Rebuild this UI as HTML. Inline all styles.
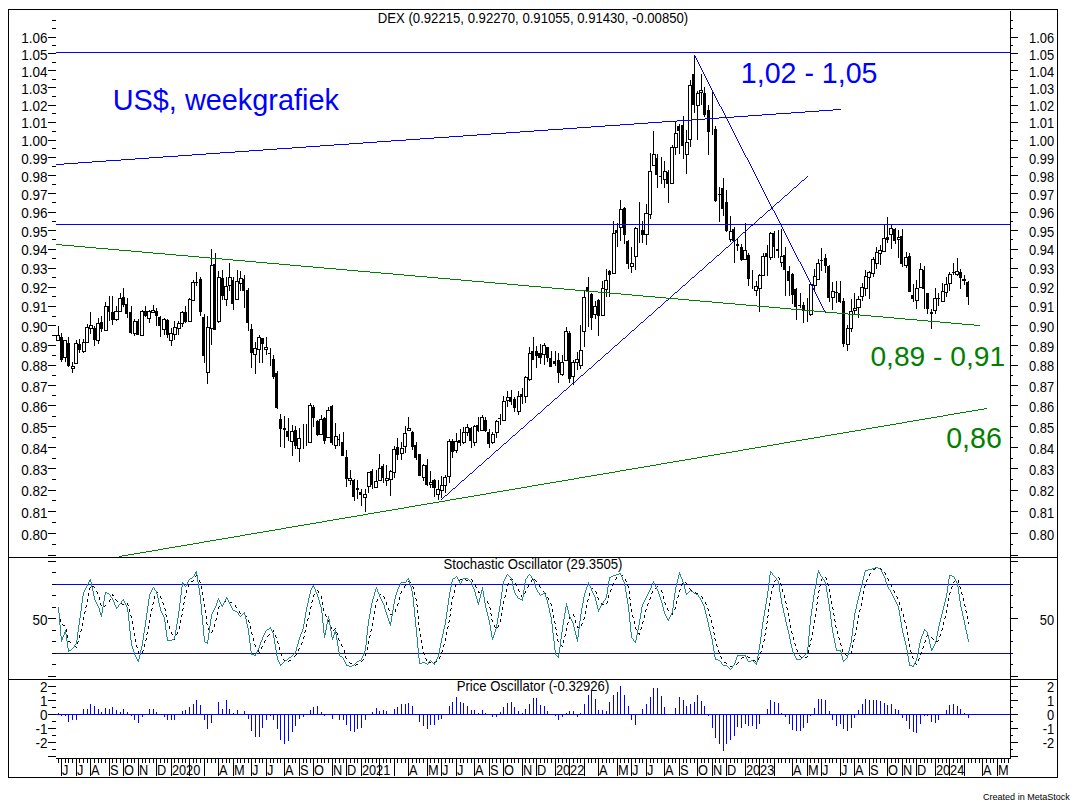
<!DOCTYPE html>
<html><head><meta charset="utf-8"><title>DEX weekgrafiek</title>
<style>
html,body{margin:0;padding:0;background:#fff;}
body{width:1073px;height:806px;overflow:hidden;font-family:"Liberation Sans",sans-serif;}
svg{position:absolute;left:0;top:0;display:block;}
text{font-family:"Liberation Sans",sans-serif;}
</style></head><body>
<svg width="1073" height="806" viewBox="0 0 1073 806">
<rect x="0" y="0" width="1073" height="806" fill="#fff"/>
<g shape-rendering="crispEdges">
<rect x="8" y="9" width="1050" height="1" fill="#000"/>
<rect x="8" y="777" width="1050" height="1" fill="#000"/>
<rect x="8" y="9" width="1" height="769" fill="#000"/>
<rect x="1057" y="9" width="1" height="769" fill="#000"/>
<rect x="8" y="557" width="1050" height="1" fill="#000"/>
<rect x="8" y="679" width="1050" height="1" fill="#000"/>
<rect x="1010" y="11" width="1" height="748" fill="#000"/>
<rect x="56" y="758" width="955" height="1" fill="#000"/>
<rect x="52" y="20" width="4" height="1" fill="#000"/>
<rect x="1011" y="20" width="2" height="1" fill="#000"/>
<rect x="52" y="28" width="4" height="1" fill="#000"/>
<rect x="1011" y="28" width="2" height="1" fill="#000"/>
<rect x="48" y="37" width="8" height="1" fill="#000"/>
<rect x="1011" y="37" width="7" height="1" fill="#000"/>
<rect x="52" y="45" width="4" height="1" fill="#000"/>
<rect x="1011" y="45" width="2" height="1" fill="#000"/>
<rect x="48" y="53" width="8" height="1" fill="#000"/>
<rect x="1011" y="53" width="7" height="1" fill="#000"/>
<rect x="52" y="62" width="4" height="1" fill="#000"/>
<rect x="1011" y="62" width="2" height="1" fill="#000"/>
<rect x="48" y="70" width="8" height="1" fill="#000"/>
<rect x="1011" y="70" width="7" height="1" fill="#000"/>
<rect x="52" y="79" width="4" height="1" fill="#000"/>
<rect x="1011" y="79" width="2" height="1" fill="#000"/>
<rect x="48" y="87" width="8" height="1" fill="#000"/>
<rect x="1011" y="87" width="7" height="1" fill="#000"/>
<rect x="52" y="96" width="4" height="1" fill="#000"/>
<rect x="1011" y="96" width="2" height="1" fill="#000"/>
<rect x="48" y="105" width="8" height="1" fill="#000"/>
<rect x="1011" y="105" width="7" height="1" fill="#000"/>
<rect x="52" y="113" width="4" height="1" fill="#000"/>
<rect x="1011" y="113" width="2" height="1" fill="#000"/>
<rect x="48" y="122" width="8" height="1" fill="#000"/>
<rect x="1011" y="122" width="7" height="1" fill="#000"/>
<rect x="52" y="131" width="4" height="1" fill="#000"/>
<rect x="1011" y="131" width="2" height="1" fill="#000"/>
<rect x="48" y="140" width="8" height="1" fill="#000"/>
<rect x="1011" y="140" width="7" height="1" fill="#000"/>
<rect x="52" y="148" width="4" height="1" fill="#000"/>
<rect x="1011" y="148" width="2" height="1" fill="#000"/>
<rect x="48" y="157" width="8" height="1" fill="#000"/>
<rect x="1011" y="157" width="7" height="1" fill="#000"/>
<rect x="52" y="166" width="4" height="1" fill="#000"/>
<rect x="1011" y="166" width="2" height="1" fill="#000"/>
<rect x="48" y="175" width="8" height="1" fill="#000"/>
<rect x="1011" y="175" width="7" height="1" fill="#000"/>
<rect x="52" y="184" width="4" height="1" fill="#000"/>
<rect x="1011" y="184" width="2" height="1" fill="#000"/>
<rect x="48" y="193" width="8" height="1" fill="#000"/>
<rect x="1011" y="193" width="7" height="1" fill="#000"/>
<rect x="52" y="202" width="4" height="1" fill="#000"/>
<rect x="1011" y="202" width="2" height="1" fill="#000"/>
<rect x="48" y="212" width="8" height="1" fill="#000"/>
<rect x="1011" y="212" width="7" height="1" fill="#000"/>
<rect x="52" y="221" width="4" height="1" fill="#000"/>
<rect x="1011" y="221" width="2" height="1" fill="#000"/>
<rect x="48" y="230" width="8" height="1" fill="#000"/>
<rect x="1011" y="230" width="7" height="1" fill="#000"/>
<rect x="52" y="239" width="4" height="1" fill="#000"/>
<rect x="1011" y="239" width="2" height="1" fill="#000"/>
<rect x="48" y="249" width="8" height="1" fill="#000"/>
<rect x="1011" y="249" width="7" height="1" fill="#000"/>
<rect x="52" y="258" width="4" height="1" fill="#000"/>
<rect x="1011" y="258" width="2" height="1" fill="#000"/>
<rect x="48" y="268" width="8" height="1" fill="#000"/>
<rect x="1011" y="268" width="7" height="1" fill="#000"/>
<rect x="52" y="277" width="4" height="1" fill="#000"/>
<rect x="1011" y="277" width="2" height="1" fill="#000"/>
<rect x="48" y="287" width="8" height="1" fill="#000"/>
<rect x="1011" y="287" width="7" height="1" fill="#000"/>
<rect x="52" y="296" width="4" height="1" fill="#000"/>
<rect x="1011" y="296" width="2" height="1" fill="#000"/>
<rect x="48" y="306" width="8" height="1" fill="#000"/>
<rect x="1011" y="306" width="7" height="1" fill="#000"/>
<rect x="52" y="316" width="4" height="1" fill="#000"/>
<rect x="1011" y="316" width="2" height="1" fill="#000"/>
<rect x="48" y="325" width="8" height="1" fill="#000"/>
<rect x="1011" y="325" width="7" height="1" fill="#000"/>
<rect x="52" y="335" width="4" height="1" fill="#000"/>
<rect x="1011" y="335" width="2" height="1" fill="#000"/>
<rect x="48" y="345" width="8" height="1" fill="#000"/>
<rect x="1011" y="345" width="7" height="1" fill="#000"/>
<rect x="52" y="355" width="4" height="1" fill="#000"/>
<rect x="1011" y="355" width="2" height="1" fill="#000"/>
<rect x="48" y="365" width="8" height="1" fill="#000"/>
<rect x="1011" y="365" width="7" height="1" fill="#000"/>
<rect x="52" y="375" width="4" height="1" fill="#000"/>
<rect x="1011" y="375" width="2" height="1" fill="#000"/>
<rect x="48" y="385" width="8" height="1" fill="#000"/>
<rect x="1011" y="385" width="7" height="1" fill="#000"/>
<rect x="52" y="395" width="4" height="1" fill="#000"/>
<rect x="1011" y="395" width="2" height="1" fill="#000"/>
<rect x="48" y="405" width="8" height="1" fill="#000"/>
<rect x="1011" y="405" width="7" height="1" fill="#000"/>
<rect x="52" y="416" width="4" height="1" fill="#000"/>
<rect x="1011" y="416" width="2" height="1" fill="#000"/>
<rect x="48" y="426" width="8" height="1" fill="#000"/>
<rect x="1011" y="426" width="7" height="1" fill="#000"/>
<rect x="52" y="437" width="4" height="1" fill="#000"/>
<rect x="1011" y="437" width="2" height="1" fill="#000"/>
<rect x="48" y="447" width="8" height="1" fill="#000"/>
<rect x="1011" y="447" width="7" height="1" fill="#000"/>
<rect x="52" y="458" width="4" height="1" fill="#000"/>
<rect x="1011" y="458" width="2" height="1" fill="#000"/>
<rect x="48" y="468" width="8" height="1" fill="#000"/>
<rect x="1011" y="468" width="7" height="1" fill="#000"/>
<rect x="52" y="479" width="4" height="1" fill="#000"/>
<rect x="1011" y="479" width="2" height="1" fill="#000"/>
<rect x="48" y="490" width="8" height="1" fill="#000"/>
<rect x="1011" y="490" width="7" height="1" fill="#000"/>
<rect x="52" y="500" width="4" height="1" fill="#000"/>
<rect x="1011" y="500" width="2" height="1" fill="#000"/>
<rect x="48" y="511" width="8" height="1" fill="#000"/>
<rect x="1011" y="511" width="7" height="1" fill="#000"/>
<rect x="52" y="522" width="4" height="1" fill="#000"/>
<rect x="1011" y="522" width="2" height="1" fill="#000"/>
<rect x="48" y="533" width="8" height="1" fill="#000"/>
<rect x="1011" y="533" width="7" height="1" fill="#000"/>
<rect x="52" y="544" width="4" height="1" fill="#000"/>
<rect x="1011" y="544" width="2" height="1" fill="#000"/>
<rect x="48" y="555" width="8" height="1" fill="#000"/>
<rect x="1011" y="555" width="7" height="1" fill="#000"/>
<rect x="48" y="676" width="8" height="1" fill="#000"/>
<rect x="1011" y="676" width="7" height="1" fill="#000"/>
<rect x="52" y="664" width="4" height="1" fill="#000"/>
<rect x="1011" y="664" width="2" height="1" fill="#000"/>
<rect x="52" y="653" width="4" height="1" fill="#000"/>
<rect x="1011" y="653" width="2" height="1" fill="#000"/>
<rect x="52" y="641" width="4" height="1" fill="#000"/>
<rect x="1011" y="641" width="2" height="1" fill="#000"/>
<rect x="52" y="630" width="4" height="1" fill="#000"/>
<rect x="1011" y="630" width="2" height="1" fill="#000"/>
<rect x="48" y="618" width="8" height="1" fill="#000"/>
<rect x="1011" y="618" width="7" height="1" fill="#000"/>
<rect x="52" y="607" width="4" height="1" fill="#000"/>
<rect x="1011" y="607" width="2" height="1" fill="#000"/>
<rect x="52" y="595" width="4" height="1" fill="#000"/>
<rect x="1011" y="595" width="2" height="1" fill="#000"/>
<rect x="52" y="584" width="4" height="1" fill="#000"/>
<rect x="1011" y="584" width="2" height="1" fill="#000"/>
<rect x="52" y="572" width="4" height="1" fill="#000"/>
<rect x="1011" y="572" width="2" height="1" fill="#000"/>
<rect x="48" y="561" width="8" height="1" fill="#000"/>
<rect x="1011" y="561" width="7" height="1" fill="#000"/>
<rect x="48" y="756" width="8" height="1" fill="#000"/>
<rect x="1011" y="756" width="7" height="1" fill="#000"/>
<rect x="52" y="749" width="4" height="1" fill="#000"/>
<rect x="1011" y="749" width="2" height="1" fill="#000"/>
<rect x="48" y="742" width="8" height="1" fill="#000"/>
<rect x="1011" y="742" width="7" height="1" fill="#000"/>
<rect x="52" y="735" width="4" height="1" fill="#000"/>
<rect x="1011" y="735" width="2" height="1" fill="#000"/>
<rect x="48" y="728" width="8" height="1" fill="#000"/>
<rect x="1011" y="728" width="7" height="1" fill="#000"/>
<rect x="52" y="721" width="4" height="1" fill="#000"/>
<rect x="1011" y="721" width="2" height="1" fill="#000"/>
<rect x="48" y="714" width="8" height="1" fill="#000"/>
<rect x="1011" y="714" width="7" height="1" fill="#000"/>
<rect x="52" y="707" width="4" height="1" fill="#000"/>
<rect x="1011" y="707" width="2" height="1" fill="#000"/>
<rect x="48" y="700" width="8" height="1" fill="#000"/>
<rect x="1011" y="700" width="7" height="1" fill="#000"/>
<rect x="52" y="693" width="4" height="1" fill="#000"/>
<rect x="1011" y="693" width="2" height="1" fill="#000"/>
<rect x="48" y="686" width="8" height="1" fill="#000"/>
<rect x="1011" y="686" width="7" height="1" fill="#000"/>
<rect x="58" y="759" width="1" height="4" fill="#000"/>
<rect x="61" y="759" width="1" height="17" fill="#000"/>
<rect x="65" y="759" width="1" height="4" fill="#000"/>
<rect x="68" y="759" width="1" height="4" fill="#000"/>
<rect x="72" y="759" width="1" height="4" fill="#000"/>
<rect x="76" y="759" width="1" height="17" fill="#000"/>
<rect x="79" y="759" width="1" height="4" fill="#000"/>
<rect x="83" y="759" width="1" height="4" fill="#000"/>
<rect x="87" y="759" width="1" height="4" fill="#000"/>
<rect x="90" y="759" width="1" height="17" fill="#000"/>
<rect x="94" y="759" width="1" height="4" fill="#000"/>
<rect x="98" y="759" width="1" height="4" fill="#000"/>
<rect x="101" y="759" width="1" height="4" fill="#000"/>
<rect x="105" y="759" width="1" height="4" fill="#000"/>
<rect x="109" y="759" width="1" height="17" fill="#000"/>
<rect x="112" y="759" width="1" height="4" fill="#000"/>
<rect x="116" y="759" width="1" height="4" fill="#000"/>
<rect x="120" y="759" width="1" height="4" fill="#000"/>
<rect x="123" y="759" width="1" height="17" fill="#000"/>
<rect x="127" y="759" width="1" height="4" fill="#000"/>
<rect x="131" y="759" width="1" height="4" fill="#000"/>
<rect x="134" y="759" width="1" height="4" fill="#000"/>
<rect x="138" y="759" width="1" height="17" fill="#000"/>
<rect x="142" y="759" width="1" height="4" fill="#000"/>
<rect x="145" y="759" width="1" height="4" fill="#000"/>
<rect x="149" y="759" width="1" height="4" fill="#000"/>
<rect x="153" y="759" width="1" height="4" fill="#000"/>
<rect x="156" y="759" width="1" height="17" fill="#000"/>
<rect x="160" y="759" width="1" height="4" fill="#000"/>
<rect x="164" y="759" width="1" height="4" fill="#000"/>
<rect x="167" y="759" width="1" height="4" fill="#000"/>
<rect x="171" y="759" width="1" height="17" fill="#000"/>
<rect x="174" y="759" width="1" height="4" fill="#000"/>
<rect x="178" y="759" width="1" height="4" fill="#000"/>
<rect x="182" y="759" width="1" height="4" fill="#000"/>
<rect x="185" y="759" width="1" height="4" fill="#000"/>
<rect x="189" y="759" width="1" height="17" fill="#000"/>
<rect x="193" y="759" width="1" height="4" fill="#000"/>
<rect x="196" y="759" width="1" height="4" fill="#000"/>
<rect x="200" y="759" width="1" height="4" fill="#000"/>
<rect x="204" y="759" width="1" height="17" fill="#000"/>
<rect x="207" y="759" width="1" height="4" fill="#000"/>
<rect x="211" y="759" width="1" height="4" fill="#000"/>
<rect x="215" y="759" width="1" height="4" fill="#000"/>
<rect x="218" y="759" width="1" height="17" fill="#000"/>
<rect x="222" y="759" width="1" height="4" fill="#000"/>
<rect x="226" y="759" width="1" height="4" fill="#000"/>
<rect x="229" y="759" width="1" height="4" fill="#000"/>
<rect x="233" y="759" width="1" height="17" fill="#000"/>
<rect x="237" y="759" width="1" height="4" fill="#000"/>
<rect x="240" y="759" width="1" height="4" fill="#000"/>
<rect x="244" y="759" width="1" height="4" fill="#000"/>
<rect x="248" y="759" width="1" height="4" fill="#000"/>
<rect x="251" y="759" width="1" height="17" fill="#000"/>
<rect x="255" y="759" width="1" height="4" fill="#000"/>
<rect x="259" y="759" width="1" height="4" fill="#000"/>
<rect x="262" y="759" width="1" height="4" fill="#000"/>
<rect x="266" y="759" width="1" height="17" fill="#000"/>
<rect x="270" y="759" width="1" height="4" fill="#000"/>
<rect x="273" y="759" width="1" height="4" fill="#000"/>
<rect x="277" y="759" width="1" height="4" fill="#000"/>
<rect x="280" y="759" width="1" height="4" fill="#000"/>
<rect x="284" y="759" width="1" height="17" fill="#000"/>
<rect x="288" y="759" width="1" height="4" fill="#000"/>
<rect x="292" y="759" width="1" height="4" fill="#000"/>
<rect x="295" y="759" width="1" height="4" fill="#000"/>
<rect x="299" y="759" width="1" height="17" fill="#000"/>
<rect x="303" y="759" width="1" height="4" fill="#000"/>
<rect x="306" y="759" width="1" height="4" fill="#000"/>
<rect x="310" y="759" width="1" height="4" fill="#000"/>
<rect x="313" y="759" width="1" height="17" fill="#000"/>
<rect x="317" y="759" width="1" height="4" fill="#000"/>
<rect x="321" y="759" width="1" height="4" fill="#000"/>
<rect x="324" y="759" width="1" height="4" fill="#000"/>
<rect x="328" y="759" width="1" height="4" fill="#000"/>
<rect x="332" y="759" width="1" height="17" fill="#000"/>
<rect x="335" y="759" width="1" height="4" fill="#000"/>
<rect x="339" y="759" width="1" height="4" fill="#000"/>
<rect x="343" y="759" width="1" height="4" fill="#000"/>
<rect x="346" y="759" width="1" height="17" fill="#000"/>
<rect x="350" y="759" width="1" height="4" fill="#000"/>
<rect x="354" y="759" width="1" height="4" fill="#000"/>
<rect x="357" y="759" width="1" height="4" fill="#000"/>
<rect x="361" y="759" width="1" height="17" fill="#000"/>
<rect x="365" y="759" width="1" height="4" fill="#000"/>
<rect x="368" y="759" width="1" height="4" fill="#000"/>
<rect x="372" y="759" width="1" height="4" fill="#000"/>
<rect x="376" y="759" width="1" height="4" fill="#000"/>
<rect x="379" y="759" width="1" height="17" fill="#000"/>
<rect x="383" y="759" width="1" height="4" fill="#000"/>
<rect x="386" y="759" width="1" height="4" fill="#000"/>
<rect x="390" y="759" width="1" height="4" fill="#000"/>
<rect x="394" y="759" width="1" height="17" fill="#000"/>
<rect x="397" y="759" width="1" height="4" fill="#000"/>
<rect x="401" y="759" width="1" height="4" fill="#000"/>
<rect x="405" y="759" width="1" height="4" fill="#000"/>
<rect x="408" y="759" width="1" height="17" fill="#000"/>
<rect x="412" y="759" width="1" height="4" fill="#000"/>
<rect x="416" y="759" width="1" height="4" fill="#000"/>
<rect x="419" y="759" width="1" height="4" fill="#000"/>
<rect x="423" y="759" width="1" height="4" fill="#000"/>
<rect x="427" y="759" width="1" height="17" fill="#000"/>
<rect x="430" y="759" width="1" height="4" fill="#000"/>
<rect x="434" y="759" width="1" height="4" fill="#000"/>
<rect x="438" y="759" width="1" height="4" fill="#000"/>
<rect x="441" y="759" width="1" height="17" fill="#000"/>
<rect x="445" y="759" width="1" height="4" fill="#000"/>
<rect x="449" y="759" width="1" height="4" fill="#000"/>
<rect x="452" y="759" width="1" height="4" fill="#000"/>
<rect x="456" y="759" width="1" height="17" fill="#000"/>
<rect x="460" y="759" width="1" height="4" fill="#000"/>
<rect x="463" y="759" width="1" height="4" fill="#000"/>
<rect x="467" y="759" width="1" height="4" fill="#000"/>
<rect x="471" y="759" width="1" height="4" fill="#000"/>
<rect x="474" y="759" width="1" height="17" fill="#000"/>
<rect x="478" y="759" width="1" height="4" fill="#000"/>
<rect x="482" y="759" width="1" height="4" fill="#000"/>
<rect x="485" y="759" width="1" height="4" fill="#000"/>
<rect x="489" y="759" width="1" height="17" fill="#000"/>
<rect x="492" y="759" width="1" height="4" fill="#000"/>
<rect x="496" y="759" width="1" height="4" fill="#000"/>
<rect x="500" y="759" width="1" height="4" fill="#000"/>
<rect x="503" y="759" width="1" height="17" fill="#000"/>
<rect x="507" y="759" width="1" height="4" fill="#000"/>
<rect x="511" y="759" width="1" height="4" fill="#000"/>
<rect x="514" y="759" width="1" height="4" fill="#000"/>
<rect x="518" y="759" width="1" height="4" fill="#000"/>
<rect x="522" y="759" width="1" height="17" fill="#000"/>
<rect x="525" y="759" width="1" height="4" fill="#000"/>
<rect x="529" y="759" width="1" height="4" fill="#000"/>
<rect x="533" y="759" width="1" height="4" fill="#000"/>
<rect x="536" y="759" width="1" height="17" fill="#000"/>
<rect x="540" y="759" width="1" height="4" fill="#000"/>
<rect x="544" y="759" width="1" height="4" fill="#000"/>
<rect x="547" y="759" width="1" height="4" fill="#000"/>
<rect x="551" y="759" width="1" height="4" fill="#000"/>
<rect x="555" y="759" width="1" height="17" fill="#000"/>
<rect x="558" y="759" width="1" height="4" fill="#000"/>
<rect x="562" y="759" width="1" height="4" fill="#000"/>
<rect x="566" y="759" width="1" height="4" fill="#000"/>
<rect x="569" y="759" width="1" height="17" fill="#000"/>
<rect x="573" y="759" width="1" height="4" fill="#000"/>
<rect x="577" y="759" width="1" height="4" fill="#000"/>
<rect x="580" y="759" width="1" height="4" fill="#000"/>
<rect x="584" y="759" width="1" height="17" fill="#000"/>
<rect x="588" y="759" width="1" height="4" fill="#000"/>
<rect x="591" y="759" width="1" height="4" fill="#000"/>
<rect x="595" y="759" width="1" height="4" fill="#000"/>
<rect x="598" y="759" width="1" height="17" fill="#000"/>
<rect x="602" y="759" width="1" height="4" fill="#000"/>
<rect x="606" y="759" width="1" height="4" fill="#000"/>
<rect x="609" y="759" width="1" height="4" fill="#000"/>
<rect x="613" y="759" width="1" height="4" fill="#000"/>
<rect x="617" y="759" width="1" height="17" fill="#000"/>
<rect x="620" y="759" width="1" height="4" fill="#000"/>
<rect x="624" y="759" width="1" height="4" fill="#000"/>
<rect x="628" y="759" width="1" height="4" fill="#000"/>
<rect x="631" y="759" width="1" height="17" fill="#000"/>
<rect x="635" y="759" width="1" height="4" fill="#000"/>
<rect x="639" y="759" width="1" height="4" fill="#000"/>
<rect x="642" y="759" width="1" height="4" fill="#000"/>
<rect x="646" y="759" width="1" height="17" fill="#000"/>
<rect x="650" y="759" width="1" height="4" fill="#000"/>
<rect x="653" y="759" width="1" height="4" fill="#000"/>
<rect x="657" y="759" width="1" height="4" fill="#000"/>
<rect x="661" y="759" width="1" height="4" fill="#000"/>
<rect x="664" y="759" width="1" height="17" fill="#000"/>
<rect x="668" y="759" width="1" height="4" fill="#000"/>
<rect x="672" y="759" width="1" height="4" fill="#000"/>
<rect x="675" y="759" width="1" height="4" fill="#000"/>
<rect x="679" y="759" width="1" height="17" fill="#000"/>
<rect x="683" y="759" width="1" height="4" fill="#000"/>
<rect x="686" y="759" width="1" height="4" fill="#000"/>
<rect x="690" y="759" width="1" height="4" fill="#000"/>
<rect x="694" y="759" width="1" height="4" fill="#000"/>
<rect x="697" y="759" width="1" height="17" fill="#000"/>
<rect x="701" y="759" width="1" height="4" fill="#000"/>
<rect x="704" y="759" width="1" height="4" fill="#000"/>
<rect x="708" y="759" width="1" height="4" fill="#000"/>
<rect x="712" y="759" width="1" height="17" fill="#000"/>
<rect x="715" y="759" width="1" height="4" fill="#000"/>
<rect x="719" y="759" width="1" height="4" fill="#000"/>
<rect x="723" y="759" width="1" height="4" fill="#000"/>
<rect x="726" y="759" width="1" height="17" fill="#000"/>
<rect x="730" y="759" width="1" height="4" fill="#000"/>
<rect x="734" y="759" width="1" height="4" fill="#000"/>
<rect x="737" y="759" width="1" height="4" fill="#000"/>
<rect x="741" y="759" width="1" height="4" fill="#000"/>
<rect x="745" y="759" width="1" height="17" fill="#000"/>
<rect x="748" y="759" width="1" height="4" fill="#000"/>
<rect x="752" y="759" width="1" height="4" fill="#000"/>
<rect x="756" y="759" width="1" height="4" fill="#000"/>
<rect x="759" y="759" width="1" height="17" fill="#000"/>
<rect x="763" y="759" width="1" height="4" fill="#000"/>
<rect x="767" y="759" width="1" height="4" fill="#000"/>
<rect x="770" y="759" width="1" height="4" fill="#000"/>
<rect x="774" y="759" width="1" height="17" fill="#000"/>
<rect x="778" y="759" width="1" height="4" fill="#000"/>
<rect x="781" y="759" width="1" height="4" fill="#000"/>
<rect x="785" y="759" width="1" height="4" fill="#000"/>
<rect x="789" y="759" width="1" height="4" fill="#000"/>
<rect x="792" y="759" width="1" height="17" fill="#000"/>
<rect x="796" y="759" width="1" height="4" fill="#000"/>
<rect x="800" y="759" width="1" height="4" fill="#000"/>
<rect x="803" y="759" width="1" height="4" fill="#000"/>
<rect x="807" y="759" width="1" height="17" fill="#000"/>
<rect x="810" y="759" width="1" height="4" fill="#000"/>
<rect x="814" y="759" width="1" height="4" fill="#000"/>
<rect x="818" y="759" width="1" height="4" fill="#000"/>
<rect x="821" y="759" width="1" height="17" fill="#000"/>
<rect x="825" y="759" width="1" height="4" fill="#000"/>
<rect x="829" y="759" width="1" height="4" fill="#000"/>
<rect x="832" y="759" width="1" height="4" fill="#000"/>
<rect x="836" y="759" width="1" height="4" fill="#000"/>
<rect x="840" y="759" width="1" height="17" fill="#000"/>
<rect x="843" y="759" width="1" height="4" fill="#000"/>
<rect x="847" y="759" width="1" height="4" fill="#000"/>
<rect x="851" y="759" width="1" height="4" fill="#000"/>
<rect x="854" y="759" width="1" height="17" fill="#000"/>
<rect x="858" y="759" width="1" height="4" fill="#000"/>
<rect x="862" y="759" width="1" height="4" fill="#000"/>
<rect x="865" y="759" width="1" height="4" fill="#000"/>
<rect x="869" y="759" width="1" height="17" fill="#000"/>
<rect x="873" y="759" width="1" height="4" fill="#000"/>
<rect x="876" y="759" width="1" height="4" fill="#000"/>
<rect x="880" y="759" width="1" height="4" fill="#000"/>
<rect x="884" y="759" width="1" height="4" fill="#000"/>
<rect x="887" y="759" width="1" height="17" fill="#000"/>
<rect x="891" y="759" width="1" height="4" fill="#000"/>
<rect x="895" y="759" width="1" height="4" fill="#000"/>
<rect x="898" y="759" width="1" height="4" fill="#000"/>
<rect x="902" y="759" width="1" height="17" fill="#000"/>
<rect x="906" y="759" width="1" height="4" fill="#000"/>
<rect x="909" y="759" width="1" height="4" fill="#000"/>
<rect x="913" y="759" width="1" height="4" fill="#000"/>
<rect x="916" y="759" width="1" height="17" fill="#000"/>
<rect x="920" y="759" width="1" height="4" fill="#000"/>
<rect x="924" y="759" width="1" height="4" fill="#000"/>
<rect x="927" y="759" width="1" height="4" fill="#000"/>
<rect x="931" y="759" width="1" height="4" fill="#000"/>
<rect x="935" y="759" width="1" height="17" fill="#000"/>
<rect x="938" y="759" width="1" height="4" fill="#000"/>
<rect x="942" y="759" width="1" height="4" fill="#000"/>
<rect x="946" y="759" width="1" height="4" fill="#000"/>
<rect x="949" y="759" width="1" height="17" fill="#000"/>
<rect x="953" y="759" width="1" height="4" fill="#000"/>
<rect x="957" y="759" width="1" height="4" fill="#000"/>
<rect x="960" y="759" width="1" height="4" fill="#000"/>
<rect x="964" y="759" width="1" height="17" fill="#000"/>
<rect x="968" y="759" width="1" height="4" fill="#000"/>
<rect x="971" y="759" width="1" height="4" fill="#000"/>
<rect x="975" y="759" width="1" height="4" fill="#000"/>
<rect x="979" y="759" width="1" height="4" fill="#000"/>
<rect x="982" y="759" width="1" height="17" fill="#000"/>
<rect x="986" y="759" width="1" height="4" fill="#000"/>
<rect x="990" y="759" width="1" height="4" fill="#000"/>
<rect x="993" y="759" width="1" height="4" fill="#000"/>
<rect x="997" y="759" width="1" height="17" fill="#000"/>
<rect x="1001" y="759" width="1" height="4" fill="#000"/>
<rect x="1004" y="759" width="1" height="4" fill="#000"/>
<rect x="1008" y="759" width="1" height="4" fill="#000"/>
<rect x="56" y="584" width="954" height="1" fill="#0000ff"/>
<rect x="56" y="653" width="954" height="1" fill="#0000ff"/>
<rect x="56" y="714" width="954" height="1" fill="#0000ff"/>
<rect x="58" y="326" width="1" height="15" fill="#000"/>
<rect x="56" y="335" width="4" height="6" fill="#000"/>
<rect x="57" y="336" width="2" height="4" fill="#fff"/>
<rect x="61" y="333" width="1" height="29" fill="#000"/>
<rect x="60" y="337" width="3" height="23" fill="#000"/>
<rect x="65" y="340" width="1" height="22" fill="#000"/>
<rect x="63" y="340" width="4" height="18" fill="#000"/>
<rect x="64" y="341" width="2" height="16" fill="#fff"/>
<rect x="68" y="337" width="1" height="30" fill="#000"/>
<rect x="67" y="343" width="3" height="23" fill="#000"/>
<rect x="72" y="362" width="1" height="11" fill="#000"/>
<rect x="71" y="366" width="4" height="3" fill="#000"/>
<rect x="72" y="367" width="2" height="1" fill="#fff"/>
<rect x="76" y="340" width="1" height="24" fill="#000"/>
<rect x="74" y="343" width="4" height="21" fill="#000"/>
<rect x="75" y="344" width="2" height="19" fill="#fff"/>
<rect x="79" y="339" width="1" height="14" fill="#000"/>
<rect x="78" y="344" width="3" height="6" fill="#000"/>
<rect x="83" y="339" width="1" height="14" fill="#000"/>
<rect x="82" y="342" width="4" height="10" fill="#000"/>
<rect x="83" y="343" width="2" height="8" fill="#fff"/>
<rect x="87" y="324" width="1" height="19" fill="#000"/>
<rect x="85" y="327" width="4" height="16" fill="#000"/>
<rect x="86" y="328" width="2" height="14" fill="#fff"/>
<rect x="90" y="312" width="1" height="22" fill="#000"/>
<rect x="89" y="325" width="4" height="4" fill="#000"/>
<rect x="90" y="326" width="2" height="2" fill="#fff"/>
<rect x="94" y="326" width="1" height="20" fill="#000"/>
<rect x="93" y="328" width="3" height="12" fill="#000"/>
<rect x="98" y="318" width="1" height="26" fill="#000"/>
<rect x="96" y="323" width="4" height="18" fill="#000"/>
<rect x="97" y="324" width="2" height="16" fill="#fff"/>
<rect x="101" y="316" width="1" height="16" fill="#000"/>
<rect x="100" y="322" width="3" height="7" fill="#000"/>
<rect x="105" y="302" width="1" height="29" fill="#000"/>
<rect x="104" y="306" width="4" height="25" fill="#000"/>
<rect x="105" y="307" width="2" height="23" fill="#fff"/>
<rect x="109" y="296" width="1" height="25" fill="#000"/>
<rect x="107" y="306" width="3" height="6" fill="#000"/>
<rect x="112" y="296" width="1" height="29" fill="#000"/>
<rect x="111" y="312" width="3" height="8" fill="#000"/>
<rect x="116" y="306" width="1" height="15" fill="#000"/>
<rect x="114" y="311" width="5" height="9" fill="#000"/>
<rect x="115" y="312" width="3" height="7" fill="#fff"/>
<rect x="120" y="293" width="1" height="19" fill="#000"/>
<rect x="118" y="298" width="4" height="14" fill="#000"/>
<rect x="119" y="299" width="2" height="12" fill="#fff"/>
<rect x="123" y="288" width="1" height="19" fill="#000"/>
<rect x="122" y="297" width="3" height="8" fill="#000"/>
<rect x="127" y="298" width="1" height="20" fill="#000"/>
<rect x="125" y="304" width="3" height="10" fill="#000"/>
<rect x="131" y="306" width="1" height="28" fill="#000"/>
<rect x="129" y="312" width="3" height="21" fill="#000"/>
<rect x="134" y="319" width="1" height="17" fill="#000"/>
<rect x="133" y="321" width="4" height="13" fill="#000"/>
<rect x="134" y="322" width="2" height="11" fill="#fff"/>
<rect x="138" y="319" width="1" height="16" fill="#000"/>
<rect x="136" y="321" width="3" height="14" fill="#000"/>
<rect x="142" y="310" width="1" height="26" fill="#000"/>
<rect x="140" y="311" width="4" height="25" fill="#000"/>
<rect x="141" y="312" width="2" height="23" fill="#fff"/>
<rect x="145" y="306" width="1" height="11" fill="#000"/>
<rect x="144" y="311" width="3" height="5" fill="#000"/>
<rect x="149" y="310" width="1" height="13" fill="#000"/>
<rect x="147" y="311" width="4" height="8" fill="#000"/>
<rect x="148" y="312" width="2" height="6" fill="#fff"/>
<rect x="153" y="305" width="1" height="8" fill="#000"/>
<rect x="151" y="310" width="4" height="3" fill="#000"/>
<rect x="152" y="311" width="2" height="1" fill="#fff"/>
<rect x="156" y="308" width="1" height="18" fill="#000"/>
<rect x="155" y="311" width="3" height="5" fill="#000"/>
<rect x="160" y="316" width="1" height="21" fill="#000"/>
<rect x="158" y="317" width="3" height="9" fill="#000"/>
<rect x="164" y="318" width="1" height="17" fill="#000"/>
<rect x="162" y="319" width="4" height="11" fill="#000"/>
<rect x="163" y="320" width="2" height="9" fill="#fff"/>
<rect x="167" y="319" width="1" height="19" fill="#000"/>
<rect x="166" y="320" width="3" height="15" fill="#000"/>
<rect x="171" y="328" width="1" height="18" fill="#000"/>
<rect x="169" y="333" width="4" height="8" fill="#000"/>
<rect x="170" y="334" width="2" height="6" fill="#fff"/>
<rect x="174" y="321" width="1" height="19" fill="#000"/>
<rect x="173" y="327" width="4" height="8" fill="#000"/>
<rect x="174" y="328" width="2" height="6" fill="#fff"/>
<rect x="178" y="321" width="1" height="14" fill="#000"/>
<rect x="177" y="323" width="4" height="6" fill="#000"/>
<rect x="178" y="324" width="2" height="4" fill="#fff"/>
<rect x="182" y="311" width="1" height="16" fill="#000"/>
<rect x="180" y="312" width="4" height="12" fill="#000"/>
<rect x="181" y="313" width="2" height="10" fill="#fff"/>
<rect x="185" y="306" width="1" height="17" fill="#000"/>
<rect x="184" y="312" width="3" height="10" fill="#000"/>
<rect x="189" y="298" width="1" height="24" fill="#000"/>
<rect x="188" y="299" width="4" height="23" fill="#000"/>
<rect x="189" y="300" width="2" height="21" fill="#fff"/>
<rect x="193" y="280" width="1" height="21" fill="#000"/>
<rect x="191" y="282" width="4" height="19" fill="#000"/>
<rect x="192" y="283" width="2" height="17" fill="#fff"/>
<rect x="196" y="272" width="1" height="14" fill="#000"/>
<rect x="195" y="282" width="3" height="1" fill="#000"/>
<rect x="200" y="277" width="1" height="39" fill="#000"/>
<rect x="199" y="279" width="3" height="33" fill="#000"/>
<rect x="204" y="314" width="1" height="49" fill="#000"/>
<rect x="202" y="317" width="3" height="39" fill="#000"/>
<rect x="207" y="316" width="1" height="68" fill="#000"/>
<rect x="206" y="327" width="4" height="46" fill="#000"/>
<rect x="207" y="328" width="2" height="44" fill="#fff"/>
<rect x="211" y="249" width="1" height="96" fill="#000"/>
<rect x="210" y="265" width="4" height="64" fill="#000"/>
<rect x="211" y="266" width="2" height="62" fill="#fff"/>
<rect x="215" y="253" width="1" height="77" fill="#000"/>
<rect x="213" y="264" width="3" height="66" fill="#000"/>
<rect x="218" y="271" width="1" height="52" fill="#000"/>
<rect x="217" y="277" width="4" height="45" fill="#000"/>
<rect x="218" y="278" width="2" height="43" fill="#fff"/>
<rect x="222" y="270" width="1" height="30" fill="#000"/>
<rect x="220" y="278" width="4" height="18" fill="#000"/>
<rect x="226" y="277" width="1" height="29" fill="#000"/>
<rect x="224" y="286" width="4" height="14" fill="#000"/>
<rect x="225" y="287" width="2" height="12" fill="#fff"/>
<rect x="229" y="263" width="1" height="28" fill="#000"/>
<rect x="228" y="277" width="4" height="9" fill="#000"/>
<rect x="229" y="278" width="2" height="7" fill="#fff"/>
<rect x="233" y="277" width="1" height="33" fill="#000"/>
<rect x="231" y="280" width="3" height="24" fill="#000"/>
<rect x="237" y="270" width="1" height="30" fill="#000"/>
<rect x="235" y="281" width="4" height="19" fill="#000"/>
<rect x="236" y="282" width="2" height="17" fill="#fff"/>
<rect x="240" y="271" width="1" height="20" fill="#000"/>
<rect x="239" y="278" width="4" height="6" fill="#000"/>
<rect x="240" y="279" width="2" height="4" fill="#fff"/>
<rect x="244" y="275" width="1" height="33" fill="#000"/>
<rect x="242" y="279" width="3" height="12" fill="#000"/>
<rect x="248" y="288" width="1" height="43" fill="#000"/>
<rect x="246" y="290" width="3" height="33" fill="#000"/>
<rect x="251" y="324" width="1" height="44" fill="#000"/>
<rect x="250" y="329" width="3" height="24" fill="#000"/>
<rect x="255" y="342" width="1" height="32" fill="#000"/>
<rect x="253" y="348" width="4" height="7" fill="#000"/>
<rect x="254" y="349" width="2" height="5" fill="#fff"/>
<rect x="259" y="335" width="1" height="28" fill="#000"/>
<rect x="257" y="337" width="4" height="13" fill="#000"/>
<rect x="258" y="338" width="2" height="11" fill="#fff"/>
<rect x="262" y="338" width="1" height="25" fill="#000"/>
<rect x="261" y="338" width="3" height="6" fill="#000"/>
<rect x="266" y="337" width="1" height="18" fill="#000"/>
<rect x="264" y="347" width="4" height="3" fill="#000"/>
<rect x="265" y="348" width="2" height="1" fill="#fff"/>
<rect x="270" y="348" width="1" height="18" fill="#000"/>
<rect x="268" y="353" width="3" height="1" fill="#000"/>
<rect x="273" y="355" width="1" height="24" fill="#000"/>
<rect x="272" y="359" width="3" height="18" fill="#000"/>
<rect x="277" y="371" width="1" height="38" fill="#000"/>
<rect x="275" y="373" width="3" height="35" fill="#000"/>
<rect x="280" y="414" width="1" height="33" fill="#000"/>
<rect x="279" y="419" width="3" height="10" fill="#000"/>
<rect x="284" y="416" width="1" height="32" fill="#000"/>
<rect x="283" y="428" width="3" height="2" fill="#000"/>
<rect x="288" y="418" width="1" height="23" fill="#000"/>
<rect x="286" y="431" width="3" height="6" fill="#000"/>
<rect x="292" y="425" width="1" height="31" fill="#000"/>
<rect x="290" y="431" width="4" height="11" fill="#000"/>
<rect x="291" y="432" width="2" height="9" fill="#fff"/>
<rect x="295" y="426" width="1" height="23" fill="#000"/>
<rect x="294" y="430" width="3" height="16" fill="#000"/>
<rect x="299" y="428" width="1" height="34" fill="#000"/>
<rect x="297" y="438" width="4" height="11" fill="#000"/>
<rect x="298" y="439" width="2" height="9" fill="#fff"/>
<rect x="303" y="424" width="1" height="25" fill="#000"/>
<rect x="306" y="424" width="1" height="22" fill="#000"/>
<rect x="310" y="403" width="1" height="40" fill="#000"/>
<rect x="308" y="405" width="4" height="38" fill="#000"/>
<rect x="309" y="406" width="2" height="36" fill="#fff"/>
<rect x="313" y="405" width="1" height="22" fill="#000"/>
<rect x="312" y="407" width="3" height="11" fill="#000"/>
<rect x="317" y="420" width="1" height="16" fill="#000"/>
<rect x="316" y="421" width="3" height="14" fill="#000"/>
<rect x="321" y="415" width="1" height="20" fill="#000"/>
<rect x="319" y="419" width="4" height="16" fill="#000"/>
<rect x="320" y="420" width="2" height="14" fill="#fff"/>
<rect x="324" y="417" width="1" height="27" fill="#000"/>
<rect x="323" y="418" width="3" height="23" fill="#000"/>
<rect x="328" y="407" width="1" height="31" fill="#000"/>
<rect x="326" y="410" width="5" height="28" fill="#000"/>
<rect x="327" y="411" width="3" height="26" fill="#fff"/>
<rect x="332" y="405" width="1" height="40" fill="#000"/>
<rect x="330" y="406" width="3" height="37" fill="#000"/>
<rect x="335" y="423" width="1" height="26" fill="#000"/>
<rect x="334" y="436" width="4" height="10" fill="#000"/>
<rect x="335" y="437" width="2" height="8" fill="#fff"/>
<rect x="339" y="434" width="1" height="12" fill="#000"/>
<rect x="337" y="439" width="3" height="1" fill="#000"/>
<rect x="343" y="432" width="1" height="24" fill="#000"/>
<rect x="341" y="442" width="3" height="14" fill="#000"/>
<rect x="346" y="450" width="1" height="37" fill="#000"/>
<rect x="345" y="457" width="3" height="22" fill="#000"/>
<rect x="350" y="470" width="1" height="15" fill="#000"/>
<rect x="348" y="478" width="4" height="3" fill="#000"/>
<rect x="349" y="479" width="2" height="1" fill="#fff"/>
<rect x="354" y="479" width="1" height="22" fill="#000"/>
<rect x="352" y="480" width="3" height="17" fill="#000"/>
<rect x="357" y="480" width="1" height="19" fill="#000"/>
<rect x="356" y="488" width="3" height="2" fill="#000"/>
<rect x="361" y="489" width="1" height="17" fill="#000"/>
<rect x="359" y="492" width="3" height="3" fill="#000"/>
<rect x="365" y="489" width="1" height="23" fill="#000"/>
<rect x="363" y="494" width="4" height="4" fill="#000"/>
<rect x="364" y="495" width="2" height="2" fill="#fff"/>
<rect x="368" y="472" width="1" height="21" fill="#000"/>
<rect x="367" y="472" width="4" height="15" fill="#000"/>
<rect x="368" y="473" width="2" height="13" fill="#fff"/>
<rect x="372" y="469" width="1" height="20" fill="#000"/>
<rect x="370" y="471" width="3" height="14" fill="#000"/>
<rect x="376" y="470" width="1" height="18" fill="#000"/>
<rect x="374" y="481" width="4" height="7" fill="#000"/>
<rect x="375" y="482" width="2" height="5" fill="#fff"/>
<rect x="379" y="454" width="1" height="27" fill="#000"/>
<rect x="378" y="468" width="4" height="13" fill="#000"/>
<rect x="379" y="469" width="2" height="11" fill="#fff"/>
<rect x="383" y="464" width="1" height="19" fill="#000"/>
<rect x="381" y="466" width="3" height="12" fill="#000"/>
<rect x="386" y="465" width="1" height="21" fill="#000"/>
<rect x="385" y="478" width="4" height="3" fill="#000"/>
<rect x="386" y="479" width="2" height="1" fill="#fff"/>
<rect x="390" y="470" width="1" height="26" fill="#000"/>
<rect x="389" y="471" width="4" height="9" fill="#000"/>
<rect x="390" y="472" width="2" height="7" fill="#fff"/>
<rect x="394" y="446" width="1" height="32" fill="#000"/>
<rect x="392" y="449" width="4" height="24" fill="#000"/>
<rect x="393" y="450" width="2" height="22" fill="#fff"/>
<rect x="397" y="438" width="1" height="22" fill="#000"/>
<rect x="396" y="447" width="3" height="8" fill="#000"/>
<rect x="401" y="442" width="1" height="18" fill="#000"/>
<rect x="400" y="448" width="4" height="6" fill="#000"/>
<rect x="401" y="449" width="2" height="4" fill="#fff"/>
<rect x="405" y="426" width="1" height="27" fill="#000"/>
<rect x="403" y="433" width="4" height="14" fill="#000"/>
<rect x="404" y="434" width="2" height="12" fill="#fff"/>
<rect x="408" y="417" width="1" height="14" fill="#000"/>
<rect x="407" y="428" width="4" height="3" fill="#000"/>
<rect x="408" y="429" width="2" height="1" fill="#fff"/>
<rect x="412" y="431" width="1" height="19" fill="#000"/>
<rect x="411" y="432" width="3" height="15" fill="#000"/>
<rect x="416" y="442" width="1" height="18" fill="#000"/>
<rect x="414" y="445" width="3" height="13" fill="#000"/>
<rect x="419" y="454" width="1" height="22" fill="#000"/>
<rect x="418" y="454" width="3" height="22" fill="#000"/>
<rect x="423" y="464" width="1" height="17" fill="#000"/>
<rect x="422" y="465" width="4" height="13" fill="#000"/>
<rect x="423" y="466" width="2" height="11" fill="#fff"/>
<rect x="427" y="459" width="1" height="27" fill="#000"/>
<rect x="425" y="465" width="3" height="20" fill="#000"/>
<rect x="430" y="471" width="1" height="17" fill="#000"/>
<rect x="429" y="482" width="4" height="3" fill="#000"/>
<rect x="430" y="483" width="2" height="1" fill="#fff"/>
<rect x="434" y="479" width="1" height="18" fill="#000"/>
<rect x="432" y="480" width="4" height="8" fill="#000"/>
<rect x="438" y="480" width="1" height="20" fill="#000"/>
<rect x="436" y="489" width="4" height="6" fill="#000"/>
<rect x="437" y="490" width="2" height="4" fill="#fff"/>
<rect x="441" y="476" width="1" height="22" fill="#000"/>
<rect x="440" y="485" width="4" height="6" fill="#000"/>
<rect x="441" y="486" width="2" height="4" fill="#fff"/>
<rect x="445" y="475" width="1" height="18" fill="#000"/>
<rect x="443" y="477" width="4" height="9" fill="#000"/>
<rect x="444" y="478" width="2" height="7" fill="#fff"/>
<rect x="449" y="439" width="1" height="44" fill="#000"/>
<rect x="447" y="441" width="4" height="36" fill="#000"/>
<rect x="448" y="442" width="2" height="34" fill="#fff"/>
<rect x="452" y="439" width="1" height="19" fill="#000"/>
<rect x="451" y="441" width="3" height="11" fill="#000"/>
<rect x="456" y="433" width="1" height="20" fill="#000"/>
<rect x="454" y="441" width="4" height="10" fill="#000"/>
<rect x="455" y="442" width="2" height="8" fill="#fff"/>
<rect x="460" y="429" width="1" height="17" fill="#000"/>
<rect x="458" y="440" width="3" height="3" fill="#000"/>
<rect x="463" y="427" width="1" height="17" fill="#000"/>
<rect x="462" y="432" width="4" height="11" fill="#000"/>
<rect x="463" y="433" width="2" height="9" fill="#fff"/>
<rect x="467" y="424" width="1" height="12" fill="#000"/>
<rect x="465" y="427" width="4" height="6" fill="#000"/>
<rect x="466" y="428" width="2" height="4" fill="#fff"/>
<rect x="471" y="427" width="1" height="21" fill="#000"/>
<rect x="469" y="428" width="3" height="13" fill="#000"/>
<rect x="474" y="425" width="1" height="21" fill="#000"/>
<rect x="473" y="426" width="4" height="17" fill="#000"/>
<rect x="474" y="427" width="2" height="15" fill="#fff"/>
<rect x="478" y="417" width="1" height="15" fill="#000"/>
<rect x="476" y="425" width="3" height="6" fill="#000"/>
<rect x="482" y="415" width="1" height="16" fill="#000"/>
<rect x="480" y="417" width="4" height="14" fill="#000"/>
<rect x="481" y="418" width="2" height="12" fill="#fff"/>
<rect x="485" y="417" width="1" height="15" fill="#000"/>
<rect x="484" y="420" width="3" height="11" fill="#000"/>
<rect x="489" y="429" width="1" height="19" fill="#000"/>
<rect x="487" y="432" width="3" height="12" fill="#000"/>
<rect x="492" y="432" width="1" height="12" fill="#000"/>
<rect x="491" y="434" width="4" height="9" fill="#000"/>
<rect x="492" y="435" width="2" height="7" fill="#fff"/>
<rect x="496" y="420" width="1" height="18" fill="#000"/>
<rect x="495" y="421" width="4" height="12" fill="#000"/>
<rect x="496" y="422" width="2" height="10" fill="#fff"/>
<rect x="500" y="414" width="1" height="11" fill="#000"/>
<rect x="498" y="418" width="3" height="1" fill="#000"/>
<rect x="503" y="396" width="1" height="25" fill="#000"/>
<rect x="502" y="401" width="4" height="20" fill="#000"/>
<rect x="503" y="402" width="2" height="18" fill="#fff"/>
<rect x="507" y="391" width="1" height="16" fill="#000"/>
<rect x="506" y="397" width="4" height="4" fill="#000"/>
<rect x="507" y="398" width="2" height="2" fill="#fff"/>
<rect x="511" y="390" width="1" height="15" fill="#000"/>
<rect x="509" y="397" width="3" height="5" fill="#000"/>
<rect x="514" y="397" width="1" height="15" fill="#000"/>
<rect x="513" y="399" width="3" height="9" fill="#000"/>
<rect x="518" y="391" width="1" height="24" fill="#000"/>
<rect x="517" y="396" width="4" height="16" fill="#000"/>
<rect x="518" y="397" width="2" height="14" fill="#fff"/>
<rect x="522" y="388" width="1" height="16" fill="#000"/>
<rect x="520" y="394" width="3" height="3" fill="#000"/>
<rect x="525" y="376" width="1" height="27" fill="#000"/>
<rect x="524" y="377" width="4" height="20" fill="#000"/>
<rect x="525" y="378" width="2" height="18" fill="#fff"/>
<rect x="529" y="347" width="1" height="34" fill="#000"/>
<rect x="528" y="353" width="4" height="27" fill="#000"/>
<rect x="529" y="354" width="2" height="25" fill="#fff"/>
<rect x="533" y="337" width="1" height="23" fill="#000"/>
<rect x="531" y="351" width="3" height="9" fill="#000"/>
<rect x="536" y="346" width="1" height="22" fill="#000"/>
<rect x="535" y="351" width="3" height="5" fill="#000"/>
<rect x="540" y="344" width="1" height="20" fill="#000"/>
<rect x="538" y="353" width="4" height="5" fill="#000"/>
<rect x="544" y="343" width="1" height="22" fill="#000"/>
<rect x="542" y="345" width="4" height="10" fill="#000"/>
<rect x="543" y="346" width="2" height="8" fill="#fff"/>
<rect x="547" y="347" width="1" height="15" fill="#000"/>
<rect x="546" y="347" width="3" height="11" fill="#000"/>
<rect x="551" y="351" width="1" height="16" fill="#000"/>
<rect x="549" y="358" width="3" height="9" fill="#000"/>
<rect x="555" y="351" width="1" height="15" fill="#000"/>
<rect x="553" y="361" width="3" height="3" fill="#000"/>
<rect x="558" y="353" width="1" height="30" fill="#000"/>
<rect x="557" y="360" width="3" height="13" fill="#000"/>
<rect x="562" y="355" width="1" height="21" fill="#000"/>
<rect x="560" y="362" width="4" height="13" fill="#000"/>
<rect x="561" y="363" width="2" height="11" fill="#fff"/>
<rect x="566" y="327" width="1" height="34" fill="#000"/>
<rect x="564" y="331" width="4" height="30" fill="#000"/>
<rect x="565" y="332" width="2" height="28" fill="#fff"/>
<rect x="569" y="331" width="1" height="52" fill="#000"/>
<rect x="568" y="333" width="3" height="46" fill="#000"/>
<rect x="573" y="360" width="1" height="25" fill="#000"/>
<rect x="571" y="362" width="4" height="15" fill="#000"/>
<rect x="572" y="363" width="2" height="13" fill="#fff"/>
<rect x="577" y="352" width="1" height="18" fill="#000"/>
<rect x="575" y="359" width="4" height="4" fill="#000"/>
<rect x="576" y="360" width="2" height="2" fill="#fff"/>
<rect x="580" y="325" width="1" height="44" fill="#000"/>
<rect x="579" y="350" width="4" height="16" fill="#000"/>
<rect x="580" y="351" width="2" height="14" fill="#fff"/>
<rect x="584" y="291" width="1" height="56" fill="#000"/>
<rect x="582" y="297" width="4" height="35" fill="#000"/>
<rect x="583" y="298" width="2" height="33" fill="#fff"/>
<rect x="588" y="277" width="1" height="50" fill="#000"/>
<rect x="586" y="287" width="3" height="5" fill="#000"/>
<rect x="591" y="293" width="1" height="37" fill="#000"/>
<rect x="590" y="294" width="3" height="24" fill="#000"/>
<rect x="595" y="301" width="1" height="18" fill="#000"/>
<rect x="593" y="306" width="4" height="9" fill="#000"/>
<rect x="594" y="307" width="2" height="7" fill="#fff"/>
<rect x="598" y="299" width="1" height="37" fill="#000"/>
<rect x="597" y="300" width="3" height="16" fill="#000"/>
<rect x="602" y="281" width="1" height="35" fill="#000"/>
<rect x="601" y="288" width="4" height="28" fill="#000"/>
<rect x="602" y="289" width="2" height="26" fill="#fff"/>
<rect x="606" y="269" width="1" height="28" fill="#000"/>
<rect x="604" y="280" width="4" height="10" fill="#000"/>
<rect x="605" y="281" width="2" height="8" fill="#fff"/>
<rect x="609" y="270" width="1" height="27" fill="#000"/>
<rect x="608" y="271" width="3" height="4" fill="#000"/>
<rect x="613" y="221" width="1" height="53" fill="#000"/>
<rect x="612" y="233" width="4" height="41" fill="#000"/>
<rect x="613" y="234" width="2" height="39" fill="#fff"/>
<rect x="617" y="223" width="1" height="24" fill="#000"/>
<rect x="615" y="230" width="3" height="3" fill="#000"/>
<rect x="620" y="200" width="1" height="41" fill="#000"/>
<rect x="619" y="209" width="4" height="19" fill="#000"/>
<rect x="620" y="210" width="2" height="17" fill="#fff"/>
<rect x="624" y="207" width="1" height="37" fill="#000"/>
<rect x="623" y="208" width="3" height="27" fill="#000"/>
<rect x="628" y="240" width="1" height="29" fill="#000"/>
<rect x="626" y="241" width="3" height="23" fill="#000"/>
<rect x="631" y="247" width="1" height="26" fill="#000"/>
<rect x="630" y="263" width="4" height="4" fill="#000"/>
<rect x="631" y="264" width="2" height="2" fill="#fff"/>
<rect x="635" y="227" width="1" height="43" fill="#000"/>
<rect x="634" y="228" width="4" height="29" fill="#000"/>
<rect x="635" y="229" width="2" height="27" fill="#fff"/>
<rect x="639" y="202" width="1" height="41" fill="#000"/>
<rect x="642" y="221" width="1" height="22" fill="#000"/>
<rect x="641" y="230" width="3" height="5" fill="#000"/>
<rect x="646" y="204" width="1" height="41" fill="#000"/>
<rect x="644" y="213" width="5" height="22" fill="#000"/>
<rect x="645" y="214" width="3" height="20" fill="#fff"/>
<rect x="650" y="153" width="1" height="66" fill="#000"/>
<rect x="648" y="171" width="4" height="44" fill="#000"/>
<rect x="649" y="172" width="2" height="42" fill="#fff"/>
<rect x="653" y="131" width="1" height="35" fill="#000"/>
<rect x="652" y="154" width="4" height="12" fill="#000"/>
<rect x="653" y="155" width="2" height="10" fill="#fff"/>
<rect x="657" y="154" width="1" height="34" fill="#000"/>
<rect x="655" y="158" width="3" height="17" fill="#000"/>
<rect x="661" y="157" width="1" height="27" fill="#000"/>
<rect x="659" y="176" width="3" height="1" fill="#000"/>
<rect x="664" y="161" width="1" height="27" fill="#000"/>
<rect x="663" y="171" width="4" height="9" fill="#000"/>
<rect x="664" y="172" width="2" height="7" fill="#fff"/>
<rect x="668" y="170" width="1" height="33" fill="#000"/>
<rect x="666" y="172" width="3" height="12" fill="#000"/>
<rect x="672" y="145" width="1" height="39" fill="#000"/>
<rect x="670" y="147" width="4" height="37" fill="#000"/>
<rect x="671" y="148" width="2" height="35" fill="#fff"/>
<rect x="675" y="121" width="1" height="34" fill="#000"/>
<rect x="674" y="133" width="4" height="15" fill="#000"/>
<rect x="675" y="134" width="2" height="13" fill="#fff"/>
<rect x="679" y="124" width="1" height="30" fill="#000"/>
<rect x="677" y="126" width="3" height="5" fill="#000"/>
<rect x="683" y="116" width="1" height="43" fill="#000"/>
<rect x="681" y="125" width="3" height="21" fill="#000"/>
<rect x="686" y="130" width="1" height="44" fill="#000"/>
<rect x="685" y="142" width="4" height="13" fill="#000"/>
<rect x="686" y="143" width="2" height="11" fill="#fff"/>
<rect x="690" y="80" width="1" height="67" fill="#000"/>
<rect x="688" y="85" width="4" height="55" fill="#000"/>
<rect x="689" y="86" width="2" height="53" fill="#fff"/>
<rect x="694" y="55" width="1" height="58" fill="#000"/>
<rect x="692" y="74" width="3" height="31" fill="#000"/>
<rect x="697" y="91" width="1" height="49" fill="#000"/>
<rect x="696" y="93" width="4" height="13" fill="#000"/>
<rect x="697" y="94" width="2" height="11" fill="#fff"/>
<rect x="701" y="74" width="1" height="31" fill="#000"/>
<rect x="699" y="90" width="4" height="3" fill="#000"/>
<rect x="700" y="91" width="2" height="1" fill="#fff"/>
<rect x="704" y="87" width="1" height="30" fill="#000"/>
<rect x="703" y="93" width="3" height="22" fill="#000"/>
<rect x="708" y="105" width="1" height="50" fill="#000"/>
<rect x="707" y="110" width="3" height="22" fill="#000"/>
<rect x="712" y="92" width="1" height="43" fill="#000"/>
<rect x="715" y="126" width="1" height="76" fill="#000"/>
<rect x="714" y="129" width="3" height="72" fill="#000"/>
<rect x="719" y="187" width="1" height="35" fill="#000"/>
<rect x="718" y="194" width="3" height="1" fill="#000"/>
<rect x="723" y="178" width="1" height="38" fill="#000"/>
<rect x="721" y="188" width="3" height="21" fill="#000"/>
<rect x="726" y="190" width="1" height="42" fill="#000"/>
<rect x="725" y="202" width="3" height="29" fill="#000"/>
<rect x="730" y="216" width="1" height="26" fill="#000"/>
<rect x="729" y="231" width="4" height="9" fill="#000"/>
<rect x="730" y="232" width="2" height="7" fill="#fff"/>
<rect x="734" y="227" width="1" height="36" fill="#000"/>
<rect x="732" y="229" width="3" height="12" fill="#000"/>
<rect x="737" y="238" width="1" height="13" fill="#000"/>
<rect x="736" y="244" width="3" height="2" fill="#000"/>
<rect x="741" y="244" width="1" height="17" fill="#000"/>
<rect x="740" y="247" width="3" height="13" fill="#000"/>
<rect x="745" y="223" width="1" height="37" fill="#000"/>
<rect x="743" y="250" width="4" height="10" fill="#000"/>
<rect x="744" y="251" width="2" height="8" fill="#fff"/>
<rect x="748" y="253" width="1" height="33" fill="#000"/>
<rect x="747" y="255" width="3" height="24" fill="#000"/>
<rect x="752" y="270" width="1" height="19" fill="#000"/>
<rect x="756" y="281" width="1" height="15" fill="#000"/>
<rect x="754" y="286" width="4" height="5" fill="#000"/>
<rect x="755" y="287" width="2" height="3" fill="#fff"/>
<rect x="759" y="274" width="1" height="38" fill="#000"/>
<rect x="758" y="275" width="4" height="14" fill="#000"/>
<rect x="759" y="276" width="2" height="12" fill="#fff"/>
<rect x="763" y="253" width="1" height="23" fill="#000"/>
<rect x="761" y="256" width="4" height="20" fill="#000"/>
<rect x="762" y="257" width="2" height="18" fill="#fff"/>
<rect x="767" y="245" width="1" height="31" fill="#000"/>
<rect x="765" y="253" width="3" height="4" fill="#000"/>
<rect x="770" y="232" width="1" height="28" fill="#000"/>
<rect x="769" y="233" width="4" height="25" fill="#000"/>
<rect x="770" y="234" width="2" height="23" fill="#fff"/>
<rect x="774" y="231" width="1" height="27" fill="#000"/>
<rect x="772" y="233" width="3" height="14" fill="#000"/>
<rect x="778" y="230" width="1" height="28" fill="#000"/>
<rect x="776" y="249" width="3" height="2" fill="#000"/>
<rect x="781" y="229" width="1" height="38" fill="#000"/>
<rect x="780" y="256" width="4" height="7" fill="#000"/>
<rect x="781" y="257" width="2" height="5" fill="#fff"/>
<rect x="785" y="247" width="1" height="49" fill="#000"/>
<rect x="783" y="255" width="3" height="15" fill="#000"/>
<rect x="789" y="266" width="1" height="30" fill="#000"/>
<rect x="787" y="271" width="3" height="10" fill="#000"/>
<rect x="792" y="273" width="1" height="31" fill="#000"/>
<rect x="791" y="274" width="3" height="21" fill="#000"/>
<rect x="796" y="288" width="1" height="32" fill="#000"/>
<rect x="794" y="289" width="3" height="18" fill="#000"/>
<rect x="800" y="293" width="1" height="15" fill="#000"/>
<rect x="798" y="305" width="3" height="1" fill="#000"/>
<rect x="803" y="302" width="1" height="21" fill="#000"/>
<rect x="802" y="305" width="3" height="6" fill="#000"/>
<rect x="807" y="298" width="1" height="24" fill="#000"/>
<rect x="810" y="284" width="1" height="32" fill="#000"/>
<rect x="809" y="284" width="4" height="31" fill="#000"/>
<rect x="810" y="285" width="2" height="29" fill="#fff"/>
<rect x="814" y="269" width="1" height="21" fill="#000"/>
<rect x="813" y="276" width="4" height="10" fill="#000"/>
<rect x="814" y="277" width="2" height="8" fill="#fff"/>
<rect x="818" y="259" width="1" height="21" fill="#000"/>
<rect x="816" y="263" width="4" height="17" fill="#000"/>
<rect x="817" y="264" width="2" height="15" fill="#fff"/>
<rect x="821" y="248" width="1" height="23" fill="#000"/>
<rect x="820" y="260" width="3" height="1" fill="#000"/>
<rect x="825" y="254" width="1" height="19" fill="#000"/>
<rect x="824" y="258" width="3" height="8" fill="#000"/>
<rect x="829" y="265" width="1" height="37" fill="#000"/>
<rect x="827" y="266" width="3" height="32" fill="#000"/>
<rect x="832" y="282" width="1" height="28" fill="#000"/>
<rect x="831" y="291" width="4" height="7" fill="#000"/>
<rect x="832" y="292" width="2" height="5" fill="#fff"/>
<rect x="836" y="281" width="1" height="22" fill="#000"/>
<rect x="835" y="292" width="3" height="1" fill="#000"/>
<rect x="840" y="281" width="1" height="22" fill="#000"/>
<rect x="838" y="293" width="3" height="9" fill="#000"/>
<rect x="843" y="298" width="1" height="49" fill="#000"/>
<rect x="842" y="301" width="3" height="43" fill="#000"/>
<rect x="847" y="325" width="1" height="26" fill="#000"/>
<rect x="846" y="328" width="4" height="17" fill="#000"/>
<rect x="847" y="329" width="2" height="15" fill="#fff"/>
<rect x="851" y="299" width="1" height="33" fill="#000"/>
<rect x="849" y="311" width="4" height="18" fill="#000"/>
<rect x="850" y="312" width="2" height="16" fill="#fff"/>
<rect x="854" y="293" width="1" height="21" fill="#000"/>
<rect x="853" y="308" width="4" height="3" fill="#000"/>
<rect x="854" y="309" width="2" height="1" fill="#fff"/>
<rect x="858" y="296" width="1" height="22" fill="#000"/>
<rect x="856" y="299" width="5" height="9" fill="#000"/>
<rect x="857" y="300" width="3" height="7" fill="#fff"/>
<rect x="862" y="283" width="1" height="18" fill="#000"/>
<rect x="860" y="287" width="4" height="10" fill="#000"/>
<rect x="861" y="288" width="2" height="8" fill="#fff"/>
<rect x="865" y="270" width="1" height="26" fill="#000"/>
<rect x="864" y="276" width="4" height="13" fill="#000"/>
<rect x="865" y="277" width="2" height="11" fill="#fff"/>
<rect x="869" y="271" width="1" height="28" fill="#000"/>
<rect x="867" y="272" width="4" height="6" fill="#000"/>
<rect x="868" y="273" width="2" height="4" fill="#fff"/>
<rect x="873" y="257" width="1" height="20" fill="#000"/>
<rect x="871" y="259" width="4" height="15" fill="#000"/>
<rect x="872" y="260" width="2" height="13" fill="#fff"/>
<rect x="876" y="247" width="1" height="22" fill="#000"/>
<rect x="875" y="252" width="4" height="12" fill="#000"/>
<rect x="876" y="253" width="2" height="10" fill="#fff"/>
<rect x="880" y="245" width="1" height="20" fill="#000"/>
<rect x="878" y="250" width="4" height="4" fill="#000"/>
<rect x="879" y="251" width="2" height="2" fill="#fff"/>
<rect x="884" y="225" width="1" height="27" fill="#000"/>
<rect x="882" y="238" width="4" height="14" fill="#000"/>
<rect x="883" y="239" width="2" height="12" fill="#fff"/>
<rect x="887" y="217" width="1" height="26" fill="#000"/>
<rect x="886" y="237" width="3" height="3" fill="#000"/>
<rect x="891" y="225" width="1" height="24" fill="#000"/>
<rect x="889" y="228" width="4" height="7" fill="#000"/>
<rect x="890" y="229" width="2" height="5" fill="#fff"/>
<rect x="895" y="228" width="1" height="16" fill="#000"/>
<rect x="893" y="229" width="3" height="12" fill="#000"/>
<rect x="898" y="230" width="1" height="28" fill="#000"/>
<rect x="897" y="237" width="4" height="3" fill="#000"/>
<rect x="898" y="238" width="2" height="1" fill="#fff"/>
<rect x="902" y="229" width="1" height="38" fill="#000"/>
<rect x="900" y="236" width="3" height="28" fill="#000"/>
<rect x="906" y="252" width="1" height="16" fill="#000"/>
<rect x="904" y="257" width="4" height="9" fill="#000"/>
<rect x="905" y="258" width="2" height="7" fill="#fff"/>
<rect x="909" y="253" width="1" height="39" fill="#000"/>
<rect x="908" y="256" width="3" height="36" fill="#000"/>
<rect x="913" y="284" width="1" height="18" fill="#000"/>
<rect x="911" y="295" width="3" height="4" fill="#000"/>
<rect x="916" y="280" width="1" height="29" fill="#000"/>
<rect x="915" y="288" width="4" height="13" fill="#000"/>
<rect x="916" y="289" width="2" height="11" fill="#fff"/>
<rect x="920" y="263" width="1" height="25" fill="#000"/>
<rect x="919" y="269" width="4" height="19" fill="#000"/>
<rect x="920" y="270" width="2" height="17" fill="#fff"/>
<rect x="924" y="266" width="1" height="43" fill="#000"/>
<rect x="922" y="270" width="3" height="19" fill="#000"/>
<rect x="927" y="293" width="1" height="21" fill="#000"/>
<rect x="926" y="293" width="3" height="16" fill="#000"/>
<rect x="931" y="309" width="1" height="20" fill="#000"/>
<rect x="930" y="312" width="3" height="2" fill="#000"/>
<rect x="935" y="288" width="1" height="26" fill="#000"/>
<rect x="933" y="298" width="4" height="13" fill="#000"/>
<rect x="934" y="299" width="2" height="11" fill="#fff"/>
<rect x="938" y="293" width="1" height="13" fill="#000"/>
<rect x="937" y="298" width="3" height="1" fill="#000"/>
<rect x="942" y="283" width="1" height="19" fill="#000"/>
<rect x="941" y="291" width="4" height="11" fill="#000"/>
<rect x="942" y="292" width="2" height="9" fill="#fff"/>
<rect x="946" y="277" width="1" height="20" fill="#000"/>
<rect x="944" y="284" width="4" height="9" fill="#000"/>
<rect x="945" y="285" width="2" height="7" fill="#fff"/>
<rect x="949" y="272" width="1" height="19" fill="#000"/>
<rect x="948" y="274" width="4" height="10" fill="#000"/>
<rect x="949" y="275" width="2" height="8" fill="#fff"/>
<rect x="953" y="263" width="1" height="12" fill="#000"/>
<rect x="952" y="272" width="3" height="1" fill="#000"/>
<rect x="957" y="258" width="1" height="18" fill="#000"/>
<rect x="955" y="271" width="4" height="4" fill="#000"/>
<rect x="956" y="272" width="2" height="2" fill="#fff"/>
<rect x="960" y="269" width="1" height="20" fill="#000"/>
<rect x="959" y="272" width="3" height="6" fill="#000"/>
<rect x="964" y="275" width="1" height="10" fill="#000"/>
<rect x="962" y="279" width="4" height="2" fill="#000"/>
<rect x="968" y="281" width="1" height="24" fill="#000"/>
<rect x="966" y="282" width="3" height="15" fill="#000"/>
<rect x="58" y="713" width="1" height="1" fill="#0000ff"/>
<rect x="61" y="715" width="1" height="1" fill="#0000ff"/>
<rect x="65" y="715" width="1" height="1" fill="#0000ff"/>
<rect x="68" y="715" width="1" height="7" fill="#0000ff"/>
<rect x="72" y="715" width="1" height="5" fill="#0000ff"/>
<rect x="76" y="715" width="1" height="5" fill="#0000ff"/>
<rect x="83" y="709" width="1" height="5" fill="#0000ff"/>
<rect x="87" y="709" width="1" height="5" fill="#0000ff"/>
<rect x="90" y="704" width="1" height="10" fill="#0000ff"/>
<rect x="94" y="706" width="1" height="8" fill="#0000ff"/>
<rect x="98" y="709" width="1" height="5" fill="#0000ff"/>
<rect x="101" y="712" width="1" height="2" fill="#0000ff"/>
<rect x="105" y="708" width="1" height="6" fill="#0000ff"/>
<rect x="109" y="709" width="1" height="5" fill="#0000ff"/>
<rect x="112" y="707" width="1" height="7" fill="#0000ff"/>
<rect x="116" y="710" width="1" height="4" fill="#0000ff"/>
<rect x="120" y="712" width="1" height="2" fill="#0000ff"/>
<rect x="123" y="709" width="1" height="5" fill="#0000ff"/>
<rect x="127" y="712" width="1" height="2" fill="#0000ff"/>
<rect x="131" y="715" width="1" height="1" fill="#0000ff"/>
<rect x="134" y="715" width="1" height="5" fill="#0000ff"/>
<rect x="138" y="715" width="1" height="8" fill="#0000ff"/>
<rect x="142" y="715" width="1" height="2" fill="#0000ff"/>
<rect x="149" y="709" width="1" height="5" fill="#0000ff"/>
<rect x="153" y="709" width="1" height="5" fill="#0000ff"/>
<rect x="156" y="712" width="1" height="2" fill="#0000ff"/>
<rect x="164" y="715" width="1" height="2" fill="#0000ff"/>
<rect x="167" y="715" width="1" height="5" fill="#0000ff"/>
<rect x="171" y="715" width="1" height="5" fill="#0000ff"/>
<rect x="174" y="715" width="1" height="5" fill="#0000ff"/>
<rect x="182" y="711" width="1" height="3" fill="#0000ff"/>
<rect x="185" y="710" width="1" height="4" fill="#0000ff"/>
<rect x="189" y="707" width="1" height="7" fill="#0000ff"/>
<rect x="193" y="704" width="1" height="10" fill="#0000ff"/>
<rect x="196" y="700" width="1" height="14" fill="#0000ff"/>
<rect x="200" y="705" width="1" height="9" fill="#0000ff"/>
<rect x="204" y="715" width="1" height="5" fill="#0000ff"/>
<rect x="207" y="715" width="1" height="14" fill="#0000ff"/>
<rect x="211" y="715" width="1" height="8" fill="#0000ff"/>
<rect x="218" y="702" width="1" height="12" fill="#0000ff"/>
<rect x="222" y="709" width="1" height="5" fill="#0000ff"/>
<rect x="226" y="700" width="1" height="14" fill="#0000ff"/>
<rect x="229" y="709" width="1" height="5" fill="#0000ff"/>
<rect x="233" y="713" width="1" height="1" fill="#0000ff"/>
<rect x="237" y="710" width="1" height="4" fill="#0000ff"/>
<rect x="244" y="711" width="1" height="3" fill="#0000ff"/>
<rect x="248" y="715" width="1" height="4" fill="#0000ff"/>
<rect x="251" y="715" width="1" height="16" fill="#0000ff"/>
<rect x="255" y="715" width="1" height="22" fill="#0000ff"/>
<rect x="259" y="715" width="1" height="22" fill="#0000ff"/>
<rect x="262" y="715" width="1" height="13" fill="#0000ff"/>
<rect x="266" y="715" width="1" height="5" fill="#0000ff"/>
<rect x="270" y="715" width="1" height="1" fill="#0000ff"/>
<rect x="273" y="715" width="1" height="5" fill="#0000ff"/>
<rect x="277" y="715" width="1" height="14" fill="#0000ff"/>
<rect x="280" y="715" width="1" height="25" fill="#0000ff"/>
<rect x="284" y="715" width="1" height="29" fill="#0000ff"/>
<rect x="288" y="715" width="1" height="26" fill="#0000ff"/>
<rect x="292" y="715" width="1" height="17" fill="#0000ff"/>
<rect x="295" y="715" width="1" height="11" fill="#0000ff"/>
<rect x="299" y="715" width="1" height="4" fill="#0000ff"/>
<rect x="303" y="715" width="1" height="2" fill="#0000ff"/>
<rect x="310" y="710" width="1" height="4" fill="#0000ff"/>
<rect x="313" y="707" width="1" height="7" fill="#0000ff"/>
<rect x="317" y="706" width="1" height="8" fill="#0000ff"/>
<rect x="321" y="712" width="1" height="2" fill="#0000ff"/>
<rect x="324" y="715" width="1" height="1" fill="#0000ff"/>
<rect x="332" y="715" width="1" height="4" fill="#0000ff"/>
<rect x="339" y="715" width="1" height="5" fill="#0000ff"/>
<rect x="343" y="715" width="1" height="5" fill="#0000ff"/>
<rect x="346" y="715" width="1" height="10" fill="#0000ff"/>
<rect x="350" y="715" width="1" height="16" fill="#0000ff"/>
<rect x="354" y="715" width="1" height="17" fill="#0000ff"/>
<rect x="357" y="715" width="1" height="14" fill="#0000ff"/>
<rect x="361" y="715" width="1" height="13" fill="#0000ff"/>
<rect x="365" y="715" width="1" height="5" fill="#0000ff"/>
<rect x="372" y="712" width="1" height="2" fill="#0000ff"/>
<rect x="376" y="708" width="1" height="6" fill="#0000ff"/>
<rect x="379" y="711" width="1" height="3" fill="#0000ff"/>
<rect x="383" y="710" width="1" height="4" fill="#0000ff"/>
<rect x="386" y="711" width="1" height="3" fill="#0000ff"/>
<rect x="394" y="709" width="1" height="5" fill="#0000ff"/>
<rect x="397" y="707" width="1" height="7" fill="#0000ff"/>
<rect x="401" y="704" width="1" height="10" fill="#0000ff"/>
<rect x="405" y="704" width="1" height="10" fill="#0000ff"/>
<rect x="408" y="703" width="1" height="11" fill="#0000ff"/>
<rect x="412" y="706" width="1" height="8" fill="#0000ff"/>
<rect x="419" y="715" width="1" height="7" fill="#0000ff"/>
<rect x="423" y="715" width="1" height="11" fill="#0000ff"/>
<rect x="427" y="715" width="1" height="14" fill="#0000ff"/>
<rect x="430" y="715" width="1" height="10" fill="#0000ff"/>
<rect x="434" y="715" width="1" height="10" fill="#0000ff"/>
<rect x="438" y="715" width="1" height="5" fill="#0000ff"/>
<rect x="441" y="715" width="1" height="4" fill="#0000ff"/>
<rect x="449" y="706" width="1" height="8" fill="#0000ff"/>
<rect x="452" y="702" width="1" height="12" fill="#0000ff"/>
<rect x="456" y="697" width="1" height="17" fill="#0000ff"/>
<rect x="460" y="702" width="1" height="12" fill="#0000ff"/>
<rect x="463" y="703" width="1" height="11" fill="#0000ff"/>
<rect x="467" y="706" width="1" height="8" fill="#0000ff"/>
<rect x="471" y="710" width="1" height="4" fill="#0000ff"/>
<rect x="474" y="710" width="1" height="4" fill="#0000ff"/>
<rect x="478" y="713" width="1" height="1" fill="#0000ff"/>
<rect x="482" y="710" width="1" height="4" fill="#0000ff"/>
<rect x="485" y="713" width="1" height="1" fill="#0000ff"/>
<rect x="492" y="715" width="1" height="2" fill="#0000ff"/>
<rect x="496" y="715" width="1" height="2" fill="#0000ff"/>
<rect x="500" y="712" width="1" height="2" fill="#0000ff"/>
<rect x="503" y="707" width="1" height="7" fill="#0000ff"/>
<rect x="507" y="703" width="1" height="11" fill="#0000ff"/>
<rect x="511" y="702" width="1" height="12" fill="#0000ff"/>
<rect x="514" y="707" width="1" height="7" fill="#0000ff"/>
<rect x="518" y="711" width="1" height="3" fill="#0000ff"/>
<rect x="522" y="713" width="1" height="1" fill="#0000ff"/>
<rect x="525" y="709" width="1" height="5" fill="#0000ff"/>
<rect x="529" y="704" width="1" height="10" fill="#0000ff"/>
<rect x="533" y="698" width="1" height="16" fill="#0000ff"/>
<rect x="536" y="698" width="1" height="16" fill="#0000ff"/>
<rect x="540" y="705" width="1" height="9" fill="#0000ff"/>
<rect x="544" y="706" width="1" height="8" fill="#0000ff"/>
<rect x="547" y="711" width="1" height="3" fill="#0000ff"/>
<rect x="555" y="715" width="1" height="1" fill="#0000ff"/>
<rect x="558" y="715" width="1" height="5" fill="#0000ff"/>
<rect x="562" y="715" width="1" height="2" fill="#0000ff"/>
<rect x="566" y="713" width="1" height="1" fill="#0000ff"/>
<rect x="569" y="711" width="1" height="3" fill="#0000ff"/>
<rect x="573" y="711" width="1" height="3" fill="#0000ff"/>
<rect x="577" y="715" width="1" height="2" fill="#0000ff"/>
<rect x="580" y="713" width="1" height="1" fill="#0000ff"/>
<rect x="584" y="704" width="1" height="10" fill="#0000ff"/>
<rect x="588" y="695" width="1" height="19" fill="#0000ff"/>
<rect x="591" y="691" width="1" height="23" fill="#0000ff"/>
<rect x="595" y="699" width="1" height="15" fill="#0000ff"/>
<rect x="598" y="710" width="1" height="4" fill="#0000ff"/>
<rect x="602" y="710" width="1" height="4" fill="#0000ff"/>
<rect x="606" y="711" width="1" height="3" fill="#0000ff"/>
<rect x="609" y="702" width="1" height="12" fill="#0000ff"/>
<rect x="613" y="695" width="1" height="19" fill="#0000ff"/>
<rect x="617" y="692" width="1" height="22" fill="#0000ff"/>
<rect x="620" y="686" width="1" height="28" fill="#0000ff"/>
<rect x="624" y="695" width="1" height="19" fill="#0000ff"/>
<rect x="628" y="706" width="1" height="8" fill="#0000ff"/>
<rect x="631" y="715" width="1" height="5" fill="#0000ff"/>
<rect x="635" y="715" width="1" height="10" fill="#0000ff"/>
<rect x="642" y="709" width="1" height="5" fill="#0000ff"/>
<rect x="646" y="704" width="1" height="10" fill="#0000ff"/>
<rect x="650" y="697" width="1" height="17" fill="#0000ff"/>
<rect x="653" y="688" width="1" height="26" fill="#0000ff"/>
<rect x="657" y="688" width="1" height="26" fill="#0000ff"/>
<rect x="661" y="696" width="1" height="18" fill="#0000ff"/>
<rect x="664" y="707" width="1" height="7" fill="#0000ff"/>
<rect x="675" y="708" width="1" height="6" fill="#0000ff"/>
<rect x="679" y="697" width="1" height="17" fill="#0000ff"/>
<rect x="683" y="700" width="1" height="14" fill="#0000ff"/>
<rect x="686" y="706" width="1" height="8" fill="#0000ff"/>
<rect x="690" y="704" width="1" height="10" fill="#0000ff"/>
<rect x="694" y="702" width="1" height="12" fill="#0000ff"/>
<rect x="697" y="695" width="1" height="19" fill="#0000ff"/>
<rect x="701" y="701" width="1" height="13" fill="#0000ff"/>
<rect x="704" y="706" width="1" height="8" fill="#0000ff"/>
<rect x="708" y="715" width="1" height="1" fill="#0000ff"/>
<rect x="712" y="715" width="1" height="13" fill="#0000ff"/>
<rect x="715" y="715" width="1" height="23" fill="#0000ff"/>
<rect x="719" y="715" width="1" height="29" fill="#0000ff"/>
<rect x="723" y="715" width="1" height="36" fill="#0000ff"/>
<rect x="726" y="715" width="1" height="29" fill="#0000ff"/>
<rect x="730" y="715" width="1" height="25" fill="#0000ff"/>
<rect x="734" y="715" width="1" height="21" fill="#0000ff"/>
<rect x="737" y="715" width="1" height="12" fill="#0000ff"/>
<rect x="741" y="715" width="1" height="13" fill="#0000ff"/>
<rect x="745" y="715" width="1" height="9" fill="#0000ff"/>
<rect x="748" y="715" width="1" height="11" fill="#0000ff"/>
<rect x="752" y="715" width="1" height="11" fill="#0000ff"/>
<rect x="756" y="715" width="1" height="14" fill="#0000ff"/>
<rect x="759" y="715" width="1" height="9" fill="#0000ff"/>
<rect x="767" y="709" width="1" height="5" fill="#0000ff"/>
<rect x="770" y="700" width="1" height="14" fill="#0000ff"/>
<rect x="774" y="702" width="1" height="12" fill="#0000ff"/>
<rect x="778" y="703" width="1" height="11" fill="#0000ff"/>
<rect x="781" y="713" width="1" height="1" fill="#0000ff"/>
<rect x="785" y="715" width="1" height="2" fill="#0000ff"/>
<rect x="789" y="715" width="1" height="9" fill="#0000ff"/>
<rect x="792" y="715" width="1" height="15" fill="#0000ff"/>
<rect x="796" y="715" width="1" height="16" fill="#0000ff"/>
<rect x="800" y="715" width="1" height="16" fill="#0000ff"/>
<rect x="803" y="715" width="1" height="13" fill="#0000ff"/>
<rect x="807" y="715" width="1" height="8" fill="#0000ff"/>
<rect x="810" y="715" width="1" height="1" fill="#0000ff"/>
<rect x="814" y="708" width="1" height="6" fill="#0000ff"/>
<rect x="818" y="699" width="1" height="15" fill="#0000ff"/>
<rect x="821" y="699" width="1" height="15" fill="#0000ff"/>
<rect x="825" y="700" width="1" height="14" fill="#0000ff"/>
<rect x="829" y="711" width="1" height="3" fill="#0000ff"/>
<rect x="832" y="715" width="1" height="5" fill="#0000ff"/>
<rect x="836" y="715" width="1" height="11" fill="#0000ff"/>
<rect x="840" y="715" width="1" height="9" fill="#0000ff"/>
<rect x="843" y="715" width="1" height="14" fill="#0000ff"/>
<rect x="847" y="715" width="1" height="16" fill="#0000ff"/>
<rect x="851" y="715" width="1" height="13" fill="#0000ff"/>
<rect x="854" y="715" width="1" height="3" fill="#0000ff"/>
<rect x="858" y="710" width="1" height="4" fill="#0000ff"/>
<rect x="862" y="704" width="1" height="10" fill="#0000ff"/>
<rect x="865" y="699" width="1" height="15" fill="#0000ff"/>
<rect x="869" y="700" width="1" height="14" fill="#0000ff"/>
<rect x="873" y="700" width="1" height="14" fill="#0000ff"/>
<rect x="876" y="700" width="1" height="14" fill="#0000ff"/>
<rect x="880" y="701" width="1" height="13" fill="#0000ff"/>
<rect x="884" y="703" width="1" height="11" fill="#0000ff"/>
<rect x="887" y="705" width="1" height="9" fill="#0000ff"/>
<rect x="891" y="704" width="1" height="10" fill="#0000ff"/>
<rect x="895" y="709" width="1" height="5" fill="#0000ff"/>
<rect x="898" y="710" width="1" height="4" fill="#0000ff"/>
<rect x="902" y="715" width="1" height="3" fill="#0000ff"/>
<rect x="906" y="715" width="1" height="6" fill="#0000ff"/>
<rect x="909" y="715" width="1" height="14" fill="#0000ff"/>
<rect x="913" y="715" width="1" height="17" fill="#0000ff"/>
<rect x="916" y="715" width="1" height="18" fill="#0000ff"/>
<rect x="920" y="715" width="1" height="9" fill="#0000ff"/>
<rect x="924" y="715" width="1" height="1" fill="#0000ff"/>
<rect x="927" y="715" width="1" height="1" fill="#0000ff"/>
<rect x="931" y="715" width="1" height="7" fill="#0000ff"/>
<rect x="935" y="715" width="1" height="8" fill="#0000ff"/>
<rect x="938" y="715" width="1" height="5" fill="#0000ff"/>
<rect x="946" y="710" width="1" height="4" fill="#0000ff"/>
<rect x="949" y="705" width="1" height="9" fill="#0000ff"/>
<rect x="953" y="704" width="1" height="10" fill="#0000ff"/>
<rect x="957" y="706" width="1" height="8" fill="#0000ff"/>
<rect x="960" y="709" width="1" height="5" fill="#0000ff"/>
<rect x="964" y="713" width="1" height="1" fill="#0000ff"/>
<rect x="968" y="715" width="1" height="3" fill="#0000ff"/>
</g>
<g shape-rendering="crispEdges">
<rect x="56" y="52" width="954" height="1" fill="#0000ff"/>
<rect x="56" y="224" width="954" height="1" fill="#0000ff"/>
<rect x="833" y="109" width="8" height="1" fill="#0000ff"/>
<rect x="819" y="110" width="14" height="1" fill="#0000ff"/>
<rect x="805" y="111" width="14" height="1" fill="#0000ff"/>
<rect x="791" y="112" width="14" height="1" fill="#0000ff"/>
<rect x="776" y="113" width="15" height="1" fill="#0000ff"/>
<rect x="762" y="114" width="14" height="1" fill="#0000ff"/>
<rect x="748" y="115" width="14" height="1" fill="#0000ff"/>
<rect x="734" y="116" width="14" height="1" fill="#0000ff"/>
<rect x="719" y="117" width="15" height="1" fill="#0000ff"/>
<rect x="705" y="118" width="14" height="1" fill="#0000ff"/>
<rect x="691" y="119" width="14" height="1" fill="#0000ff"/>
<rect x="677" y="120" width="14" height="1" fill="#0000ff"/>
<rect x="662" y="121" width="15" height="1" fill="#0000ff"/>
<rect x="648" y="122" width="14" height="1" fill="#0000ff"/>
<rect x="634" y="123" width="14" height="1" fill="#0000ff"/>
<rect x="620" y="124" width="14" height="1" fill="#0000ff"/>
<rect x="605" y="125" width="15" height="1" fill="#0000ff"/>
<rect x="591" y="126" width="14" height="1" fill="#0000ff"/>
<rect x="577" y="127" width="14" height="1" fill="#0000ff"/>
<rect x="563" y="128" width="14" height="1" fill="#0000ff"/>
<rect x="548" y="129" width="15" height="1" fill="#0000ff"/>
<rect x="534" y="130" width="14" height="1" fill="#0000ff"/>
<rect x="520" y="131" width="14" height="1" fill="#0000ff"/>
<rect x="506" y="132" width="14" height="1" fill="#0000ff"/>
<rect x="491" y="133" width="15" height="1" fill="#0000ff"/>
<rect x="477" y="134" width="14" height="1" fill="#0000ff"/>
<rect x="463" y="135" width="14" height="1" fill="#0000ff"/>
<rect x="449" y="136" width="14" height="1" fill="#0000ff"/>
<rect x="434" y="137" width="15" height="1" fill="#0000ff"/>
<rect x="420" y="138" width="14" height="1" fill="#0000ff"/>
<rect x="406" y="139" width="14" height="1" fill="#0000ff"/>
<rect x="391" y="140" width="15" height="1" fill="#0000ff"/>
<rect x="377" y="141" width="14" height="1" fill="#0000ff"/>
<rect x="363" y="142" width="14" height="1" fill="#0000ff"/>
<rect x="349" y="143" width="14" height="1" fill="#0000ff"/>
<rect x="334" y="144" width="15" height="1" fill="#0000ff"/>
<rect x="320" y="145" width="14" height="1" fill="#0000ff"/>
<rect x="306" y="146" width="14" height="1" fill="#0000ff"/>
<rect x="292" y="147" width="14" height="1" fill="#0000ff"/>
<rect x="277" y="148" width="15" height="1" fill="#0000ff"/>
<rect x="263" y="149" width="14" height="1" fill="#0000ff"/>
<rect x="249" y="150" width="14" height="1" fill="#0000ff"/>
<rect x="235" y="151" width="14" height="1" fill="#0000ff"/>
<rect x="220" y="152" width="15" height="1" fill="#0000ff"/>
<rect x="206" y="153" width="14" height="1" fill="#0000ff"/>
<rect x="192" y="154" width="14" height="1" fill="#0000ff"/>
<rect x="178" y="155" width="14" height="1" fill="#0000ff"/>
<rect x="163" y="156" width="15" height="1" fill="#0000ff"/>
<rect x="149" y="157" width="14" height="1" fill="#0000ff"/>
<rect x="135" y="158" width="14" height="1" fill="#0000ff"/>
<rect x="121" y="159" width="14" height="1" fill="#0000ff"/>
<rect x="106" y="160" width="15" height="1" fill="#0000ff"/>
<rect x="92" y="161" width="14" height="1" fill="#0000ff"/>
<rect x="78" y="162" width="14" height="1" fill="#0000ff"/>
<rect x="64" y="163" width="14" height="1" fill="#0000ff"/>
<rect x="56" y="164" width="8" height="1" fill="#0000ff"/>
<rect x="694" y="55" width="1" height="1" fill="#0000ff"/>
<rect x="695" y="56" width="1" height="2" fill="#0000ff"/>
<rect x="696" y="58" width="1" height="2" fill="#0000ff"/>
<rect x="697" y="60" width="1" height="2" fill="#0000ff"/>
<rect x="698" y="62" width="1" height="2" fill="#0000ff"/>
<rect x="699" y="64" width="1" height="2" fill="#0000ff"/>
<rect x="700" y="66" width="1" height="2" fill="#0000ff"/>
<rect x="701" y="68" width="1" height="2" fill="#0000ff"/>
<rect x="702" y="70" width="1" height="2" fill="#0000ff"/>
<rect x="703" y="72" width="1" height="2" fill="#0000ff"/>
<rect x="704" y="74" width="1" height="2" fill="#0000ff"/>
<rect x="705" y="76" width="1" height="2" fill="#0000ff"/>
<rect x="706" y="78" width="1" height="2" fill="#0000ff"/>
<rect x="707" y="80" width="1" height="2" fill="#0000ff"/>
<rect x="708" y="82" width="1" height="2" fill="#0000ff"/>
<rect x="709" y="84" width="1" height="2" fill="#0000ff"/>
<rect x="710" y="86" width="1" height="2" fill="#0000ff"/>
<rect x="711" y="88" width="1" height="2" fill="#0000ff"/>
<rect x="712" y="90" width="1" height="2" fill="#0000ff"/>
<rect x="713" y="92" width="1" height="2" fill="#0000ff"/>
<rect x="714" y="94" width="1" height="2" fill="#0000ff"/>
<rect x="715" y="96" width="1" height="2" fill="#0000ff"/>
<rect x="716" y="98" width="1" height="2" fill="#0000ff"/>
<rect x="717" y="100" width="1" height="2" fill="#0000ff"/>
<rect x="718" y="102" width="1" height="2" fill="#0000ff"/>
<rect x="719" y="104" width="1" height="2" fill="#0000ff"/>
<rect x="720" y="106" width="1" height="1" fill="#0000ff"/>
<rect x="721" y="107" width="1" height="2" fill="#0000ff"/>
<rect x="722" y="109" width="1" height="2" fill="#0000ff"/>
<rect x="723" y="111" width="1" height="2" fill="#0000ff"/>
<rect x="724" y="113" width="1" height="2" fill="#0000ff"/>
<rect x="725" y="115" width="1" height="2" fill="#0000ff"/>
<rect x="726" y="117" width="1" height="2" fill="#0000ff"/>
<rect x="727" y="119" width="1" height="2" fill="#0000ff"/>
<rect x="728" y="121" width="1" height="2" fill="#0000ff"/>
<rect x="729" y="123" width="1" height="2" fill="#0000ff"/>
<rect x="730" y="125" width="1" height="2" fill="#0000ff"/>
<rect x="731" y="127" width="1" height="2" fill="#0000ff"/>
<rect x="732" y="129" width="1" height="2" fill="#0000ff"/>
<rect x="733" y="131" width="1" height="2" fill="#0000ff"/>
<rect x="734" y="133" width="1" height="2" fill="#0000ff"/>
<rect x="735" y="135" width="1" height="2" fill="#0000ff"/>
<rect x="736" y="137" width="1" height="2" fill="#0000ff"/>
<rect x="737" y="139" width="1" height="2" fill="#0000ff"/>
<rect x="738" y="141" width="1" height="2" fill="#0000ff"/>
<rect x="739" y="143" width="1" height="2" fill="#0000ff"/>
<rect x="740" y="145" width="1" height="2" fill="#0000ff"/>
<rect x="741" y="147" width="1" height="2" fill="#0000ff"/>
<rect x="742" y="149" width="1" height="2" fill="#0000ff"/>
<rect x="743" y="151" width="1" height="2" fill="#0000ff"/>
<rect x="744" y="153" width="1" height="2" fill="#0000ff"/>
<rect x="745" y="155" width="1" height="2" fill="#0000ff"/>
<rect x="746" y="157" width="1" height="1" fill="#0000ff"/>
<rect x="747" y="158" width="1" height="2" fill="#0000ff"/>
<rect x="748" y="160" width="1" height="2" fill="#0000ff"/>
<rect x="749" y="162" width="1" height="2" fill="#0000ff"/>
<rect x="750" y="164" width="1" height="2" fill="#0000ff"/>
<rect x="751" y="166" width="1" height="2" fill="#0000ff"/>
<rect x="752" y="168" width="1" height="2" fill="#0000ff"/>
<rect x="753" y="170" width="1" height="2" fill="#0000ff"/>
<rect x="754" y="172" width="1" height="2" fill="#0000ff"/>
<rect x="755" y="174" width="1" height="2" fill="#0000ff"/>
<rect x="756" y="176" width="1" height="2" fill="#0000ff"/>
<rect x="757" y="178" width="1" height="2" fill="#0000ff"/>
<rect x="758" y="180" width="1" height="2" fill="#0000ff"/>
<rect x="759" y="182" width="1" height="2" fill="#0000ff"/>
<rect x="760" y="184" width="1" height="2" fill="#0000ff"/>
<rect x="761" y="186" width="1" height="2" fill="#0000ff"/>
<rect x="762" y="188" width="1" height="2" fill="#0000ff"/>
<rect x="763" y="190" width="1" height="2" fill="#0000ff"/>
<rect x="764" y="192" width="1" height="2" fill="#0000ff"/>
<rect x="765" y="194" width="1" height="2" fill="#0000ff"/>
<rect x="766" y="196" width="1" height="2" fill="#0000ff"/>
<rect x="767" y="198" width="1" height="2" fill="#0000ff"/>
<rect x="768" y="200" width="1" height="2" fill="#0000ff"/>
<rect x="769" y="202" width="1" height="2" fill="#0000ff"/>
<rect x="770" y="204" width="1" height="2" fill="#0000ff"/>
<rect x="771" y="206" width="1" height="2" fill="#0000ff"/>
<rect x="772" y="208" width="1" height="2" fill="#0000ff"/>
<rect x="773" y="210" width="1" height="1" fill="#0000ff"/>
<rect x="774" y="211" width="1" height="2" fill="#0000ff"/>
<rect x="775" y="213" width="1" height="2" fill="#0000ff"/>
<rect x="776" y="215" width="1" height="2" fill="#0000ff"/>
<rect x="777" y="217" width="1" height="2" fill="#0000ff"/>
<rect x="778" y="219" width="1" height="2" fill="#0000ff"/>
<rect x="779" y="221" width="1" height="2" fill="#0000ff"/>
<rect x="780" y="223" width="1" height="2" fill="#0000ff"/>
<rect x="781" y="225" width="1" height="2" fill="#0000ff"/>
<rect x="782" y="227" width="1" height="2" fill="#0000ff"/>
<rect x="783" y="229" width="1" height="2" fill="#0000ff"/>
<rect x="784" y="231" width="1" height="2" fill="#0000ff"/>
<rect x="785" y="233" width="1" height="2" fill="#0000ff"/>
<rect x="786" y="235" width="1" height="2" fill="#0000ff"/>
<rect x="787" y="237" width="1" height="2" fill="#0000ff"/>
<rect x="788" y="239" width="1" height="2" fill="#0000ff"/>
<rect x="789" y="241" width="1" height="2" fill="#0000ff"/>
<rect x="790" y="243" width="1" height="2" fill="#0000ff"/>
<rect x="791" y="245" width="1" height="2" fill="#0000ff"/>
<rect x="792" y="247" width="1" height="2" fill="#0000ff"/>
<rect x="793" y="249" width="1" height="2" fill="#0000ff"/>
<rect x="794" y="251" width="1" height="2" fill="#0000ff"/>
<rect x="795" y="253" width="1" height="2" fill="#0000ff"/>
<rect x="796" y="255" width="1" height="2" fill="#0000ff"/>
<rect x="797" y="257" width="1" height="2" fill="#0000ff"/>
<rect x="798" y="259" width="1" height="2" fill="#0000ff"/>
<rect x="799" y="261" width="1" height="1" fill="#0000ff"/>
<rect x="800" y="262" width="1" height="2" fill="#0000ff"/>
<rect x="801" y="264" width="1" height="2" fill="#0000ff"/>
<rect x="802" y="266" width="1" height="2" fill="#0000ff"/>
<rect x="803" y="268" width="1" height="2" fill="#0000ff"/>
<rect x="804" y="270" width="1" height="2" fill="#0000ff"/>
<rect x="805" y="272" width="1" height="2" fill="#0000ff"/>
<rect x="806" y="274" width="1" height="2" fill="#0000ff"/>
<rect x="807" y="276" width="1" height="2" fill="#0000ff"/>
<rect x="808" y="278" width="1" height="2" fill="#0000ff"/>
<rect x="809" y="280" width="1" height="2" fill="#0000ff"/>
<rect x="810" y="282" width="1" height="2" fill="#0000ff"/>
<rect x="811" y="284" width="1" height="2" fill="#0000ff"/>
<rect x="812" y="286" width="1" height="2" fill="#0000ff"/>
<rect x="813" y="288" width="1" height="2" fill="#0000ff"/>
<rect x="814" y="290" width="1" height="2" fill="#0000ff"/>
<rect x="815" y="292" width="1" height="2" fill="#0000ff"/>
<rect x="816" y="294" width="1" height="2" fill="#0000ff"/>
<rect x="817" y="296" width="1" height="2" fill="#0000ff"/>
<rect x="818" y="298" width="1" height="2" fill="#0000ff"/>
<rect x="819" y="300" width="1" height="2" fill="#0000ff"/>
<rect x="820" y="302" width="1" height="2" fill="#0000ff"/>
<rect x="821" y="304" width="1" height="2" fill="#0000ff"/>
<rect x="822" y="306" width="1" height="2" fill="#0000ff"/>
<rect x="823" y="308" width="1" height="2" fill="#0000ff"/>
<rect x="824" y="310" width="1" height="2" fill="#0000ff"/>
<rect x="825" y="312" width="1" height="1" fill="#0000ff"/>
<rect x="807" y="176" width="1" height="1" fill="#0000ff"/>
<rect x="806" y="177" width="1" height="1" fill="#0000ff"/>
<rect x="805" y="178" width="1" height="1" fill="#0000ff"/>
<rect x="804" y="179" width="1" height="1" fill="#0000ff"/>
<rect x="802" y="180" width="2" height="1" fill="#0000ff"/>
<rect x="801" y="181" width="1" height="1" fill="#0000ff"/>
<rect x="800" y="182" width="1" height="1" fill="#0000ff"/>
<rect x="799" y="183" width="1" height="1" fill="#0000ff"/>
<rect x="798" y="184" width="1" height="1" fill="#0000ff"/>
<rect x="797" y="185" width="1" height="1" fill="#0000ff"/>
<rect x="796" y="186" width="1" height="1" fill="#0000ff"/>
<rect x="794" y="187" width="2" height="1" fill="#0000ff"/>
<rect x="793" y="188" width="1" height="1" fill="#0000ff"/>
<rect x="792" y="189" width="1" height="1" fill="#0000ff"/>
<rect x="791" y="190" width="1" height="1" fill="#0000ff"/>
<rect x="790" y="191" width="1" height="1" fill="#0000ff"/>
<rect x="789" y="192" width="1" height="1" fill="#0000ff"/>
<rect x="788" y="193" width="1" height="1" fill="#0000ff"/>
<rect x="787" y="194" width="1" height="1" fill="#0000ff"/>
<rect x="785" y="195" width="2" height="1" fill="#0000ff"/>
<rect x="784" y="196" width="1" height="1" fill="#0000ff"/>
<rect x="783" y="197" width="1" height="1" fill="#0000ff"/>
<rect x="782" y="198" width="1" height="1" fill="#0000ff"/>
<rect x="781" y="199" width="1" height="1" fill="#0000ff"/>
<rect x="780" y="200" width="1" height="1" fill="#0000ff"/>
<rect x="779" y="201" width="1" height="1" fill="#0000ff"/>
<rect x="777" y="202" width="2" height="1" fill="#0000ff"/>
<rect x="776" y="203" width="1" height="1" fill="#0000ff"/>
<rect x="775" y="204" width="1" height="1" fill="#0000ff"/>
<rect x="774" y="205" width="1" height="1" fill="#0000ff"/>
<rect x="773" y="206" width="1" height="1" fill="#0000ff"/>
<rect x="772" y="207" width="1" height="1" fill="#0000ff"/>
<rect x="771" y="208" width="1" height="1" fill="#0000ff"/>
<rect x="770" y="209" width="1" height="1" fill="#0000ff"/>
<rect x="768" y="210" width="2" height="1" fill="#0000ff"/>
<rect x="767" y="211" width="1" height="1" fill="#0000ff"/>
<rect x="766" y="212" width="1" height="1" fill="#0000ff"/>
<rect x="765" y="213" width="1" height="1" fill="#0000ff"/>
<rect x="764" y="214" width="1" height="1" fill="#0000ff"/>
<rect x="763" y="215" width="1" height="1" fill="#0000ff"/>
<rect x="762" y="216" width="1" height="1" fill="#0000ff"/>
<rect x="760" y="217" width="2" height="1" fill="#0000ff"/>
<rect x="759" y="218" width="1" height="1" fill="#0000ff"/>
<rect x="758" y="219" width="1" height="1" fill="#0000ff"/>
<rect x="757" y="220" width="1" height="1" fill="#0000ff"/>
<rect x="756" y="221" width="1" height="1" fill="#0000ff"/>
<rect x="755" y="222" width="1" height="1" fill="#0000ff"/>
<rect x="754" y="223" width="1" height="1" fill="#0000ff"/>
<rect x="753" y="224" width="1" height="1" fill="#0000ff"/>
<rect x="751" y="225" width="2" height="1" fill="#0000ff"/>
<rect x="750" y="226" width="1" height="1" fill="#0000ff"/>
<rect x="749" y="227" width="1" height="1" fill="#0000ff"/>
<rect x="748" y="228" width="1" height="1" fill="#0000ff"/>
<rect x="747" y="229" width="1" height="1" fill="#0000ff"/>
<rect x="746" y="230" width="1" height="1" fill="#0000ff"/>
<rect x="745" y="231" width="1" height="1" fill="#0000ff"/>
<rect x="743" y="232" width="2" height="1" fill="#0000ff"/>
<rect x="742" y="233" width="1" height="1" fill="#0000ff"/>
<rect x="741" y="234" width="1" height="1" fill="#0000ff"/>
<rect x="740" y="235" width="1" height="1" fill="#0000ff"/>
<rect x="739" y="236" width="1" height="1" fill="#0000ff"/>
<rect x="738" y="237" width="1" height="1" fill="#0000ff"/>
<rect x="737" y="238" width="1" height="1" fill="#0000ff"/>
<rect x="736" y="239" width="1" height="1" fill="#0000ff"/>
<rect x="734" y="240" width="2" height="1" fill="#0000ff"/>
<rect x="733" y="241" width="1" height="1" fill="#0000ff"/>
<rect x="732" y="242" width="1" height="1" fill="#0000ff"/>
<rect x="731" y="243" width="1" height="1" fill="#0000ff"/>
<rect x="730" y="244" width="1" height="1" fill="#0000ff"/>
<rect x="729" y="245" width="1" height="1" fill="#0000ff"/>
<rect x="728" y="246" width="1" height="1" fill="#0000ff"/>
<rect x="726" y="247" width="2" height="1" fill="#0000ff"/>
<rect x="725" y="248" width="1" height="1" fill="#0000ff"/>
<rect x="724" y="249" width="1" height="1" fill="#0000ff"/>
<rect x="723" y="250" width="1" height="1" fill="#0000ff"/>
<rect x="722" y="251" width="1" height="1" fill="#0000ff"/>
<rect x="721" y="252" width="1" height="1" fill="#0000ff"/>
<rect x="720" y="253" width="1" height="1" fill="#0000ff"/>
<rect x="719" y="254" width="1" height="1" fill="#0000ff"/>
<rect x="717" y="255" width="2" height="1" fill="#0000ff"/>
<rect x="716" y="256" width="1" height="1" fill="#0000ff"/>
<rect x="715" y="257" width="1" height="1" fill="#0000ff"/>
<rect x="714" y="258" width="1" height="1" fill="#0000ff"/>
<rect x="713" y="259" width="1" height="1" fill="#0000ff"/>
<rect x="712" y="260" width="1" height="1" fill="#0000ff"/>
<rect x="711" y="261" width="1" height="1" fill="#0000ff"/>
<rect x="709" y="262" width="2" height="1" fill="#0000ff"/>
<rect x="708" y="263" width="1" height="1" fill="#0000ff"/>
<rect x="707" y="264" width="1" height="1" fill="#0000ff"/>
<rect x="706" y="265" width="1" height="1" fill="#0000ff"/>
<rect x="705" y="266" width="1" height="1" fill="#0000ff"/>
<rect x="704" y="267" width="1" height="1" fill="#0000ff"/>
<rect x="703" y="268" width="1" height="1" fill="#0000ff"/>
<rect x="702" y="269" width="1" height="1" fill="#0000ff"/>
<rect x="700" y="270" width="2" height="1" fill="#0000ff"/>
<rect x="699" y="271" width="1" height="1" fill="#0000ff"/>
<rect x="698" y="272" width="1" height="1" fill="#0000ff"/>
<rect x="697" y="273" width="1" height="1" fill="#0000ff"/>
<rect x="696" y="274" width="1" height="1" fill="#0000ff"/>
<rect x="695" y="275" width="1" height="1" fill="#0000ff"/>
<rect x="694" y="276" width="1" height="1" fill="#0000ff"/>
<rect x="692" y="277" width="2" height="1" fill="#0000ff"/>
<rect x="691" y="278" width="1" height="1" fill="#0000ff"/>
<rect x="690" y="279" width="1" height="1" fill="#0000ff"/>
<rect x="689" y="280" width="1" height="1" fill="#0000ff"/>
<rect x="688" y="281" width="1" height="1" fill="#0000ff"/>
<rect x="687" y="282" width="1" height="1" fill="#0000ff"/>
<rect x="686" y="283" width="1" height="1" fill="#0000ff"/>
<rect x="685" y="284" width="1" height="1" fill="#0000ff"/>
<rect x="683" y="285" width="2" height="1" fill="#0000ff"/>
<rect x="682" y="286" width="1" height="1" fill="#0000ff"/>
<rect x="681" y="287" width="1" height="1" fill="#0000ff"/>
<rect x="680" y="288" width="1" height="1" fill="#0000ff"/>
<rect x="679" y="289" width="1" height="1" fill="#0000ff"/>
<rect x="678" y="290" width="1" height="1" fill="#0000ff"/>
<rect x="677" y="291" width="1" height="1" fill="#0000ff"/>
<rect x="675" y="292" width="2" height="1" fill="#0000ff"/>
<rect x="674" y="293" width="1" height="1" fill="#0000ff"/>
<rect x="673" y="294" width="1" height="1" fill="#0000ff"/>
<rect x="672" y="295" width="1" height="1" fill="#0000ff"/>
<rect x="671" y="296" width="1" height="1" fill="#0000ff"/>
<rect x="670" y="297" width="1" height="1" fill="#0000ff"/>
<rect x="669" y="298" width="1" height="1" fill="#0000ff"/>
<rect x="668" y="299" width="1" height="1" fill="#0000ff"/>
<rect x="666" y="300" width="2" height="1" fill="#0000ff"/>
<rect x="665" y="301" width="1" height="1" fill="#0000ff"/>
<rect x="664" y="302" width="1" height="1" fill="#0000ff"/>
<rect x="663" y="303" width="1" height="1" fill="#0000ff"/>
<rect x="662" y="304" width="1" height="1" fill="#0000ff"/>
<rect x="661" y="305" width="1" height="1" fill="#0000ff"/>
<rect x="660" y="306" width="1" height="1" fill="#0000ff"/>
<rect x="658" y="307" width="2" height="1" fill="#0000ff"/>
<rect x="657" y="308" width="1" height="1" fill="#0000ff"/>
<rect x="656" y="309" width="1" height="1" fill="#0000ff"/>
<rect x="655" y="310" width="1" height="1" fill="#0000ff"/>
<rect x="654" y="311" width="1" height="1" fill="#0000ff"/>
<rect x="653" y="312" width="1" height="1" fill="#0000ff"/>
<rect x="652" y="313" width="1" height="1" fill="#0000ff"/>
<rect x="651" y="314" width="1" height="1" fill="#0000ff"/>
<rect x="649" y="315" width="2" height="1" fill="#0000ff"/>
<rect x="648" y="316" width="1" height="1" fill="#0000ff"/>
<rect x="647" y="317" width="1" height="1" fill="#0000ff"/>
<rect x="646" y="318" width="1" height="1" fill="#0000ff"/>
<rect x="645" y="319" width="1" height="1" fill="#0000ff"/>
<rect x="644" y="320" width="1" height="1" fill="#0000ff"/>
<rect x="643" y="321" width="1" height="1" fill="#0000ff"/>
<rect x="641" y="322" width="2" height="1" fill="#0000ff"/>
<rect x="640" y="323" width="1" height="1" fill="#0000ff"/>
<rect x="639" y="324" width="1" height="1" fill="#0000ff"/>
<rect x="638" y="325" width="1" height="1" fill="#0000ff"/>
<rect x="637" y="326" width="1" height="1" fill="#0000ff"/>
<rect x="636" y="327" width="1" height="1" fill="#0000ff"/>
<rect x="635" y="328" width="1" height="1" fill="#0000ff"/>
<rect x="634" y="329" width="1" height="1" fill="#0000ff"/>
<rect x="632" y="330" width="2" height="1" fill="#0000ff"/>
<rect x="631" y="331" width="1" height="1" fill="#0000ff"/>
<rect x="630" y="332" width="1" height="1" fill="#0000ff"/>
<rect x="629" y="333" width="1" height="1" fill="#0000ff"/>
<rect x="628" y="334" width="1" height="1" fill="#0000ff"/>
<rect x="627" y="335" width="1" height="1" fill="#0000ff"/>
<rect x="626" y="336" width="1" height="1" fill="#0000ff"/>
<rect x="625" y="337" width="1" height="1" fill="#0000ff"/>
<rect x="623" y="338" width="2" height="1" fill="#0000ff"/>
<rect x="622" y="339" width="1" height="1" fill="#0000ff"/>
<rect x="621" y="340" width="1" height="1" fill="#0000ff"/>
<rect x="620" y="341" width="1" height="1" fill="#0000ff"/>
<rect x="619" y="342" width="1" height="1" fill="#0000ff"/>
<rect x="618" y="343" width="1" height="1" fill="#0000ff"/>
<rect x="617" y="344" width="1" height="1" fill="#0000ff"/>
<rect x="615" y="345" width="2" height="1" fill="#0000ff"/>
<rect x="614" y="346" width="1" height="1" fill="#0000ff"/>
<rect x="613" y="347" width="1" height="1" fill="#0000ff"/>
<rect x="612" y="348" width="1" height="1" fill="#0000ff"/>
<rect x="611" y="349" width="1" height="1" fill="#0000ff"/>
<rect x="610" y="350" width="1" height="1" fill="#0000ff"/>
<rect x="609" y="351" width="1" height="1" fill="#0000ff"/>
<rect x="608" y="352" width="1" height="1" fill="#0000ff"/>
<rect x="606" y="353" width="2" height="1" fill="#0000ff"/>
<rect x="605" y="354" width="1" height="1" fill="#0000ff"/>
<rect x="604" y="355" width="1" height="1" fill="#0000ff"/>
<rect x="603" y="356" width="1" height="1" fill="#0000ff"/>
<rect x="602" y="357" width="1" height="1" fill="#0000ff"/>
<rect x="601" y="358" width="1" height="1" fill="#0000ff"/>
<rect x="600" y="359" width="1" height="1" fill="#0000ff"/>
<rect x="598" y="360" width="2" height="1" fill="#0000ff"/>
<rect x="597" y="361" width="1" height="1" fill="#0000ff"/>
<rect x="596" y="362" width="1" height="1" fill="#0000ff"/>
<rect x="595" y="363" width="1" height="1" fill="#0000ff"/>
<rect x="594" y="364" width="1" height="1" fill="#0000ff"/>
<rect x="593" y="365" width="1" height="1" fill="#0000ff"/>
<rect x="592" y="366" width="1" height="1" fill="#0000ff"/>
<rect x="591" y="367" width="1" height="1" fill="#0000ff"/>
<rect x="589" y="368" width="2" height="1" fill="#0000ff"/>
<rect x="588" y="369" width="1" height="1" fill="#0000ff"/>
<rect x="587" y="370" width="1" height="1" fill="#0000ff"/>
<rect x="586" y="371" width="1" height="1" fill="#0000ff"/>
<rect x="585" y="372" width="1" height="1" fill="#0000ff"/>
<rect x="584" y="373" width="1" height="1" fill="#0000ff"/>
<rect x="583" y="374" width="1" height="1" fill="#0000ff"/>
<rect x="581" y="375" width="2" height="1" fill="#0000ff"/>
<rect x="580" y="376" width="1" height="1" fill="#0000ff"/>
<rect x="579" y="377" width="1" height="1" fill="#0000ff"/>
<rect x="578" y="378" width="1" height="1" fill="#0000ff"/>
<rect x="577" y="379" width="1" height="1" fill="#0000ff"/>
<rect x="576" y="380" width="1" height="1" fill="#0000ff"/>
<rect x="575" y="381" width="1" height="1" fill="#0000ff"/>
<rect x="574" y="382" width="1" height="1" fill="#0000ff"/>
<rect x="572" y="383" width="2" height="1" fill="#0000ff"/>
<rect x="571" y="384" width="1" height="1" fill="#0000ff"/>
<rect x="570" y="385" width="1" height="1" fill="#0000ff"/>
<rect x="569" y="386" width="1" height="1" fill="#0000ff"/>
<rect x="568" y="387" width="1" height="1" fill="#0000ff"/>
<rect x="567" y="388" width="1" height="1" fill="#0000ff"/>
<rect x="566" y="389" width="1" height="1" fill="#0000ff"/>
<rect x="564" y="390" width="2" height="1" fill="#0000ff"/>
<rect x="563" y="391" width="1" height="1" fill="#0000ff"/>
<rect x="562" y="392" width="1" height="1" fill="#0000ff"/>
<rect x="561" y="393" width="1" height="1" fill="#0000ff"/>
<rect x="560" y="394" width="1" height="1" fill="#0000ff"/>
<rect x="559" y="395" width="1" height="1" fill="#0000ff"/>
<rect x="558" y="396" width="1" height="1" fill="#0000ff"/>
<rect x="557" y="397" width="1" height="1" fill="#0000ff"/>
<rect x="555" y="398" width="2" height="1" fill="#0000ff"/>
<rect x="554" y="399" width="1" height="1" fill="#0000ff"/>
<rect x="553" y="400" width="1" height="1" fill="#0000ff"/>
<rect x="552" y="401" width="1" height="1" fill="#0000ff"/>
<rect x="551" y="402" width="1" height="1" fill="#0000ff"/>
<rect x="550" y="403" width="1" height="1" fill="#0000ff"/>
<rect x="549" y="404" width="1" height="1" fill="#0000ff"/>
<rect x="547" y="405" width="2" height="1" fill="#0000ff"/>
<rect x="546" y="406" width="1" height="1" fill="#0000ff"/>
<rect x="545" y="407" width="1" height="1" fill="#0000ff"/>
<rect x="544" y="408" width="1" height="1" fill="#0000ff"/>
<rect x="543" y="409" width="1" height="1" fill="#0000ff"/>
<rect x="542" y="410" width="1" height="1" fill="#0000ff"/>
<rect x="541" y="411" width="1" height="1" fill="#0000ff"/>
<rect x="540" y="412" width="1" height="1" fill="#0000ff"/>
<rect x="538" y="413" width="2" height="1" fill="#0000ff"/>
<rect x="537" y="414" width="1" height="1" fill="#0000ff"/>
<rect x="536" y="415" width="1" height="1" fill="#0000ff"/>
<rect x="535" y="416" width="1" height="1" fill="#0000ff"/>
<rect x="534" y="417" width="1" height="1" fill="#0000ff"/>
<rect x="533" y="418" width="1" height="1" fill="#0000ff"/>
<rect x="532" y="419" width="1" height="1" fill="#0000ff"/>
<rect x="530" y="420" width="2" height="1" fill="#0000ff"/>
<rect x="529" y="421" width="1" height="1" fill="#0000ff"/>
<rect x="528" y="422" width="1" height="1" fill="#0000ff"/>
<rect x="527" y="423" width="1" height="1" fill="#0000ff"/>
<rect x="526" y="424" width="1" height="1" fill="#0000ff"/>
<rect x="525" y="425" width="1" height="1" fill="#0000ff"/>
<rect x="524" y="426" width="1" height="1" fill="#0000ff"/>
<rect x="523" y="427" width="1" height="1" fill="#0000ff"/>
<rect x="521" y="428" width="2" height="1" fill="#0000ff"/>
<rect x="520" y="429" width="1" height="1" fill="#0000ff"/>
<rect x="519" y="430" width="1" height="1" fill="#0000ff"/>
<rect x="518" y="431" width="1" height="1" fill="#0000ff"/>
<rect x="517" y="432" width="1" height="1" fill="#0000ff"/>
<rect x="516" y="433" width="1" height="1" fill="#0000ff"/>
<rect x="515" y="434" width="1" height="1" fill="#0000ff"/>
<rect x="513" y="435" width="2" height="1" fill="#0000ff"/>
<rect x="512" y="436" width="1" height="1" fill="#0000ff"/>
<rect x="511" y="437" width="1" height="1" fill="#0000ff"/>
<rect x="510" y="438" width="1" height="1" fill="#0000ff"/>
<rect x="509" y="439" width="1" height="1" fill="#0000ff"/>
<rect x="508" y="440" width="1" height="1" fill="#0000ff"/>
<rect x="507" y="441" width="1" height="1" fill="#0000ff"/>
<rect x="506" y="442" width="1" height="1" fill="#0000ff"/>
<rect x="504" y="443" width="2" height="1" fill="#0000ff"/>
<rect x="503" y="444" width="1" height="1" fill="#0000ff"/>
<rect x="502" y="445" width="1" height="1" fill="#0000ff"/>
<rect x="501" y="446" width="1" height="1" fill="#0000ff"/>
<rect x="500" y="447" width="1" height="1" fill="#0000ff"/>
<rect x="499" y="448" width="1" height="1" fill="#0000ff"/>
<rect x="498" y="449" width="1" height="1" fill="#0000ff"/>
<rect x="496" y="450" width="2" height="1" fill="#0000ff"/>
<rect x="495" y="451" width="1" height="1" fill="#0000ff"/>
<rect x="494" y="452" width="1" height="1" fill="#0000ff"/>
<rect x="493" y="453" width="1" height="1" fill="#0000ff"/>
<rect x="492" y="454" width="1" height="1" fill="#0000ff"/>
<rect x="491" y="455" width="1" height="1" fill="#0000ff"/>
<rect x="490" y="456" width="1" height="1" fill="#0000ff"/>
<rect x="489" y="457" width="1" height="1" fill="#0000ff"/>
<rect x="487" y="458" width="2" height="1" fill="#0000ff"/>
<rect x="486" y="459" width="1" height="1" fill="#0000ff"/>
<rect x="485" y="460" width="1" height="1" fill="#0000ff"/>
<rect x="484" y="461" width="1" height="1" fill="#0000ff"/>
<rect x="483" y="462" width="1" height="1" fill="#0000ff"/>
<rect x="482" y="463" width="1" height="1" fill="#0000ff"/>
<rect x="481" y="464" width="1" height="1" fill="#0000ff"/>
<rect x="479" y="465" width="2" height="1" fill="#0000ff"/>
<rect x="478" y="466" width="1" height="1" fill="#0000ff"/>
<rect x="477" y="467" width="1" height="1" fill="#0000ff"/>
<rect x="476" y="468" width="1" height="1" fill="#0000ff"/>
<rect x="475" y="469" width="1" height="1" fill="#0000ff"/>
<rect x="474" y="470" width="1" height="1" fill="#0000ff"/>
<rect x="473" y="471" width="1" height="1" fill="#0000ff"/>
<rect x="472" y="472" width="1" height="1" fill="#0000ff"/>
<rect x="470" y="473" width="2" height="1" fill="#0000ff"/>
<rect x="469" y="474" width="1" height="1" fill="#0000ff"/>
<rect x="468" y="475" width="1" height="1" fill="#0000ff"/>
<rect x="467" y="476" width="1" height="1" fill="#0000ff"/>
<rect x="466" y="477" width="1" height="1" fill="#0000ff"/>
<rect x="465" y="478" width="1" height="1" fill="#0000ff"/>
<rect x="464" y="479" width="1" height="1" fill="#0000ff"/>
<rect x="462" y="480" width="2" height="1" fill="#0000ff"/>
<rect x="461" y="481" width="1" height="1" fill="#0000ff"/>
<rect x="460" y="482" width="1" height="1" fill="#0000ff"/>
<rect x="459" y="483" width="1" height="1" fill="#0000ff"/>
<rect x="458" y="484" width="1" height="1" fill="#0000ff"/>
<rect x="457" y="485" width="1" height="1" fill="#0000ff"/>
<rect x="456" y="486" width="1" height="1" fill="#0000ff"/>
<rect x="455" y="487" width="1" height="1" fill="#0000ff"/>
<rect x="453" y="488" width="2" height="1" fill="#0000ff"/>
<rect x="452" y="489" width="1" height="1" fill="#0000ff"/>
<rect x="451" y="490" width="1" height="1" fill="#0000ff"/>
<rect x="450" y="491" width="1" height="1" fill="#0000ff"/>
<rect x="449" y="492" width="1" height="1" fill="#0000ff"/>
<rect x="448" y="493" width="1" height="1" fill="#0000ff"/>
<rect x="447" y="494" width="1" height="1" fill="#0000ff"/>
<rect x="445" y="495" width="2" height="1" fill="#0000ff"/>
<rect x="444" y="496" width="1" height="1" fill="#0000ff"/>
<rect x="443" y="497" width="1" height="1" fill="#0000ff"/>
<rect x="442" y="498" width="1" height="1" fill="#0000ff"/>
<rect x="441" y="499" width="1" height="1" fill="#0000ff"/>
<rect x="56" y="244" width="6" height="1" fill="#008000"/>
<rect x="62" y="245" width="12" height="1" fill="#008000"/>
<rect x="74" y="246" width="11" height="1" fill="#008000"/>
<rect x="85" y="247" width="11" height="1" fill="#008000"/>
<rect x="96" y="248" width="12" height="1" fill="#008000"/>
<rect x="108" y="249" width="11" height="1" fill="#008000"/>
<rect x="119" y="250" width="12" height="1" fill="#008000"/>
<rect x="131" y="251" width="11" height="1" fill="#008000"/>
<rect x="142" y="252" width="11" height="1" fill="#008000"/>
<rect x="153" y="253" width="12" height="1" fill="#008000"/>
<rect x="165" y="254" width="11" height="1" fill="#008000"/>
<rect x="176" y="255" width="12" height="1" fill="#008000"/>
<rect x="188" y="256" width="11" height="1" fill="#008000"/>
<rect x="199" y="257" width="11" height="1" fill="#008000"/>
<rect x="210" y="258" width="12" height="1" fill="#008000"/>
<rect x="222" y="259" width="11" height="1" fill="#008000"/>
<rect x="233" y="260" width="12" height="1" fill="#008000"/>
<rect x="245" y="261" width="11" height="1" fill="#008000"/>
<rect x="256" y="262" width="11" height="1" fill="#008000"/>
<rect x="267" y="263" width="12" height="1" fill="#008000"/>
<rect x="279" y="264" width="11" height="1" fill="#008000"/>
<rect x="290" y="265" width="11" height="1" fill="#008000"/>
<rect x="301" y="266" width="12" height="1" fill="#008000"/>
<rect x="313" y="267" width="11" height="1" fill="#008000"/>
<rect x="324" y="268" width="12" height="1" fill="#008000"/>
<rect x="336" y="269" width="11" height="1" fill="#008000"/>
<rect x="347" y="270" width="11" height="1" fill="#008000"/>
<rect x="358" y="271" width="12" height="1" fill="#008000"/>
<rect x="370" y="272" width="11" height="1" fill="#008000"/>
<rect x="381" y="273" width="12" height="1" fill="#008000"/>
<rect x="393" y="274" width="11" height="1" fill="#008000"/>
<rect x="404" y="275" width="11" height="1" fill="#008000"/>
<rect x="415" y="276" width="12" height="1" fill="#008000"/>
<rect x="427" y="277" width="11" height="1" fill="#008000"/>
<rect x="438" y="278" width="12" height="1" fill="#008000"/>
<rect x="450" y="279" width="11" height="1" fill="#008000"/>
<rect x="461" y="280" width="11" height="1" fill="#008000"/>
<rect x="472" y="281" width="12" height="1" fill="#008000"/>
<rect x="484" y="282" width="11" height="1" fill="#008000"/>
<rect x="495" y="283" width="12" height="1" fill="#008000"/>
<rect x="507" y="284" width="11" height="1" fill="#008000"/>
<rect x="518" y="285" width="11" height="1" fill="#008000"/>
<rect x="529" y="286" width="12" height="1" fill="#008000"/>
<rect x="541" y="287" width="11" height="1" fill="#008000"/>
<rect x="552" y="288" width="12" height="1" fill="#008000"/>
<rect x="564" y="289" width="11" height="1" fill="#008000"/>
<rect x="575" y="290" width="11" height="1" fill="#008000"/>
<rect x="586" y="291" width="12" height="1" fill="#008000"/>
<rect x="598" y="292" width="11" height="1" fill="#008000"/>
<rect x="609" y="293" width="12" height="1" fill="#008000"/>
<rect x="621" y="294" width="11" height="1" fill="#008000"/>
<rect x="632" y="295" width="11" height="1" fill="#008000"/>
<rect x="643" y="296" width="12" height="1" fill="#008000"/>
<rect x="655" y="297" width="11" height="1" fill="#008000"/>
<rect x="666" y="298" width="12" height="1" fill="#008000"/>
<rect x="678" y="299" width="11" height="1" fill="#008000"/>
<rect x="689" y="300" width="11" height="1" fill="#008000"/>
<rect x="700" y="301" width="12" height="1" fill="#008000"/>
<rect x="712" y="302" width="11" height="1" fill="#008000"/>
<rect x="723" y="303" width="12" height="1" fill="#008000"/>
<rect x="735" y="304" width="11" height="1" fill="#008000"/>
<rect x="746" y="305" width="11" height="1" fill="#008000"/>
<rect x="757" y="306" width="12" height="1" fill="#008000"/>
<rect x="769" y="307" width="11" height="1" fill="#008000"/>
<rect x="780" y="308" width="11" height="1" fill="#008000"/>
<rect x="791" y="309" width="12" height="1" fill="#008000"/>
<rect x="803" y="310" width="11" height="1" fill="#008000"/>
<rect x="814" y="311" width="12" height="1" fill="#008000"/>
<rect x="826" y="312" width="11" height="1" fill="#008000"/>
<rect x="837" y="313" width="11" height="1" fill="#008000"/>
<rect x="848" y="314" width="12" height="1" fill="#008000"/>
<rect x="860" y="315" width="11" height="1" fill="#008000"/>
<rect x="871" y="316" width="12" height="1" fill="#008000"/>
<rect x="883" y="317" width="11" height="1" fill="#008000"/>
<rect x="894" y="318" width="11" height="1" fill="#008000"/>
<rect x="905" y="319" width="12" height="1" fill="#008000"/>
<rect x="917" y="320" width="11" height="1" fill="#008000"/>
<rect x="928" y="321" width="12" height="1" fill="#008000"/>
<rect x="940" y="322" width="11" height="1" fill="#008000"/>
<rect x="951" y="323" width="11" height="1" fill="#008000"/>
<rect x="962" y="324" width="12" height="1" fill="#008000"/>
<rect x="974" y="325" width="6" height="1" fill="#008000"/>
<rect x="984" y="408" width="3" height="1" fill="#008000"/>
<rect x="978" y="409" width="6" height="1" fill="#008000"/>
<rect x="972" y="410" width="6" height="1" fill="#008000"/>
<rect x="966" y="411" width="6" height="1" fill="#008000"/>
<rect x="960" y="412" width="6" height="1" fill="#008000"/>
<rect x="954" y="413" width="6" height="1" fill="#008000"/>
<rect x="948" y="414" width="6" height="1" fill="#008000"/>
<rect x="943" y="415" width="5" height="1" fill="#008000"/>
<rect x="937" y="416" width="6" height="1" fill="#008000"/>
<rect x="931" y="417" width="6" height="1" fill="#008000"/>
<rect x="925" y="418" width="6" height="1" fill="#008000"/>
<rect x="919" y="419" width="6" height="1" fill="#008000"/>
<rect x="913" y="420" width="6" height="1" fill="#008000"/>
<rect x="907" y="421" width="6" height="1" fill="#008000"/>
<rect x="902" y="422" width="5" height="1" fill="#008000"/>
<rect x="896" y="423" width="6" height="1" fill="#008000"/>
<rect x="890" y="424" width="6" height="1" fill="#008000"/>
<rect x="884" y="425" width="6" height="1" fill="#008000"/>
<rect x="878" y="426" width="6" height="1" fill="#008000"/>
<rect x="872" y="427" width="6" height="1" fill="#008000"/>
<rect x="866" y="428" width="6" height="1" fill="#008000"/>
<rect x="861" y="429" width="5" height="1" fill="#008000"/>
<rect x="855" y="430" width="6" height="1" fill="#008000"/>
<rect x="849" y="431" width="6" height="1" fill="#008000"/>
<rect x="843" y="432" width="6" height="1" fill="#008000"/>
<rect x="837" y="433" width="6" height="1" fill="#008000"/>
<rect x="831" y="434" width="6" height="1" fill="#008000"/>
<rect x="825" y="435" width="6" height="1" fill="#008000"/>
<rect x="820" y="436" width="5" height="1" fill="#008000"/>
<rect x="814" y="437" width="6" height="1" fill="#008000"/>
<rect x="808" y="438" width="6" height="1" fill="#008000"/>
<rect x="802" y="439" width="6" height="1" fill="#008000"/>
<rect x="796" y="440" width="6" height="1" fill="#008000"/>
<rect x="790" y="441" width="6" height="1" fill="#008000"/>
<rect x="784" y="442" width="6" height="1" fill="#008000"/>
<rect x="779" y="443" width="5" height="1" fill="#008000"/>
<rect x="773" y="444" width="6" height="1" fill="#008000"/>
<rect x="767" y="445" width="6" height="1" fill="#008000"/>
<rect x="761" y="446" width="6" height="1" fill="#008000"/>
<rect x="755" y="447" width="6" height="1" fill="#008000"/>
<rect x="749" y="448" width="6" height="1" fill="#008000"/>
<rect x="743" y="449" width="6" height="1" fill="#008000"/>
<rect x="738" y="450" width="5" height="1" fill="#008000"/>
<rect x="732" y="451" width="6" height="1" fill="#008000"/>
<rect x="726" y="452" width="6" height="1" fill="#008000"/>
<rect x="720" y="453" width="6" height="1" fill="#008000"/>
<rect x="714" y="454" width="6" height="1" fill="#008000"/>
<rect x="708" y="455" width="6" height="1" fill="#008000"/>
<rect x="702" y="456" width="6" height="1" fill="#008000"/>
<rect x="697" y="457" width="5" height="1" fill="#008000"/>
<rect x="691" y="458" width="6" height="1" fill="#008000"/>
<rect x="685" y="459" width="6" height="1" fill="#008000"/>
<rect x="679" y="460" width="6" height="1" fill="#008000"/>
<rect x="673" y="461" width="6" height="1" fill="#008000"/>
<rect x="667" y="462" width="6" height="1" fill="#008000"/>
<rect x="661" y="463" width="6" height="1" fill="#008000"/>
<rect x="656" y="464" width="5" height="1" fill="#008000"/>
<rect x="650" y="465" width="6" height="1" fill="#008000"/>
<rect x="644" y="466" width="6" height="1" fill="#008000"/>
<rect x="638" y="467" width="6" height="1" fill="#008000"/>
<rect x="632" y="468" width="6" height="1" fill="#008000"/>
<rect x="626" y="469" width="6" height="1" fill="#008000"/>
<rect x="620" y="470" width="6" height="1" fill="#008000"/>
<rect x="615" y="471" width="5" height="1" fill="#008000"/>
<rect x="609" y="472" width="6" height="1" fill="#008000"/>
<rect x="603" y="473" width="6" height="1" fill="#008000"/>
<rect x="597" y="474" width="6" height="1" fill="#008000"/>
<rect x="591" y="475" width="6" height="1" fill="#008000"/>
<rect x="585" y="476" width="6" height="1" fill="#008000"/>
<rect x="579" y="477" width="6" height="1" fill="#008000"/>
<rect x="574" y="478" width="5" height="1" fill="#008000"/>
<rect x="568" y="479" width="6" height="1" fill="#008000"/>
<rect x="562" y="480" width="6" height="1" fill="#008000"/>
<rect x="556" y="481" width="6" height="1" fill="#008000"/>
<rect x="550" y="482" width="6" height="1" fill="#008000"/>
<rect x="544" y="483" width="6" height="1" fill="#008000"/>
<rect x="538" y="484" width="6" height="1" fill="#008000"/>
<rect x="532" y="485" width="6" height="1" fill="#008000"/>
<rect x="527" y="486" width="5" height="1" fill="#008000"/>
<rect x="521" y="487" width="6" height="1" fill="#008000"/>
<rect x="515" y="488" width="6" height="1" fill="#008000"/>
<rect x="509" y="489" width="6" height="1" fill="#008000"/>
<rect x="503" y="490" width="6" height="1" fill="#008000"/>
<rect x="497" y="491" width="6" height="1" fill="#008000"/>
<rect x="491" y="492" width="6" height="1" fill="#008000"/>
<rect x="486" y="493" width="5" height="1" fill="#008000"/>
<rect x="480" y="494" width="6" height="1" fill="#008000"/>
<rect x="474" y="495" width="6" height="1" fill="#008000"/>
<rect x="468" y="496" width="6" height="1" fill="#008000"/>
<rect x="462" y="497" width="6" height="1" fill="#008000"/>
<rect x="456" y="498" width="6" height="1" fill="#008000"/>
<rect x="450" y="499" width="6" height="1" fill="#008000"/>
<rect x="445" y="500" width="5" height="1" fill="#008000"/>
<rect x="439" y="501" width="6" height="1" fill="#008000"/>
<rect x="433" y="502" width="6" height="1" fill="#008000"/>
<rect x="427" y="503" width="6" height="1" fill="#008000"/>
<rect x="421" y="504" width="6" height="1" fill="#008000"/>
<rect x="415" y="505" width="6" height="1" fill="#008000"/>
<rect x="409" y="506" width="6" height="1" fill="#008000"/>
<rect x="404" y="507" width="5" height="1" fill="#008000"/>
<rect x="398" y="508" width="6" height="1" fill="#008000"/>
<rect x="392" y="509" width="6" height="1" fill="#008000"/>
<rect x="386" y="510" width="6" height="1" fill="#008000"/>
<rect x="380" y="511" width="6" height="1" fill="#008000"/>
<rect x="374" y="512" width="6" height="1" fill="#008000"/>
<rect x="368" y="513" width="6" height="1" fill="#008000"/>
<rect x="363" y="514" width="5" height="1" fill="#008000"/>
<rect x="357" y="515" width="6" height="1" fill="#008000"/>
<rect x="351" y="516" width="6" height="1" fill="#008000"/>
<rect x="345" y="517" width="6" height="1" fill="#008000"/>
<rect x="339" y="518" width="6" height="1" fill="#008000"/>
<rect x="333" y="519" width="6" height="1" fill="#008000"/>
<rect x="327" y="520" width="6" height="1" fill="#008000"/>
<rect x="322" y="521" width="5" height="1" fill="#008000"/>
<rect x="316" y="522" width="6" height="1" fill="#008000"/>
<rect x="310" y="523" width="6" height="1" fill="#008000"/>
<rect x="304" y="524" width="6" height="1" fill="#008000"/>
<rect x="298" y="525" width="6" height="1" fill="#008000"/>
<rect x="292" y="526" width="6" height="1" fill="#008000"/>
<rect x="286" y="527" width="6" height="1" fill="#008000"/>
<rect x="281" y="528" width="5" height="1" fill="#008000"/>
<rect x="275" y="529" width="6" height="1" fill="#008000"/>
<rect x="269" y="530" width="6" height="1" fill="#008000"/>
<rect x="263" y="531" width="6" height="1" fill="#008000"/>
<rect x="257" y="532" width="6" height="1" fill="#008000"/>
<rect x="251" y="533" width="6" height="1" fill="#008000"/>
<rect x="245" y="534" width="6" height="1" fill="#008000"/>
<rect x="240" y="535" width="5" height="1" fill="#008000"/>
<rect x="234" y="536" width="6" height="1" fill="#008000"/>
<rect x="228" y="537" width="6" height="1" fill="#008000"/>
<rect x="222" y="538" width="6" height="1" fill="#008000"/>
<rect x="216" y="539" width="6" height="1" fill="#008000"/>
<rect x="210" y="540" width="6" height="1" fill="#008000"/>
<rect x="204" y="541" width="6" height="1" fill="#008000"/>
<rect x="199" y="542" width="5" height="1" fill="#008000"/>
<rect x="193" y="543" width="6" height="1" fill="#008000"/>
<rect x="187" y="544" width="6" height="1" fill="#008000"/>
<rect x="181" y="545" width="6" height="1" fill="#008000"/>
<rect x="175" y="546" width="6" height="1" fill="#008000"/>
<rect x="169" y="547" width="6" height="1" fill="#008000"/>
<rect x="163" y="548" width="6" height="1" fill="#008000"/>
<rect x="158" y="549" width="5" height="1" fill="#008000"/>
<rect x="152" y="550" width="6" height="1" fill="#008000"/>
<rect x="146" y="551" width="6" height="1" fill="#008000"/>
<rect x="140" y="552" width="6" height="1" fill="#008000"/>
<rect x="134" y="553" width="6" height="1" fill="#008000"/>
<rect x="128" y="554" width="6" height="1" fill="#008000"/>
<rect x="122" y="555" width="6" height="1" fill="#008000"/>
<rect x="119" y="556" width="3" height="1" fill="#008000"/>
</g>
<g shape-rendering="crispEdges">
<rect x="875" y="568" width="1" height="1" fill="#000"/>
<rect x="879" y="568" width="2" height="1" fill="#000"/>
<rect x="873" y="569" width="2" height="1" fill="#000"/>
<rect x="881" y="569" width="1" height="1" fill="#000"/>
<rect x="884" y="572" width="1" height="1" fill="#000"/>
<rect x="870" y="573" width="1" height="1" fill="#000"/>
<rect x="885" y="573" width="1" height="2" fill="#000"/>
<rect x="620" y="574" width="1" height="1" fill="#000"/>
<rect x="869" y="574" width="1" height="2" fill="#000"/>
<rect x="196" y="575" width="1" height="1" fill="#000"/>
<rect x="621" y="575" width="2" height="1" fill="#000"/>
<rect x="195" y="576" width="1" height="1" fill="#000"/>
<rect x="197" y="576" width="1" height="1" fill="#000"/>
<rect x="616" y="577" width="1" height="2" fill="#000"/>
<rect x="778" y="577" width="1" height="1" fill="#000"/>
<rect x="825" y="577" width="1" height="1" fill="#000"/>
<rect x="511" y="578" width="1" height="1" fill="#000"/>
<rect x="779" y="578" width="1" height="2" fill="#000"/>
<rect x="822" y="578" width="1" height="1" fill="#000"/>
<rect x="826" y="578" width="1" height="2" fill="#000"/>
<rect x="887" y="578" width="1" height="1" fill="#000"/>
<rect x="460" y="579" width="2" height="1" fill="#000"/>
<rect x="465" y="579" width="1" height="1" fill="#000"/>
<rect x="471" y="579" width="1" height="1" fill="#000"/>
<rect x="510" y="579" width="1" height="1" fill="#000"/>
<rect x="512" y="579" width="1" height="1" fill="#000"/>
<rect x="532" y="579" width="1" height="1" fill="#000"/>
<rect x="534" y="579" width="1" height="1" fill="#000"/>
<rect x="615" y="579" width="1" height="1" fill="#000"/>
<rect x="625" y="579" width="1" height="2" fill="#000"/>
<rect x="776" y="579" width="1" height="1" fill="#000"/>
<rect x="821" y="579" width="1" height="2" fill="#000"/>
<rect x="867" y="579" width="1" height="1" fill="#000"/>
<rect x="888" y="579" width="1" height="2" fill="#000"/>
<rect x="193" y="580" width="1" height="1" fill="#000"/>
<rect x="199" y="580" width="1" height="2" fill="#000"/>
<rect x="459" y="580" width="1" height="1" fill="#000"/>
<rect x="466" y="580" width="2" height="1" fill="#000"/>
<rect x="472" y="580" width="1" height="2" fill="#000"/>
<rect x="531" y="580" width="1" height="2" fill="#000"/>
<rect x="535" y="580" width="1" height="1" fill="#000"/>
<rect x="775" y="580" width="1" height="1" fill="#000"/>
<rect x="866" y="580" width="1" height="2" fill="#000"/>
<rect x="955" y="580" width="1" height="1" fill="#000"/>
<rect x="958" y="580" width="1" height="3" fill="#000"/>
<rect x="191" y="581" width="2" height="1" fill="#000"/>
<rect x="408" y="581" width="1" height="1" fill="#000"/>
<rect x="536" y="581" width="1" height="1" fill="#000"/>
<rect x="626" y="581" width="1" height="1" fill="#000"/>
<rect x="774" y="581" width="1" height="1" fill="#000"/>
<rect x="954" y="581" width="1" height="1" fill="#000"/>
<rect x="200" y="582" width="1" height="1" fill="#000"/>
<rect x="409" y="582" width="2" height="1" fill="#000"/>
<rect x="685" y="582" width="1" height="1" fill="#000"/>
<rect x="953" y="582" width="1" height="1" fill="#000"/>
<rect x="508" y="583" width="1" height="2" fill="#000"/>
<rect x="515" y="583" width="1" height="2" fill="#000"/>
<rect x="613" y="583" width="1" height="2" fill="#000"/>
<rect x="682" y="583" width="1" height="2" fill="#000"/>
<rect x="686" y="583" width="1" height="1" fill="#000"/>
<rect x="780" y="583" width="1" height="2" fill="#000"/>
<rect x="827" y="583" width="1" height="1" fill="#000"/>
<rect x="188" y="584" width="1" height="3" fill="#000"/>
<rect x="456" y="584" width="1" height="1" fill="#000"/>
<rect x="687" y="584" width="1" height="1" fill="#000"/>
<rect x="820" y="584" width="1" height="2" fill="#000"/>
<rect x="828" y="584" width="1" height="2" fill="#000"/>
<rect x="890" y="584" width="1" height="1" fill="#000"/>
<rect x="405" y="585" width="1" height="1" fill="#000"/>
<rect x="455" y="585" width="1" height="2" fill="#000"/>
<rect x="475" y="585" width="1" height="2" fill="#000"/>
<rect x="507" y="585" width="1" height="1" fill="#000"/>
<rect x="516" y="585" width="1" height="1" fill="#000"/>
<rect x="528" y="585" width="1" height="2" fill="#000"/>
<rect x="539" y="585" width="1" height="2" fill="#000"/>
<rect x="612" y="585" width="1" height="1" fill="#000"/>
<rect x="627" y="585" width="1" height="1" fill="#000"/>
<rect x="681" y="585" width="1" height="1" fill="#000"/>
<rect x="773" y="585" width="1" height="2" fill="#000"/>
<rect x="781" y="585" width="1" height="1" fill="#000"/>
<rect x="865" y="585" width="1" height="1" fill="#000"/>
<rect x="891" y="585" width="1" height="2" fill="#000"/>
<rect x="92" y="586" width="2" height="1" fill="#000"/>
<rect x="201" y="586" width="1" height="3" fill="#000"/>
<rect x="404" y="586" width="1" height="2" fill="#000"/>
<rect x="412" y="586" width="1" height="1" fill="#000"/>
<rect x="628" y="586" width="1" height="2" fill="#000"/>
<rect x="657" y="586" width="1" height="1" fill="#000"/>
<rect x="819" y="586" width="1" height="1" fill="#000"/>
<rect x="864" y="586" width="1" height="2" fill="#000"/>
<rect x="952" y="586" width="1" height="1" fill="#000"/>
<rect x="959" y="586" width="1" height="1" fill="#000"/>
<rect x="90" y="587" width="1" height="1" fill="#000"/>
<rect x="94" y="587" width="1" height="1" fill="#000"/>
<rect x="413" y="587" width="1" height="2" fill="#000"/>
<rect x="476" y="587" width="1" height="1" fill="#000"/>
<rect x="527" y="587" width="1" height="1" fill="#000"/>
<rect x="540" y="587" width="1" height="1" fill="#000"/>
<rect x="656" y="587" width="1" height="1" fill="#000"/>
<rect x="772" y="587" width="1" height="1" fill="#000"/>
<rect x="951" y="587" width="1" height="2" fill="#000"/>
<rect x="960" y="587" width="1" height="2" fill="#000"/>
<rect x="89" y="588" width="1" height="2" fill="#000"/>
<rect x="591" y="588" width="2" height="1" fill="#000"/>
<rect x="655" y="588" width="1" height="1" fill="#000"/>
<rect x="689" y="588" width="1" height="1" fill="#000"/>
<rect x="506" y="589" width="1" height="3" fill="#000"/>
<rect x="518" y="589" width="1" height="2" fill="#000"/>
<rect x="591" y="589" width="1" height="1" fill="#000"/>
<rect x="611" y="589" width="1" height="1" fill="#000"/>
<rect x="680" y="589" width="1" height="1" fill="#000"/>
<rect x="690" y="589" width="1" height="1" fill="#000"/>
<rect x="782" y="589" width="1" height="3" fill="#000"/>
<rect x="829" y="589" width="1" height="3" fill="#000"/>
<rect x="186" y="590" width="1" height="3" fill="#000"/>
<rect x="317" y="590" width="1" height="1" fill="#000"/>
<rect x="454" y="590" width="1" height="3" fill="#000"/>
<rect x="610" y="590" width="1" height="2" fill="#000"/>
<rect x="661" y="590" width="1" height="2" fill="#000"/>
<rect x="679" y="590" width="1" height="2" fill="#000"/>
<rect x="691" y="590" width="1" height="1" fill="#000"/>
<rect x="819" y="590" width="1" height="1" fill="#000"/>
<rect x="893" y="590" width="1" height="1" fill="#000"/>
<rect x="96" y="591" width="1" height="1" fill="#000"/>
<rect x="156" y="591" width="1" height="2" fill="#000"/>
<rect x="318" y="591" width="1" height="2" fill="#000"/>
<rect x="401" y="591" width="1" height="2" fill="#000"/>
<rect x="478" y="591" width="1" height="2" fill="#000"/>
<rect x="519" y="591" width="1" height="1" fill="#000"/>
<rect x="525" y="591" width="1" height="2" fill="#000"/>
<rect x="543" y="591" width="1" height="1" fill="#000"/>
<rect x="595" y="591" width="1" height="1" fill="#000"/>
<rect x="629" y="591" width="1" height="3" fill="#000"/>
<rect x="652" y="591" width="1" height="2" fill="#000"/>
<rect x="771" y="591" width="1" height="3" fill="#000"/>
<rect x="818" y="591" width="1" height="2" fill="#000"/>
<rect x="863" y="591" width="1" height="3" fill="#000"/>
<rect x="894" y="591" width="1" height="2" fill="#000"/>
<rect x="97" y="592" width="1" height="2" fill="#000"/>
<rect x="157" y="592" width="1" height="1" fill="#000"/>
<rect x="202" y="592" width="1" height="3" fill="#000"/>
<rect x="414" y="592" width="1" height="3" fill="#000"/>
<rect x="479" y="592" width="1" height="1" fill="#000"/>
<rect x="544" y="592" width="1" height="1" fill="#000"/>
<rect x="596" y="592" width="1" height="2" fill="#000"/>
<rect x="662" y="592" width="1" height="1" fill="#000"/>
<rect x="695" y="592" width="1" height="1" fill="#000"/>
<rect x="950" y="592" width="1" height="1" fill="#000"/>
<rect x="961" y="592" width="1" height="2" fill="#000"/>
<rect x="88" y="593" width="1" height="3" fill="#000"/>
<rect x="400" y="593" width="1" height="1" fill="#000"/>
<rect x="524" y="593" width="1" height="1" fill="#000"/>
<rect x="545" y="593" width="1" height="1" fill="#000"/>
<rect x="589" y="593" width="1" height="3" fill="#000"/>
<rect x="651" y="593" width="1" height="1" fill="#000"/>
<rect x="696" y="593" width="2" height="1" fill="#000"/>
<rect x="949" y="593" width="1" height="2" fill="#000"/>
<rect x="112" y="594" width="1" height="2" fill="#000"/>
<rect x="314" y="594" width="1" height="1" fill="#000"/>
<rect x="379" y="594" width="2" height="1" fill="#000"/>
<rect x="962" y="594" width="1" height="1" fill="#000"/>
<rect x="113" y="595" width="1" height="1" fill="#000"/>
<rect x="313" y="595" width="1" height="2" fill="#000"/>
<rect x="379" y="595" width="1" height="1" fill="#000"/>
<rect x="483" y="595" width="1" height="2" fill="#000"/>
<rect x="505" y="595" width="1" height="2" fill="#000"/>
<rect x="521" y="595" width="1" height="2" fill="#000"/>
<rect x="608" y="595" width="1" height="3" fill="#000"/>
<rect x="678" y="595" width="1" height="2" fill="#000"/>
<rect x="784" y="595" width="1" height="3" fill="#000"/>
<rect x="830" y="595" width="1" height="3" fill="#000"/>
<rect x="154" y="596" width="1" height="3" fill="#000"/>
<rect x="160" y="596" width="1" height="2" fill="#000"/>
<rect x="185" y="596" width="1" height="1" fill="#000"/>
<rect x="321" y="596" width="1" height="3" fill="#000"/>
<rect x="383" y="596" width="1" height="1" fill="#000"/>
<rect x="453" y="596" width="1" height="1" fill="#000"/>
<rect x="663" y="596" width="1" height="3" fill="#000"/>
<rect x="701" y="596" width="1" height="1" fill="#000"/>
<rect x="818" y="596" width="1" height="1" fill="#000"/>
<rect x="896" y="596" width="1" height="1" fill="#000"/>
<rect x="99" y="597" width="1" height="3" fill="#000"/>
<rect x="184" y="597" width="1" height="2" fill="#000"/>
<rect x="384" y="597" width="1" height="2" fill="#000"/>
<rect x="399" y="597" width="1" height="3" fill="#000"/>
<rect x="452" y="597" width="1" height="2" fill="#000"/>
<rect x="484" y="597" width="1" height="1" fill="#000"/>
<rect x="504" y="597" width="1" height="1" fill="#000"/>
<rect x="522" y="597" width="1" height="1" fill="#000"/>
<rect x="547" y="597" width="1" height="1" fill="#000"/>
<rect x="597" y="597" width="1" height="1" fill="#000"/>
<rect x="629" y="597" width="1" height="2" fill="#000"/>
<rect x="650" y="597" width="1" height="2" fill="#000"/>
<rect x="677" y="597" width="1" height="1" fill="#000"/>
<rect x="702" y="597" width="1" height="2" fill="#000"/>
<rect x="770" y="597" width="1" height="3" fill="#000"/>
<rect x="817" y="597" width="1" height="2" fill="#000"/>
<rect x="862" y="597" width="1" height="3" fill="#000"/>
<rect x="897" y="597" width="1" height="2" fill="#000"/>
<rect x="161" y="598" width="1" height="1" fill="#000"/>
<rect x="203" y="598" width="1" height="3" fill="#000"/>
<rect x="415" y="598" width="1" height="1" fill="#000"/>
<rect x="548" y="598" width="1" height="2" fill="#000"/>
<rect x="598" y="598" width="1" height="2" fill="#000"/>
<rect x="948" y="598" width="1" height="3" fill="#000"/>
<rect x="963" y="598" width="1" height="3" fill="#000"/>
<rect x="87" y="599" width="1" height="3" fill="#000"/>
<rect x="110" y="599" width="1" height="1" fill="#000"/>
<rect x="115" y="599" width="1" height="1" fill="#000"/>
<rect x="377" y="599" width="1" height="2" fill="#000"/>
<rect x="416" y="599" width="1" height="2" fill="#000"/>
<rect x="588" y="599" width="1" height="1" fill="#000"/>
<rect x="630" y="599" width="1" height="1" fill="#000"/>
<rect x="649" y="599" width="1" height="1" fill="#000"/>
<rect x="109" y="600" width="1" height="2" fill="#000"/>
<rect x="116" y="600" width="1" height="1" fill="#000"/>
<rect x="312" y="600" width="1" height="2" fill="#000"/>
<rect x="587" y="600" width="1" height="2" fill="#000"/>
<rect x="117" y="601" width="1" height="1" fill="#000"/>
<rect x="225" y="601" width="1" height="1" fill="#000"/>
<rect x="376" y="601" width="1" height="1" fill="#000"/>
<rect x="487" y="601" width="1" height="2" fill="#000"/>
<rect x="503" y="601" width="1" height="3" fill="#000"/>
<rect x="607" y="601" width="1" height="2" fill="#000"/>
<rect x="676" y="601" width="1" height="3" fill="#000"/>
<rect x="785" y="601" width="1" height="2" fill="#000"/>
<rect x="831" y="601" width="1" height="3" fill="#000"/>
<rect x="153" y="602" width="1" height="2" fill="#000"/>
<rect x="162" y="602" width="1" height="1" fill="#000"/>
<rect x="184" y="602" width="1" height="1" fill="#000"/>
<rect x="224" y="602" width="1" height="1" fill="#000"/>
<rect x="229" y="602" width="3" height="1" fill="#000"/>
<rect x="311" y="602" width="1" height="1" fill="#000"/>
<rect x="322" y="602" width="1" height="3" fill="#000"/>
<rect x="386" y="602" width="1" height="3" fill="#000"/>
<rect x="451" y="602" width="1" height="3" fill="#000"/>
<rect x="664" y="602" width="1" height="1" fill="#000"/>
<rect x="705" y="602" width="1" height="2" fill="#000"/>
<rect x="817" y="602" width="1" height="2" fill="#000"/>
<rect x="899" y="602" width="1" height="3" fill="#000"/>
<rect x="100" y="603" width="1" height="2" fill="#000"/>
<rect x="121" y="603" width="1" height="1" fill="#000"/>
<rect x="127" y="603" width="1" height="2" fill="#000"/>
<rect x="163" y="603" width="1" height="2" fill="#000"/>
<rect x="183" y="603" width="1" height="2" fill="#000"/>
<rect x="223" y="603" width="1" height="1" fill="#000"/>
<rect x="398" y="603" width="1" height="1" fill="#000"/>
<rect x="488" y="603" width="1" height="1" fill="#000"/>
<rect x="550" y="603" width="1" height="1" fill="#000"/>
<rect x="601" y="603" width="1" height="1" fill="#000"/>
<rect x="606" y="603" width="1" height="1" fill="#000"/>
<rect x="630" y="603" width="1" height="3" fill="#000"/>
<rect x="648" y="603" width="1" height="1" fill="#000"/>
<rect x="665" y="603" width="1" height="2" fill="#000"/>
<rect x="769" y="603" width="1" height="3" fill="#000"/>
<rect x="786" y="603" width="1" height="1" fill="#000"/>
<rect x="861" y="603" width="1" height="3" fill="#000"/>
<rect x="122" y="604" width="2" height="1" fill="#000"/>
<rect x="152" y="604" width="1" height="1" fill="#000"/>
<rect x="204" y="604" width="1" height="3" fill="#000"/>
<rect x="397" y="604" width="1" height="2" fill="#000"/>
<rect x="416" y="604" width="1" height="1" fill="#000"/>
<rect x="551" y="604" width="1" height="2" fill="#000"/>
<rect x="602" y="604" width="2" height="1" fill="#000"/>
<rect x="647" y="604" width="1" height="2" fill="#000"/>
<rect x="706" y="604" width="1" height="1" fill="#000"/>
<rect x="816" y="604" width="1" height="1" fill="#000"/>
<rect x="947" y="604" width="1" height="3" fill="#000"/>
<rect x="964" y="604" width="1" height="2" fill="#000"/>
<rect x="86" y="605" width="1" height="2" fill="#000"/>
<rect x="101" y="605" width="1" height="1" fill="#000"/>
<rect x="105" y="605" width="1" height="1" fill="#000"/>
<rect x="128" y="605" width="1" height="1" fill="#000"/>
<rect x="235" y="605" width="1" height="2" fill="#000"/>
<rect x="375" y="605" width="1" height="3" fill="#000"/>
<rect x="417" y="605" width="1" height="2" fill="#000"/>
<rect x="586" y="605" width="1" height="3" fill="#000"/>
<rect x="103" y="606" width="2" height="1" fill="#000"/>
<rect x="219" y="606" width="1" height="1" fill="#000"/>
<rect x="311" y="606" width="1" height="1" fill="#000"/>
<rect x="965" y="606" width="1" height="1" fill="#000"/>
<rect x="58" y="607" width="1" height="3" fill="#000"/>
<rect x="85" y="607" width="1" height="1" fill="#000"/>
<rect x="218" y="607" width="1" height="2" fill="#000"/>
<rect x="236" y="607" width="1" height="1" fill="#000"/>
<rect x="310" y="607" width="1" height="2" fill="#000"/>
<rect x="489" y="607" width="1" height="1" fill="#000"/>
<rect x="502" y="607" width="1" height="3" fill="#000"/>
<rect x="675" y="607" width="1" height="2" fill="#000"/>
<rect x="786" y="607" width="1" height="1" fill="#000"/>
<rect x="832" y="607" width="1" height="2" fill="#000"/>
<rect x="152" y="608" width="1" height="1" fill="#000"/>
<rect x="164" y="608" width="1" height="1" fill="#000"/>
<rect x="183" y="608" width="1" height="1" fill="#000"/>
<rect x="323" y="608" width="1" height="3" fill="#000"/>
<rect x="388" y="608" width="1" height="2" fill="#000"/>
<rect x="451" y="608" width="1" height="1" fill="#000"/>
<rect x="490" y="608" width="1" height="2" fill="#000"/>
<rect x="667" y="608" width="1" height="2" fill="#000"/>
<rect x="707" y="608" width="1" height="1" fill="#000"/>
<rect x="787" y="608" width="1" height="2" fill="#000"/>
<rect x="816" y="608" width="1" height="3" fill="#000"/>
<rect x="901" y="608" width="1" height="3" fill="#000"/>
<rect x="129" y="609" width="1" height="3" fill="#000"/>
<rect x="151" y="609" width="1" height="2" fill="#000"/>
<rect x="165" y="609" width="1" height="2" fill="#000"/>
<rect x="182" y="609" width="1" height="2" fill="#000"/>
<rect x="395" y="609" width="1" height="3" fill="#000"/>
<rect x="450" y="609" width="1" height="2" fill="#000"/>
<rect x="552" y="609" width="1" height="3" fill="#000"/>
<rect x="631" y="609" width="1" height="3" fill="#000"/>
<rect x="646" y="609" width="1" height="1" fill="#000"/>
<rect x="674" y="609" width="1" height="1" fill="#000"/>
<rect x="708" y="609" width="1" height="2" fill="#000"/>
<rect x="768" y="609" width="1" height="3" fill="#000"/>
<rect x="833" y="609" width="1" height="1" fill="#000"/>
<rect x="860" y="609" width="1" height="1" fill="#000"/>
<rect x="205" y="610" width="1" height="3" fill="#000"/>
<rect x="389" y="610" width="1" height="1" fill="#000"/>
<rect x="417" y="610" width="1" height="3" fill="#000"/>
<rect x="645" y="610" width="1" height="2" fill="#000"/>
<rect x="668" y="610" width="1" height="1" fill="#000"/>
<rect x="859" y="610" width="1" height="2" fill="#000"/>
<rect x="946" y="610" width="1" height="3" fill="#000"/>
<rect x="965" y="610" width="1" height="1" fill="#000"/>
<rect x="85" y="611" width="1" height="1" fill="#000"/>
<rect x="239" y="611" width="1" height="2" fill="#000"/>
<rect x="374" y="611" width="1" height="3" fill="#000"/>
<rect x="585" y="611" width="1" height="3" fill="#000"/>
<rect x="966" y="611" width="1" height="2" fill="#000"/>
<rect x="84" y="612" width="1" height="2" fill="#000"/>
<rect x="217" y="612" width="1" height="3" fill="#000"/>
<rect x="309" y="612" width="1" height="3" fill="#000"/>
<rect x="59" y="613" width="1" height="3" fill="#000"/>
<rect x="240" y="613" width="1" height="1" fill="#000"/>
<rect x="490" y="613" width="1" height="1" fill="#000"/>
<rect x="501" y="613" width="1" height="3" fill="#000"/>
<rect x="671" y="613" width="2" height="1" fill="#000"/>
<rect x="788" y="613" width="1" height="3" fill="#000"/>
<rect x="833" y="613" width="1" height="2" fill="#000"/>
<rect x="150" y="614" width="1" height="3" fill="#000"/>
<rect x="165" y="614" width="1" height="1" fill="#000"/>
<rect x="182" y="614" width="1" height="1" fill="#000"/>
<rect x="244" y="614" width="1" height="1" fill="#000"/>
<rect x="325" y="614" width="1" height="2" fill="#000"/>
<rect x="390" y="614" width="3" height="1" fill="#000"/>
<rect x="450" y="614" width="1" height="2" fill="#000"/>
<rect x="491" y="614" width="1" height="2" fill="#000"/>
<rect x="573" y="614" width="1" height="2" fill="#000"/>
<rect x="672" y="614" width="1" height="1" fill="#000"/>
<rect x="709" y="614" width="1" height="2" fill="#000"/>
<rect x="815" y="614" width="1" height="3" fill="#000"/>
<rect x="903" y="614" width="1" height="3" fill="#000"/>
<rect x="130" y="615" width="1" height="1" fill="#000"/>
<rect x="166" y="615" width="1" height="2" fill="#000"/>
<rect x="181" y="615" width="1" height="2" fill="#000"/>
<rect x="245" y="615" width="1" height="1" fill="#000"/>
<rect x="553" y="615" width="1" height="3" fill="#000"/>
<rect x="632" y="615" width="1" height="2" fill="#000"/>
<rect x="644" y="615" width="1" height="3" fill="#000"/>
<rect x="768" y="615" width="1" height="1" fill="#000"/>
<rect x="834" y="615" width="1" height="1" fill="#000"/>
<rect x="858" y="615" width="1" height="3" fill="#000"/>
<rect x="131" y="616" width="1" height="2" fill="#000"/>
<rect x="206" y="616" width="1" height="3" fill="#000"/>
<rect x="246" y="616" width="1" height="1" fill="#000"/>
<rect x="326" y="616" width="1" height="1" fill="#000"/>
<rect x="418" y="616" width="1" height="3" fill="#000"/>
<rect x="449" y="616" width="1" height="1" fill="#000"/>
<rect x="569" y="616" width="1" height="3" fill="#000"/>
<rect x="574" y="616" width="1" height="1" fill="#000"/>
<rect x="710" y="616" width="1" height="1" fill="#000"/>
<rect x="767" y="616" width="1" height="2" fill="#000"/>
<rect x="945" y="616" width="1" height="2" fill="#000"/>
<rect x="967" y="616" width="1" height="3" fill="#000"/>
<rect x="83" y="617" width="1" height="3" fill="#000"/>
<rect x="373" y="617" width="1" height="3" fill="#000"/>
<rect x="584" y="617" width="1" height="2" fill="#000"/>
<rect x="633" y="617" width="1" height="1" fill="#000"/>
<rect x="216" y="618" width="1" height="2" fill="#000"/>
<rect x="308" y="618" width="1" height="1" fill="#000"/>
<rect x="944" y="618" width="1" height="1" fill="#000"/>
<rect x="60" y="619" width="1" height="3" fill="#000"/>
<rect x="307" y="619" width="1" height="2" fill="#000"/>
<rect x="491" y="619" width="1" height="1" fill="#000"/>
<rect x="500" y="619" width="1" height="3" fill="#000"/>
<rect x="583" y="619" width="1" height="1" fill="#000"/>
<rect x="789" y="619" width="1" height="3" fill="#000"/>
<rect x="834" y="619" width="1" height="2" fill="#000"/>
<rect x="149" y="620" width="1" height="3" fill="#000"/>
<rect x="167" y="620" width="1" height="3" fill="#000"/>
<rect x="180" y="620" width="1" height="3" fill="#000"/>
<rect x="215" y="620" width="1" height="1" fill="#000"/>
<rect x="248" y="620" width="1" height="2" fill="#000"/>
<rect x="328" y="620" width="1" height="2" fill="#000"/>
<rect x="449" y="620" width="1" height="2" fill="#000"/>
<rect x="492" y="620" width="1" height="2" fill="#000"/>
<rect x="575" y="620" width="1" height="3" fill="#000"/>
<rect x="711" y="620" width="1" height="3" fill="#000"/>
<rect x="814" y="620" width="1" height="3" fill="#000"/>
<rect x="904" y="620" width="1" height="2" fill="#000"/>
<rect x="132" y="621" width="1" height="3" fill="#000"/>
<rect x="554" y="621" width="1" height="2" fill="#000"/>
<rect x="634" y="621" width="1" height="3" fill="#000"/>
<rect x="643" y="621" width="1" height="1" fill="#000"/>
<rect x="767" y="621" width="1" height="2" fill="#000"/>
<rect x="835" y="621" width="1" height="1" fill="#000"/>
<rect x="857" y="621" width="1" height="3" fill="#000"/>
<rect x="206" y="622" width="1" height="2" fill="#000"/>
<rect x="249" y="622" width="1" height="1" fill="#000"/>
<rect x="329" y="622" width="1" height="1" fill="#000"/>
<rect x="418" y="622" width="1" height="3" fill="#000"/>
<rect x="448" y="622" width="1" height="1" fill="#000"/>
<rect x="568" y="622" width="1" height="1" fill="#000"/>
<rect x="642" y="622" width="1" height="2" fill="#000"/>
<rect x="905" y="622" width="1" height="1" fill="#000"/>
<rect x="943" y="622" width="1" height="3" fill="#000"/>
<rect x="968" y="622" width="1" height="2" fill="#000"/>
<rect x="82" y="623" width="1" height="3" fill="#000"/>
<rect x="372" y="623" width="1" height="3" fill="#000"/>
<rect x="555" y="623" width="1" height="1" fill="#000"/>
<rect x="567" y="623" width="1" height="2" fill="#000"/>
<rect x="582" y="623" width="1" height="1" fill="#000"/>
<rect x="766" y="623" width="1" height="1" fill="#000"/>
<rect x="62" y="624" width="1" height="1" fill="#000"/>
<rect x="207" y="624" width="1" height="1" fill="#000"/>
<rect x="214" y="624" width="1" height="3" fill="#000"/>
<rect x="306" y="624" width="1" height="3" fill="#000"/>
<rect x="581" y="624" width="1" height="2" fill="#000"/>
<rect x="63" y="625" width="2" height="1" fill="#000"/>
<rect x="494" y="625" width="1" height="2" fill="#000"/>
<rect x="498" y="625" width="1" height="2" fill="#000"/>
<rect x="790" y="625" width="1" height="3" fill="#000"/>
<rect x="835" y="625" width="1" height="2" fill="#000"/>
<rect x="148" y="626" width="1" height="3" fill="#000"/>
<rect x="169" y="626" width="1" height="3" fill="#000"/>
<rect x="179" y="626" width="1" height="3" fill="#000"/>
<rect x="250" y="626" width="1" height="3" fill="#000"/>
<rect x="330" y="626" width="1" height="1" fill="#000"/>
<rect x="448" y="626" width="1" height="1" fill="#000"/>
<rect x="577" y="626" width="1" height="2" fill="#000"/>
<rect x="712" y="626" width="1" height="1" fill="#000"/>
<rect x="813" y="626" width="1" height="3" fill="#000"/>
<rect x="906" y="626" width="1" height="3" fill="#000"/>
<rect x="133" y="627" width="1" height="3" fill="#000"/>
<rect x="331" y="627" width="1" height="2" fill="#000"/>
<rect x="447" y="627" width="1" height="2" fill="#000"/>
<rect x="495" y="627" width="1" height="1" fill="#000"/>
<rect x="497" y="627" width="1" height="1" fill="#000"/>
<rect x="555" y="627" width="1" height="2" fill="#000"/>
<rect x="578" y="627" width="1" height="1" fill="#000"/>
<rect x="635" y="627" width="1" height="2" fill="#000"/>
<rect x="641" y="627" width="1" height="2" fill="#000"/>
<rect x="713" y="627" width="1" height="2" fill="#000"/>
<rect x="766" y="627" width="1" height="2" fill="#000"/>
<rect x="836" y="627" width="1" height="1" fill="#000"/>
<rect x="856" y="627" width="1" height="3" fill="#000"/>
<rect x="208" y="628" width="1" height="2" fill="#000"/>
<rect x="335" y="628" width="1" height="1" fill="#000"/>
<rect x="419" y="628" width="1" height="3" fill="#000"/>
<rect x="566" y="628" width="1" height="3" fill="#000"/>
<rect x="942" y="628" width="1" height="2" fill="#000"/>
<rect x="66" y="629" width="1" height="3" fill="#000"/>
<rect x="81" y="629" width="1" height="2" fill="#000"/>
<rect x="334" y="629" width="1" height="1" fill="#000"/>
<rect x="371" y="629" width="1" height="2" fill="#000"/>
<rect x="556" y="629" width="1" height="1" fill="#000"/>
<rect x="636" y="629" width="1" height="1" fill="#000"/>
<rect x="640" y="629" width="1" height="1" fill="#000"/>
<rect x="765" y="629" width="1" height="1" fill="#000"/>
<rect x="209" y="630" width="1" height="1" fill="#000"/>
<rect x="212" y="630" width="1" height="2" fill="#000"/>
<rect x="273" y="630" width="1" height="2" fill="#000"/>
<rect x="305" y="630" width="1" height="2" fill="#000"/>
<rect x="333" y="630" width="1" height="1" fill="#000"/>
<rect x="941" y="630" width="1" height="1" fill="#000"/>
<rect x="80" y="631" width="1" height="1" fill="#000"/>
<rect x="272" y="631" width="1" height="1" fill="#000"/>
<rect x="370" y="631" width="1" height="1" fill="#000"/>
<rect x="791" y="631" width="1" height="2" fill="#000"/>
<rect x="837" y="631" width="1" height="3" fill="#000"/>
<rect x="147" y="632" width="1" height="2" fill="#000"/>
<rect x="171" y="632" width="1" height="2" fill="#000"/>
<rect x="177" y="632" width="1" height="2" fill="#000"/>
<rect x="211" y="632" width="1" height="1" fill="#000"/>
<rect x="251" y="632" width="1" height="2" fill="#000"/>
<rect x="304" y="632" width="1" height="1" fill="#000"/>
<rect x="336" y="632" width="1" height="1" fill="#000"/>
<rect x="446" y="632" width="1" height="3" fill="#000"/>
<rect x="713" y="632" width="1" height="1" fill="#000"/>
<rect x="812" y="632" width="1" height="3" fill="#000"/>
<rect x="907" y="632" width="1" height="3" fill="#000"/>
<rect x="134" y="633" width="1" height="3" fill="#000"/>
<rect x="337" y="633" width="1" height="2" fill="#000"/>
<rect x="556" y="633" width="1" height="2" fill="#000"/>
<rect x="638" y="633" width="2" height="1" fill="#000"/>
<rect x="714" y="633" width="1" height="2" fill="#000"/>
<rect x="765" y="633" width="1" height="2" fill="#000"/>
<rect x="792" y="633" width="1" height="1" fill="#000"/>
<rect x="855" y="633" width="1" height="2" fill="#000"/>
<rect x="146" y="634" width="1" height="1" fill="#000"/>
<rect x="172" y="634" width="1" height="1" fill="#000"/>
<rect x="176" y="634" width="1" height="1" fill="#000"/>
<rect x="252" y="634" width="1" height="1" fill="#000"/>
<rect x="269" y="634" width="1" height="1" fill="#000"/>
<rect x="420" y="634" width="1" height="3" fill="#000"/>
<rect x="565" y="634" width="1" height="2" fill="#000"/>
<rect x="639" y="634" width="1" height="1" fill="#000"/>
<rect x="927" y="634" width="1" height="2" fill="#000"/>
<rect x="940" y="634" width="1" height="2" fill="#000"/>
<rect x="67" y="635" width="1" height="3" fill="#000"/>
<rect x="79" y="635" width="1" height="3" fill="#000"/>
<rect x="268" y="635" width="1" height="1" fill="#000"/>
<rect x="275" y="635" width="1" height="2" fill="#000"/>
<rect x="370" y="635" width="1" height="1" fill="#000"/>
<rect x="557" y="635" width="1" height="1" fill="#000"/>
<rect x="764" y="635" width="1" height="1" fill="#000"/>
<rect x="854" y="635" width="1" height="1" fill="#000"/>
<rect x="267" y="636" width="1" height="1" fill="#000"/>
<rect x="304" y="636" width="1" height="1" fill="#000"/>
<rect x="369" y="636" width="1" height="2" fill="#000"/>
<rect x="564" y="636" width="1" height="1" fill="#000"/>
<rect x="926" y="636" width="1" height="1" fill="#000"/>
<rect x="939" y="636" width="1" height="1" fill="#000"/>
<rect x="276" y="637" width="1" height="1" fill="#000"/>
<rect x="303" y="637" width="1" height="2" fill="#000"/>
<rect x="793" y="637" width="1" height="3" fill="#000"/>
<rect x="838" y="637" width="1" height="1" fill="#000"/>
<rect x="931" y="637" width="1" height="1" fill="#000"/>
<rect x="146" y="638" width="1" height="2" fill="#000"/>
<rect x="174" y="638" width="1" height="2" fill="#000"/>
<rect x="253" y="638" width="1" height="3" fill="#000"/>
<rect x="338" y="638" width="1" height="2" fill="#000"/>
<rect x="445" y="638" width="1" height="3" fill="#000"/>
<rect x="714" y="638" width="1" height="1" fill="#000"/>
<rect x="811" y="638" width="1" height="2" fill="#000"/>
<rect x="839" y="638" width="1" height="2" fill="#000"/>
<rect x="908" y="638" width="1" height="3" fill="#000"/>
<rect x="932" y="638" width="1" height="1" fill="#000"/>
<rect x="135" y="639" width="1" height="3" fill="#000"/>
<rect x="557" y="639" width="1" height="2" fill="#000"/>
<rect x="715" y="639" width="1" height="2" fill="#000"/>
<rect x="764" y="639" width="1" height="2" fill="#000"/>
<rect x="854" y="639" width="1" height="1" fill="#000"/>
<rect x="933" y="639" width="1" height="1" fill="#000"/>
<rect x="145" y="640" width="1" height="1" fill="#000"/>
<rect x="265" y="640" width="1" height="1" fill="#000"/>
<rect x="339" y="640" width="1" height="1" fill="#000"/>
<rect x="421" y="640" width="1" height="3" fill="#000"/>
<rect x="563" y="640" width="1" height="3" fill="#000"/>
<rect x="810" y="640" width="1" height="1" fill="#000"/>
<rect x="853" y="640" width="1" height="2" fill="#000"/>
<rect x="925" y="640" width="1" height="2" fill="#000"/>
<rect x="938" y="640" width="1" height="1" fill="#000"/>
<rect x="68" y="641" width="2" height="1" fill="#000"/>
<rect x="78" y="641" width="1" height="1" fill="#000"/>
<rect x="264" y="641" width="1" height="2" fill="#000"/>
<rect x="277" y="641" width="1" height="2" fill="#000"/>
<rect x="368" y="641" width="1" height="3" fill="#000"/>
<rect x="558" y="641" width="1" height="1" fill="#000"/>
<rect x="763" y="641" width="1" height="1" fill="#000"/>
<rect x="936" y="641" width="2" height="1" fill="#000"/>
<rect x="70" y="642" width="1" height="1" fill="#000"/>
<rect x="77" y="642" width="1" height="2" fill="#000"/>
<rect x="302" y="642" width="1" height="1" fill="#000"/>
<rect x="924" y="642" width="1" height="1" fill="#000"/>
<rect x="278" y="643" width="1" height="1" fill="#000"/>
<rect x="301" y="643" width="1" height="2" fill="#000"/>
<rect x="794" y="643" width="1" height="1" fill="#000"/>
<rect x="840" y="643" width="1" height="2" fill="#000"/>
<rect x="144" y="644" width="1" height="3" fill="#000"/>
<rect x="254" y="644" width="1" height="1" fill="#000"/>
<rect x="341" y="644" width="1" height="2" fill="#000"/>
<rect x="444" y="644" width="1" height="1" fill="#000"/>
<rect x="560" y="644" width="1" height="1" fill="#000"/>
<rect x="716" y="644" width="1" height="2" fill="#000"/>
<rect x="795" y="644" width="1" height="2" fill="#000"/>
<rect x="810" y="644" width="1" height="1" fill="#000"/>
<rect x="909" y="644" width="1" height="3" fill="#000"/>
<rect x="74" y="645" width="1" height="1" fill="#000"/>
<rect x="136" y="645" width="1" height="2" fill="#000"/>
<rect x="255" y="645" width="1" height="2" fill="#000"/>
<rect x="443" y="645" width="1" height="2" fill="#000"/>
<rect x="561" y="645" width="1" height="1" fill="#000"/>
<rect x="762" y="645" width="1" height="3" fill="#000"/>
<rect x="809" y="645" width="1" height="2" fill="#000"/>
<rect x="841" y="645" width="1" height="1" fill="#000"/>
<rect x="852" y="645" width="1" height="3" fill="#000"/>
<rect x="75" y="646" width="1" height="1" fill="#000"/>
<rect x="262" y="646" width="1" height="1" fill="#000"/>
<rect x="342" y="646" width="1" height="1" fill="#000"/>
<rect x="422" y="646" width="1" height="3" fill="#000"/>
<rect x="562" y="646" width="1" height="1" fill="#000"/>
<rect x="717" y="646" width="1" height="1" fill="#000"/>
<rect x="923" y="646" width="1" height="2" fill="#000"/>
<rect x="76" y="647" width="1" height="1" fill="#000"/>
<rect x="137" y="647" width="1" height="1" fill="#000"/>
<rect x="261" y="647" width="1" height="2" fill="#000"/>
<rect x="279" y="647" width="1" height="3" fill="#000"/>
<rect x="367" y="647" width="1" height="3" fill="#000"/>
<rect x="299" y="648" width="1" height="1" fill="#000"/>
<rect x="922" y="648" width="1" height="1" fill="#000"/>
<rect x="298" y="649" width="1" height="2" fill="#000"/>
<rect x="796" y="649" width="1" height="1" fill="#000"/>
<rect x="842" y="649" width="1" height="3" fill="#000"/>
<rect x="143" y="650" width="1" height="1" fill="#000"/>
<rect x="258" y="650" width="1" height="2" fill="#000"/>
<rect x="344" y="650" width="1" height="3" fill="#000"/>
<rect x="442" y="650" width="1" height="2" fill="#000"/>
<rect x="718" y="650" width="1" height="2" fill="#000"/>
<rect x="797" y="650" width="1" height="2" fill="#000"/>
<rect x="808" y="650" width="1" height="3" fill="#000"/>
<rect x="910" y="650" width="1" height="2" fill="#000"/>
<rect x="138" y="651" width="1" height="3" fill="#000"/>
<rect x="142" y="651" width="1" height="2" fill="#000"/>
<rect x="761" y="651" width="1" height="1" fill="#000"/>
<rect x="851" y="651" width="1" height="3" fill="#000"/>
<rect x="259" y="652" width="1" height="1" fill="#000"/>
<rect x="423" y="652" width="1" height="2" fill="#000"/>
<rect x="441" y="652" width="1" height="1" fill="#000"/>
<rect x="719" y="652" width="1" height="1" fill="#000"/>
<rect x="760" y="652" width="1" height="2" fill="#000"/>
<rect x="911" y="652" width="1" height="1" fill="#000"/>
<rect x="921" y="652" width="1" height="2" fill="#000"/>
<rect x="280" y="653" width="1" height="1" fill="#000"/>
<rect x="366" y="653" width="1" height="1" fill="#000"/>
<rect x="281" y="654" width="1" height="2" fill="#000"/>
<rect x="296" y="654" width="1" height="1" fill="#000"/>
<rect x="365" y="654" width="1" height="2" fill="#000"/>
<rect x="424" y="654" width="1" height="1" fill="#000"/>
<rect x="845" y="654" width="1" height="1" fill="#000"/>
<rect x="920" y="654" width="1" height="1" fill="#000"/>
<rect x="295" y="655" width="1" height="1" fill="#000"/>
<rect x="799" y="655" width="1" height="1" fill="#000"/>
<rect x="846" y="655" width="1" height="1" fill="#000"/>
<rect x="294" y="656" width="1" height="1" fill="#000"/>
<rect x="345" y="656" width="1" height="2" fill="#000"/>
<rect x="440" y="656" width="1" height="1" fill="#000"/>
<rect x="720" y="656" width="1" height="1" fill="#000"/>
<rect x="747" y="656" width="1" height="1" fill="#000"/>
<rect x="800" y="656" width="1" height="1" fill="#000"/>
<rect x="807" y="656" width="1" height="1" fill="#000"/>
<rect x="847" y="656" width="1" height="1" fill="#000"/>
<rect x="912" y="656" width="1" height="2" fill="#000"/>
<rect x="439" y="657" width="1" height="2" fill="#000"/>
<rect x="721" y="657" width="1" height="2" fill="#000"/>
<rect x="742" y="657" width="2" height="1" fill="#000"/>
<rect x="748" y="657" width="2" height="1" fill="#000"/>
<rect x="759" y="657" width="1" height="1" fill="#000"/>
<rect x="801" y="657" width="1" height="1" fill="#000"/>
<rect x="805" y="657" width="2" height="1" fill="#000"/>
<rect x="346" y="658" width="1" height="1" fill="#000"/>
<rect x="425" y="658" width="1" height="1" fill="#000"/>
<rect x="741" y="658" width="1" height="1" fill="#000"/>
<rect x="758" y="658" width="1" height="2" fill="#000"/>
<rect x="913" y="658" width="1" height="1" fill="#000"/>
<rect x="919" y="658" width="1" height="1" fill="#000"/>
<rect x="283" y="659" width="1" height="1" fill="#000"/>
<rect x="363" y="659" width="1" height="1" fill="#000"/>
<rect x="426" y="659" width="1" height="2" fill="#000"/>
<rect x="918" y="659" width="1" height="2" fill="#000"/>
<rect x="284" y="660" width="1" height="2" fill="#000"/>
<rect x="289" y="660" width="2" height="1" fill="#000"/>
<rect x="362" y="660" width="1" height="1" fill="#000"/>
<rect x="753" y="660" width="2" height="1" fill="#000"/>
<rect x="288" y="661" width="1" height="1" fill="#000"/>
<rect x="361" y="661" width="1" height="1" fill="#000"/>
<rect x="436" y="661" width="1" height="1" fill="#000"/>
<rect x="755" y="661" width="1" height="1" fill="#000"/>
<rect x="349" y="662" width="1" height="1" fill="#000"/>
<rect x="429" y="662" width="2" height="1" fill="#000"/>
<rect x="434" y="662" width="2" height="1" fill="#000"/>
<rect x="724" y="662" width="2" height="1" fill="#000"/>
<rect x="738" y="662" width="1" height="1" fill="#000"/>
<rect x="915" y="662" width="1" height="2" fill="#000"/>
<rect x="350" y="663" width="2" height="1" fill="#000"/>
<rect x="428" y="663" width="1" height="1" fill="#000"/>
<rect x="726" y="663" width="1" height="1" fill="#000"/>
<rect x="737" y="663" width="1" height="1" fill="#000"/>
<rect x="356" y="664" width="2" height="1" fill="#000"/>
<rect x="736" y="664" width="1" height="1" fill="#000"/>
<rect x="916" y="664" width="1" height="1" fill="#000"/>
<rect x="355" y="665" width="1" height="1" fill="#000"/>
<rect x="730" y="666" width="3" height="1" fill="#000"/>
<rect x="875" y="567" width="3" height="1" fill="#288a8a"/>
<rect x="872" y="568" width="3" height="1" fill="#288a8a"/>
<rect x="878" y="568" width="2" height="1" fill="#288a8a"/>
<rect x="868" y="569" width="4" height="1" fill="#288a8a"/>
<rect x="880" y="569" width="1" height="1" fill="#288a8a"/>
<rect x="818" y="570" width="1" height="3" fill="#288a8a"/>
<rect x="865" y="570" width="3" height="1" fill="#288a8a"/>
<rect x="881" y="570" width="1" height="2" fill="#288a8a"/>
<rect x="196" y="571" width="1" height="4" fill="#288a8a"/>
<rect x="770" y="571" width="1" height="4" fill="#288a8a"/>
<rect x="865" y="571" width="1" height="1" fill="#288a8a"/>
<rect x="195" y="572" width="1" height="2" fill="#288a8a"/>
<rect x="679" y="572" width="1" height="3" fill="#288a8a"/>
<rect x="771" y="572" width="1" height="1" fill="#288a8a"/>
<rect x="819" y="572" width="1" height="2" fill="#288a8a"/>
<rect x="864" y="572" width="1" height="4" fill="#288a8a"/>
<rect x="882" y="572" width="1" height="2" fill="#288a8a"/>
<rect x="619" y="573" width="2" height="1" fill="#288a8a"/>
<rect x="772" y="573" width="1" height="2" fill="#288a8a"/>
<rect x="817" y="573" width="1" height="5" fill="#288a8a"/>
<rect x="194" y="574" width="1" height="2" fill="#288a8a"/>
<rect x="507" y="574" width="1" height="1" fill="#288a8a"/>
<rect x="529" y="574" width="1" height="1" fill="#288a8a"/>
<rect x="616" y="574" width="3" height="1" fill="#288a8a"/>
<rect x="620" y="574" width="1" height="1" fill="#288a8a"/>
<rect x="680" y="574" width="1" height="3" fill="#288a8a"/>
<rect x="820" y="574" width="1" height="2" fill="#288a8a"/>
<rect x="883" y="574" width="1" height="2" fill="#288a8a"/>
<rect x="197" y="575" width="1" height="7" fill="#288a8a"/>
<rect x="506" y="575" width="1" height="2" fill="#288a8a"/>
<rect x="508" y="575" width="1" height="1" fill="#288a8a"/>
<rect x="528" y="575" width="1" height="1" fill="#288a8a"/>
<rect x="530" y="575" width="1" height="1" fill="#288a8a"/>
<rect x="613" y="575" width="3" height="1" fill="#288a8a"/>
<rect x="621" y="575" width="1" height="2" fill="#288a8a"/>
<rect x="678" y="575" width="1" height="4" fill="#288a8a"/>
<rect x="769" y="575" width="1" height="8" fill="#288a8a"/>
<rect x="773" y="575" width="1" height="1" fill="#288a8a"/>
<rect x="949" y="575" width="1" height="4" fill="#288a8a"/>
<rect x="950" y="575" width="2" height="1" fill="#288a8a"/>
<rect x="193" y="576" width="1" height="1" fill="#288a8a"/>
<rect x="456" y="576" width="1" height="1" fill="#288a8a"/>
<rect x="509" y="576" width="1" height="1" fill="#288a8a"/>
<rect x="527" y="576" width="1" height="2" fill="#288a8a"/>
<rect x="531" y="576" width="1" height="2" fill="#288a8a"/>
<rect x="611" y="576" width="2" height="1" fill="#288a8a"/>
<rect x="774" y="576" width="1" height="1" fill="#288a8a"/>
<rect x="821" y="576" width="1" height="1" fill="#288a8a"/>
<rect x="863" y="576" width="1" height="4" fill="#288a8a"/>
<rect x="884" y="576" width="1" height="2" fill="#288a8a"/>
<rect x="952" y="576" width="2" height="1" fill="#288a8a"/>
<rect x="192" y="577" width="1" height="1" fill="#288a8a"/>
<rect x="455" y="577" width="1" height="1" fill="#288a8a"/>
<rect x="457" y="577" width="1" height="2" fill="#288a8a"/>
<rect x="505" y="577" width="1" height="2" fill="#288a8a"/>
<rect x="510" y="577" width="1" height="1" fill="#288a8a"/>
<rect x="609" y="577" width="1" height="4" fill="#288a8a"/>
<rect x="610" y="577" width="1" height="1" fill="#288a8a"/>
<rect x="622" y="577" width="1" height="3" fill="#288a8a"/>
<rect x="681" y="577" width="1" height="2" fill="#288a8a"/>
<rect x="775" y="577" width="1" height="1" fill="#288a8a"/>
<rect x="822" y="577" width="1" height="2" fill="#288a8a"/>
<rect x="954" y="577" width="1" height="2" fill="#288a8a"/>
<rect x="190" y="578" width="2" height="1" fill="#288a8a"/>
<rect x="408" y="578" width="1" height="2" fill="#288a8a"/>
<rect x="453" y="578" width="2" height="1" fill="#288a8a"/>
<rect x="463" y="578" width="5" height="1" fill="#288a8a"/>
<rect x="511" y="578" width="1" height="3" fill="#288a8a"/>
<rect x="526" y="578" width="1" height="1" fill="#288a8a"/>
<rect x="532" y="578" width="1" height="1" fill="#288a8a"/>
<rect x="776" y="578" width="1" height="2" fill="#288a8a"/>
<rect x="816" y="578" width="1" height="6" fill="#288a8a"/>
<rect x="885" y="578" width="1" height="4" fill="#288a8a"/>
<rect x="90" y="579" width="1" height="3" fill="#288a8a"/>
<rect x="189" y="579" width="1" height="1" fill="#288a8a"/>
<rect x="407" y="579" width="1" height="1" fill="#288a8a"/>
<rect x="452" y="579" width="1" height="3" fill="#288a8a"/>
<rect x="458" y="579" width="1" height="2" fill="#288a8a"/>
<rect x="462" y="579" width="1" height="2" fill="#288a8a"/>
<rect x="468" y="579" width="1" height="1" fill="#288a8a"/>
<rect x="504" y="579" width="1" height="2" fill="#288a8a"/>
<rect x="525" y="579" width="1" height="4" fill="#288a8a"/>
<rect x="533" y="579" width="1" height="2" fill="#288a8a"/>
<rect x="677" y="579" width="1" height="4" fill="#288a8a"/>
<rect x="682" y="579" width="1" height="3" fill="#288a8a"/>
<rect x="823" y="579" width="1" height="1" fill="#288a8a"/>
<rect x="948" y="579" width="1" height="7" fill="#288a8a"/>
<rect x="955" y="579" width="1" height="2" fill="#288a8a"/>
<rect x="89" y="580" width="1" height="2" fill="#288a8a"/>
<rect x="188" y="580" width="1" height="2" fill="#288a8a"/>
<rect x="406" y="580" width="1" height="2" fill="#288a8a"/>
<rect x="409" y="580" width="1" height="4" fill="#288a8a"/>
<rect x="469" y="580" width="1" height="1" fill="#288a8a"/>
<rect x="623" y="580" width="1" height="2" fill="#288a8a"/>
<rect x="777" y="580" width="1" height="1" fill="#288a8a"/>
<rect x="824" y="580" width="1" height="2" fill="#288a8a"/>
<rect x="862" y="580" width="1" height="4" fill="#288a8a"/>
<rect x="459" y="581" width="1" height="2" fill="#288a8a"/>
<rect x="461" y="581" width="1" height="2" fill="#288a8a"/>
<rect x="470" y="581" width="1" height="1" fill="#288a8a"/>
<rect x="503" y="581" width="1" height="4" fill="#288a8a"/>
<rect x="512" y="581" width="1" height="5" fill="#288a8a"/>
<rect x="534" y="581" width="1" height="4" fill="#288a8a"/>
<rect x="608" y="581" width="1" height="6" fill="#288a8a"/>
<rect x="653" y="581" width="1" height="2" fill="#288a8a"/>
<rect x="778" y="581" width="1" height="4" fill="#288a8a"/>
<rect x="956" y="581" width="1" height="2" fill="#288a8a"/>
<rect x="88" y="582" width="1" height="2" fill="#288a8a"/>
<rect x="91" y="582" width="1" height="5" fill="#288a8a"/>
<rect x="182" y="582" width="1" height="5" fill="#288a8a"/>
<rect x="187" y="582" width="1" height="2" fill="#288a8a"/>
<rect x="198" y="582" width="1" height="6" fill="#288a8a"/>
<rect x="401" y="582" width="5" height="1" fill="#288a8a"/>
<rect x="451" y="582" width="1" height="5" fill="#288a8a"/>
<rect x="471" y="582" width="1" height="2" fill="#288a8a"/>
<rect x="588" y="582" width="1" height="2" fill="#288a8a"/>
<rect x="624" y="582" width="1" height="4" fill="#288a8a"/>
<rect x="683" y="582" width="1" height="3" fill="#288a8a"/>
<rect x="825" y="582" width="1" height="4" fill="#288a8a"/>
<rect x="886" y="582" width="1" height="3" fill="#288a8a"/>
<rect x="183" y="583" width="1" height="2" fill="#288a8a"/>
<rect x="400" y="583" width="1" height="2" fill="#288a8a"/>
<rect x="460" y="583" width="1" height="1" fill="#288a8a"/>
<rect x="524" y="583" width="1" height="7" fill="#288a8a"/>
<rect x="652" y="583" width="1" height="2" fill="#288a8a"/>
<rect x="654" y="583" width="1" height="2" fill="#288a8a"/>
<rect x="676" y="583" width="1" height="4" fill="#288a8a"/>
<rect x="768" y="583" width="1" height="8" fill="#288a8a"/>
<rect x="957" y="583" width="1" height="4" fill="#288a8a"/>
<rect x="87" y="584" width="1" height="2" fill="#288a8a"/>
<rect x="186" y="584" width="1" height="2" fill="#288a8a"/>
<rect x="410" y="584" width="1" height="3" fill="#288a8a"/>
<rect x="472" y="584" width="1" height="3" fill="#288a8a"/>
<rect x="587" y="584" width="1" height="3" fill="#288a8a"/>
<rect x="589" y="584" width="1" height="2" fill="#288a8a"/>
<rect x="815" y="584" width="1" height="5" fill="#288a8a"/>
<rect x="861" y="584" width="1" height="4" fill="#288a8a"/>
<rect x="184" y="585" width="1" height="1" fill="#288a8a"/>
<rect x="313" y="585" width="1" height="2" fill="#288a8a"/>
<rect x="399" y="585" width="1" height="2" fill="#288a8a"/>
<rect x="502" y="585" width="1" height="7" fill="#288a8a"/>
<rect x="535" y="585" width="1" height="3" fill="#288a8a"/>
<rect x="651" y="585" width="1" height="3" fill="#288a8a"/>
<rect x="655" y="585" width="1" height="2" fill="#288a8a"/>
<rect x="684" y="585" width="1" height="4" fill="#288a8a"/>
<rect x="779" y="585" width="1" height="7" fill="#288a8a"/>
<rect x="887" y="585" width="1" height="2" fill="#288a8a"/>
<rect x="86" y="586" width="1" height="2" fill="#288a8a"/>
<rect x="185" y="586" width="1" height="1" fill="#288a8a"/>
<rect x="312" y="586" width="1" height="2" fill="#288a8a"/>
<rect x="513" y="586" width="1" height="4" fill="#288a8a"/>
<rect x="590" y="586" width="1" height="2" fill="#288a8a"/>
<rect x="625" y="586" width="1" height="6" fill="#288a8a"/>
<rect x="826" y="586" width="1" height="6" fill="#288a8a"/>
<rect x="947" y="586" width="1" height="7" fill="#288a8a"/>
<rect x="92" y="587" width="1" height="4" fill="#288a8a"/>
<rect x="153" y="587" width="1" height="1" fill="#288a8a"/>
<rect x="181" y="587" width="1" height="8" fill="#288a8a"/>
<rect x="314" y="587" width="1" height="2" fill="#288a8a"/>
<rect x="376" y="587" width="1" height="2" fill="#288a8a"/>
<rect x="398" y="587" width="1" height="2" fill="#288a8a"/>
<rect x="411" y="587" width="1" height="4" fill="#288a8a"/>
<rect x="450" y="587" width="1" height="5" fill="#288a8a"/>
<rect x="473" y="587" width="1" height="2" fill="#288a8a"/>
<rect x="482" y="587" width="1" height="4" fill="#288a8a"/>
<rect x="586" y="587" width="1" height="3" fill="#288a8a"/>
<rect x="607" y="587" width="1" height="7" fill="#288a8a"/>
<rect x="656" y="587" width="1" height="2" fill="#288a8a"/>
<rect x="675" y="587" width="1" height="6" fill="#288a8a"/>
<rect x="888" y="587" width="1" height="2" fill="#288a8a"/>
<rect x="958" y="587" width="1" height="7" fill="#288a8a"/>
<rect x="85" y="588" width="1" height="2" fill="#288a8a"/>
<rect x="152" y="588" width="1" height="2" fill="#288a8a"/>
<rect x="154" y="588" width="1" height="2" fill="#288a8a"/>
<rect x="199" y="588" width="1" height="7" fill="#288a8a"/>
<rect x="311" y="588" width="1" height="2" fill="#288a8a"/>
<rect x="536" y="588" width="1" height="2" fill="#288a8a"/>
<rect x="591" y="588" width="1" height="3" fill="#288a8a"/>
<rect x="650" y="588" width="1" height="2" fill="#288a8a"/>
<rect x="860" y="588" width="1" height="4" fill="#288a8a"/>
<rect x="315" y="589" width="1" height="3" fill="#288a8a"/>
<rect x="375" y="589" width="1" height="3" fill="#288a8a"/>
<rect x="377" y="589" width="1" height="3" fill="#288a8a"/>
<rect x="397" y="589" width="1" height="3" fill="#288a8a"/>
<rect x="474" y="589" width="1" height="3" fill="#288a8a"/>
<rect x="657" y="589" width="1" height="2" fill="#288a8a"/>
<rect x="685" y="589" width="1" height="4" fill="#288a8a"/>
<rect x="814" y="589" width="1" height="6" fill="#288a8a"/>
<rect x="889" y="589" width="1" height="1" fill="#288a8a"/>
<rect x="84" y="590" width="1" height="2" fill="#288a8a"/>
<rect x="151" y="590" width="1" height="2" fill="#288a8a"/>
<rect x="155" y="590" width="1" height="1" fill="#288a8a"/>
<rect x="310" y="590" width="1" height="4" fill="#288a8a"/>
<rect x="481" y="590" width="1" height="4" fill="#288a8a"/>
<rect x="514" y="590" width="1" height="3" fill="#288a8a"/>
<rect x="523" y="590" width="1" height="7" fill="#288a8a"/>
<rect x="537" y="590" width="1" height="2" fill="#288a8a"/>
<rect x="585" y="590" width="1" height="3" fill="#288a8a"/>
<rect x="649" y="590" width="1" height="2" fill="#288a8a"/>
<rect x="690" y="590" width="1" height="1" fill="#288a8a"/>
<rect x="890" y="590" width="1" height="2" fill="#288a8a"/>
<rect x="93" y="591" width="1" height="5" fill="#288a8a"/>
<rect x="156" y="591" width="1" height="3" fill="#288a8a"/>
<rect x="412" y="591" width="1" height="6" fill="#288a8a"/>
<rect x="483" y="591" width="1" height="6" fill="#288a8a"/>
<rect x="592" y="591" width="1" height="2" fill="#288a8a"/>
<rect x="658" y="591" width="1" height="3" fill="#288a8a"/>
<rect x="689" y="591" width="1" height="1" fill="#288a8a"/>
<rect x="691" y="591" width="2" height="1" fill="#288a8a"/>
<rect x="767" y="591" width="1" height="7" fill="#288a8a"/>
<rect x="83" y="592" width="1" height="4" fill="#288a8a"/>
<rect x="105" y="592" width="1" height="3" fill="#288a8a"/>
<rect x="106" y="592" width="1" height="1" fill="#288a8a"/>
<rect x="150" y="592" width="1" height="2" fill="#288a8a"/>
<rect x="316" y="592" width="1" height="2" fill="#288a8a"/>
<rect x="374" y="592" width="1" height="4" fill="#288a8a"/>
<rect x="378" y="592" width="1" height="2" fill="#288a8a"/>
<rect x="396" y="592" width="1" height="3" fill="#288a8a"/>
<rect x="449" y="592" width="1" height="6" fill="#288a8a"/>
<rect x="475" y="592" width="1" height="4" fill="#288a8a"/>
<rect x="501" y="592" width="1" height="7" fill="#288a8a"/>
<rect x="538" y="592" width="1" height="1" fill="#288a8a"/>
<rect x="544" y="592" width="1" height="2" fill="#288a8a"/>
<rect x="626" y="592" width="1" height="6" fill="#288a8a"/>
<rect x="648" y="592" width="1" height="2" fill="#288a8a"/>
<rect x="688" y="592" width="1" height="1" fill="#288a8a"/>
<rect x="693" y="592" width="1" height="1" fill="#288a8a"/>
<rect x="780" y="592" width="1" height="6" fill="#288a8a"/>
<rect x="827" y="592" width="1" height="6" fill="#288a8a"/>
<rect x="859" y="592" width="1" height="4" fill="#288a8a"/>
<rect x="891" y="592" width="1" height="2" fill="#288a8a"/>
<rect x="107" y="593" width="2" height="1" fill="#288a8a"/>
<rect x="515" y="593" width="1" height="2" fill="#288a8a"/>
<rect x="539" y="593" width="1" height="2" fill="#288a8a"/>
<rect x="543" y="593" width="1" height="1" fill="#288a8a"/>
<rect x="584" y="593" width="1" height="4" fill="#288a8a"/>
<rect x="593" y="593" width="1" height="2" fill="#288a8a"/>
<rect x="674" y="593" width="1" height="7" fill="#288a8a"/>
<rect x="686" y="593" width="2" height="1" fill="#288a8a"/>
<rect x="694" y="593" width="2" height="1" fill="#288a8a"/>
<rect x="946" y="593" width="1" height="5" fill="#288a8a"/>
<rect x="109" y="594" width="1" height="1" fill="#288a8a"/>
<rect x="149" y="594" width="1" height="5" fill="#288a8a"/>
<rect x="157" y="594" width="1" height="4" fill="#288a8a"/>
<rect x="309" y="594" width="1" height="4" fill="#288a8a"/>
<rect x="317" y="594" width="1" height="3" fill="#288a8a"/>
<rect x="379" y="594" width="1" height="3" fill="#288a8a"/>
<rect x="480" y="594" width="1" height="4" fill="#288a8a"/>
<rect x="541" y="594" width="2" height="1" fill="#288a8a"/>
<rect x="545" y="594" width="1" height="3" fill="#288a8a"/>
<rect x="606" y="594" width="1" height="4" fill="#288a8a"/>
<rect x="647" y="594" width="1" height="2" fill="#288a8a"/>
<rect x="659" y="594" width="1" height="3" fill="#288a8a"/>
<rect x="686" y="594" width="1" height="1" fill="#288a8a"/>
<rect x="696" y="594" width="2" height="1" fill="#288a8a"/>
<rect x="892" y="594" width="1" height="2" fill="#288a8a"/>
<rect x="959" y="594" width="1" height="7" fill="#288a8a"/>
<rect x="104" y="595" width="1" height="6" fill="#288a8a"/>
<rect x="110" y="595" width="1" height="2" fill="#288a8a"/>
<rect x="180" y="595" width="1" height="8" fill="#288a8a"/>
<rect x="200" y="595" width="1" height="9" fill="#288a8a"/>
<rect x="395" y="595" width="1" height="4" fill="#288a8a"/>
<rect x="516" y="595" width="1" height="1" fill="#288a8a"/>
<rect x="540" y="595" width="1" height="1" fill="#288a8a"/>
<rect x="594" y="595" width="1" height="2" fill="#288a8a"/>
<rect x="698" y="595" width="1" height="2" fill="#288a8a"/>
<rect x="813" y="595" width="1" height="7" fill="#288a8a"/>
<rect x="82" y="596" width="1" height="7" fill="#288a8a"/>
<rect x="94" y="596" width="1" height="4" fill="#288a8a"/>
<rect x="373" y="596" width="1" height="3" fill="#288a8a"/>
<rect x="476" y="596" width="1" height="3" fill="#288a8a"/>
<rect x="517" y="596" width="1" height="2" fill="#288a8a"/>
<rect x="646" y="596" width="1" height="2" fill="#288a8a"/>
<rect x="858" y="596" width="1" height="4" fill="#288a8a"/>
<rect x="893" y="596" width="1" height="2" fill="#288a8a"/>
<rect x="111" y="597" width="1" height="1" fill="#288a8a"/>
<rect x="226" y="597" width="1" height="2" fill="#288a8a"/>
<rect x="318" y="597" width="1" height="3" fill="#288a8a"/>
<rect x="380" y="597" width="1" height="2" fill="#288a8a"/>
<rect x="413" y="597" width="1" height="10" fill="#288a8a"/>
<rect x="484" y="597" width="1" height="6" fill="#288a8a"/>
<rect x="522" y="597" width="1" height="4" fill="#288a8a"/>
<rect x="546" y="597" width="1" height="3" fill="#288a8a"/>
<rect x="583" y="597" width="1" height="6" fill="#288a8a"/>
<rect x="595" y="597" width="1" height="4" fill="#288a8a"/>
<rect x="660" y="597" width="1" height="3" fill="#288a8a"/>
<rect x="699" y="597" width="1" height="1" fill="#288a8a"/>
<rect x="112" y="598" width="1" height="2" fill="#288a8a"/>
<rect x="158" y="598" width="1" height="5" fill="#288a8a"/>
<rect x="218" y="598" width="1" height="2" fill="#288a8a"/>
<rect x="227" y="598" width="1" height="2" fill="#288a8a"/>
<rect x="308" y="598" width="1" height="5" fill="#288a8a"/>
<rect x="448" y="598" width="1" height="7" fill="#288a8a"/>
<rect x="479" y="598" width="1" height="4" fill="#288a8a"/>
<rect x="518" y="598" width="2" height="1" fill="#288a8a"/>
<rect x="605" y="598" width="1" height="2" fill="#288a8a"/>
<rect x="627" y="598" width="1" height="6" fill="#288a8a"/>
<rect x="645" y="598" width="1" height="2" fill="#288a8a"/>
<rect x="700" y="598" width="1" height="2" fill="#288a8a"/>
<rect x="766" y="598" width="1" height="6" fill="#288a8a"/>
<rect x="781" y="598" width="1" height="6" fill="#288a8a"/>
<rect x="828" y="598" width="1" height="6" fill="#288a8a"/>
<rect x="894" y="598" width="1" height="2" fill="#288a8a"/>
<rect x="945" y="598" width="1" height="4" fill="#288a8a"/>
<rect x="123" y="599" width="1" height="2" fill="#288a8a"/>
<rect x="148" y="599" width="1" height="7" fill="#288a8a"/>
<rect x="225" y="599" width="1" height="2" fill="#288a8a"/>
<rect x="372" y="599" width="1" height="4" fill="#288a8a"/>
<rect x="381" y="599" width="1" height="2" fill="#288a8a"/>
<rect x="394" y="599" width="1" height="5" fill="#288a8a"/>
<rect x="477" y="599" width="1" height="4" fill="#288a8a"/>
<rect x="500" y="599" width="1" height="7" fill="#288a8a"/>
<rect x="520" y="599" width="2" height="1" fill="#288a8a"/>
<rect x="95" y="600" width="1" height="2" fill="#288a8a"/>
<rect x="113" y="600" width="1" height="2" fill="#288a8a"/>
<rect x="122" y="600" width="1" height="1" fill="#288a8a"/>
<rect x="217" y="600" width="1" height="3" fill="#288a8a"/>
<rect x="219" y="600" width="1" height="2" fill="#288a8a"/>
<rect x="228" y="600" width="1" height="2" fill="#288a8a"/>
<rect x="319" y="600" width="1" height="4" fill="#288a8a"/>
<rect x="547" y="600" width="1" height="4" fill="#288a8a"/>
<rect x="604" y="600" width="1" height="1" fill="#288a8a"/>
<rect x="644" y="600" width="1" height="2" fill="#288a8a"/>
<rect x="661" y="600" width="1" height="3" fill="#288a8a"/>
<rect x="673" y="600" width="1" height="8" fill="#288a8a"/>
<rect x="701" y="600" width="1" height="2" fill="#288a8a"/>
<rect x="857" y="600" width="1" height="4" fill="#288a8a"/>
<rect x="895" y="600" width="1" height="2" fill="#288a8a"/>
<rect x="103" y="601" width="1" height="6" fill="#288a8a"/>
<rect x="121" y="601" width="1" height="2" fill="#288a8a"/>
<rect x="124" y="601" width="1" height="2" fill="#288a8a"/>
<rect x="224" y="601" width="1" height="2" fill="#288a8a"/>
<rect x="382" y="601" width="1" height="2" fill="#288a8a"/>
<rect x="596" y="601" width="1" height="4" fill="#288a8a"/>
<rect x="603" y="601" width="1" height="2" fill="#288a8a"/>
<rect x="960" y="601" width="1" height="6" fill="#288a8a"/>
<rect x="96" y="602" width="1" height="2" fill="#288a8a"/>
<rect x="114" y="602" width="1" height="3" fill="#288a8a"/>
<rect x="220" y="602" width="1" height="2" fill="#288a8a"/>
<rect x="229" y="602" width="1" height="2" fill="#288a8a"/>
<rect x="478" y="602" width="1" height="3" fill="#288a8a"/>
<rect x="643" y="602" width="1" height="2" fill="#288a8a"/>
<rect x="702" y="602" width="1" height="2" fill="#288a8a"/>
<rect x="812" y="602" width="1" height="7" fill="#288a8a"/>
<rect x="896" y="602" width="1" height="2" fill="#288a8a"/>
<rect x="944" y="602" width="1" height="4" fill="#288a8a"/>
<rect x="81" y="603" width="1" height="8" fill="#288a8a"/>
<rect x="120" y="603" width="1" height="1" fill="#288a8a"/>
<rect x="125" y="603" width="1" height="2" fill="#288a8a"/>
<rect x="159" y="603" width="1" height="4" fill="#288a8a"/>
<rect x="179" y="603" width="1" height="8" fill="#288a8a"/>
<rect x="216" y="603" width="1" height="3" fill="#288a8a"/>
<rect x="223" y="603" width="1" height="2" fill="#288a8a"/>
<rect x="307" y="603" width="1" height="4" fill="#288a8a"/>
<rect x="371" y="603" width="1" height="5" fill="#288a8a"/>
<rect x="383" y="603" width="1" height="2" fill="#288a8a"/>
<rect x="485" y="603" width="1" height="5" fill="#288a8a"/>
<rect x="566" y="603" width="1" height="4" fill="#288a8a"/>
<rect x="582" y="603" width="1" height="5" fill="#288a8a"/>
<rect x="602" y="603" width="1" height="1" fill="#288a8a"/>
<rect x="662" y="603" width="1" height="4" fill="#288a8a"/>
<rect x="97" y="604" width="1" height="2" fill="#288a8a"/>
<rect x="119" y="604" width="1" height="1" fill="#288a8a"/>
<rect x="201" y="604" width="1" height="11" fill="#288a8a"/>
<rect x="221" y="604" width="1" height="2" fill="#288a8a"/>
<rect x="230" y="604" width="1" height="2" fill="#288a8a"/>
<rect x="320" y="604" width="1" height="3" fill="#288a8a"/>
<rect x="393" y="604" width="1" height="6" fill="#288a8a"/>
<rect x="548" y="604" width="1" height="4" fill="#288a8a"/>
<rect x="601" y="604" width="1" height="2" fill="#288a8a"/>
<rect x="628" y="604" width="1" height="8" fill="#288a8a"/>
<rect x="642" y="604" width="1" height="3" fill="#288a8a"/>
<rect x="703" y="604" width="1" height="2" fill="#288a8a"/>
<rect x="765" y="604" width="1" height="6" fill="#288a8a"/>
<rect x="782" y="604" width="1" height="4" fill="#288a8a"/>
<rect x="829" y="604" width="1" height="7" fill="#288a8a"/>
<rect x="856" y="604" width="1" height="5" fill="#288a8a"/>
<rect x="897" y="604" width="1" height="2" fill="#288a8a"/>
<rect x="115" y="605" width="1" height="2" fill="#288a8a"/>
<rect x="118" y="605" width="1" height="2" fill="#288a8a"/>
<rect x="126" y="605" width="1" height="2" fill="#288a8a"/>
<rect x="222" y="605" width="1" height="2" fill="#288a8a"/>
<rect x="384" y="605" width="1" height="4" fill="#288a8a"/>
<rect x="447" y="605" width="1" height="7" fill="#288a8a"/>
<rect x="597" y="605" width="1" height="4" fill="#288a8a"/>
<rect x="98" y="606" width="1" height="2" fill="#288a8a"/>
<rect x="147" y="606" width="1" height="7" fill="#288a8a"/>
<rect x="215" y="606" width="1" height="2" fill="#288a8a"/>
<rect x="231" y="606" width="1" height="2" fill="#288a8a"/>
<rect x="499" y="606" width="1" height="6" fill="#288a8a"/>
<rect x="567" y="606" width="1" height="4" fill="#288a8a"/>
<rect x="600" y="606" width="1" height="2" fill="#288a8a"/>
<rect x="704" y="606" width="1" height="4" fill="#288a8a"/>
<rect x="898" y="606" width="1" height="4" fill="#288a8a"/>
<rect x="943" y="606" width="1" height="4" fill="#288a8a"/>
<rect x="58" y="607" width="1" height="6" fill="#288a8a"/>
<rect x="102" y="607" width="1" height="6" fill="#288a8a"/>
<rect x="116" y="607" width="2" height="1" fill="#288a8a"/>
<rect x="127" y="607" width="1" height="5" fill="#288a8a"/>
<rect x="160" y="607" width="1" height="4" fill="#288a8a"/>
<rect x="306" y="607" width="1" height="5" fill="#288a8a"/>
<rect x="321" y="607" width="1" height="6" fill="#288a8a"/>
<rect x="414" y="607" width="1" height="10" fill="#288a8a"/>
<rect x="565" y="607" width="1" height="6" fill="#288a8a"/>
<rect x="641" y="607" width="1" height="6" fill="#288a8a"/>
<rect x="663" y="607" width="1" height="4" fill="#288a8a"/>
<rect x="961" y="607" width="1" height="4" fill="#288a8a"/>
<rect x="99" y="608" width="1" height="4" fill="#288a8a"/>
<rect x="116" y="608" width="1" height="1" fill="#288a8a"/>
<rect x="214" y="608" width="1" height="2" fill="#288a8a"/>
<rect x="232" y="608" width="1" height="2" fill="#288a8a"/>
<rect x="370" y="608" width="1" height="6" fill="#288a8a"/>
<rect x="486" y="608" width="1" height="4" fill="#288a8a"/>
<rect x="549" y="608" width="1" height="5" fill="#288a8a"/>
<rect x="581" y="608" width="1" height="6" fill="#288a8a"/>
<rect x="599" y="608" width="1" height="2" fill="#288a8a"/>
<rect x="672" y="608" width="1" height="5" fill="#288a8a"/>
<rect x="783" y="608" width="1" height="5" fill="#288a8a"/>
<rect x="385" y="609" width="1" height="3" fill="#288a8a"/>
<rect x="598" y="609" width="1" height="3" fill="#288a8a"/>
<rect x="811" y="609" width="1" height="7" fill="#288a8a"/>
<rect x="855" y="609" width="1" height="4" fill="#288a8a"/>
<rect x="213" y="610" width="1" height="2" fill="#288a8a"/>
<rect x="233" y="610" width="2" height="1" fill="#288a8a"/>
<rect x="392" y="610" width="1" height="6" fill="#288a8a"/>
<rect x="568" y="610" width="1" height="4" fill="#288a8a"/>
<rect x="705" y="610" width="1" height="4" fill="#288a8a"/>
<rect x="764" y="610" width="1" height="6" fill="#288a8a"/>
<rect x="899" y="610" width="1" height="6" fill="#288a8a"/>
<rect x="942" y="610" width="1" height="4" fill="#288a8a"/>
<rect x="80" y="611" width="1" height="7" fill="#288a8a"/>
<rect x="161" y="611" width="1" height="2" fill="#288a8a"/>
<rect x="178" y="611" width="1" height="7" fill="#288a8a"/>
<rect x="235" y="611" width="2" height="1" fill="#288a8a"/>
<rect x="664" y="611" width="1" height="3" fill="#288a8a"/>
<rect x="830" y="611" width="1" height="8" fill="#288a8a"/>
<rect x="962" y="611" width="1" height="5" fill="#288a8a"/>
<rect x="100" y="612" width="1" height="3" fill="#288a8a"/>
<rect x="128" y="612" width="1" height="9" fill="#288a8a"/>
<rect x="212" y="612" width="1" height="2" fill="#288a8a"/>
<rect x="237" y="612" width="1" height="1" fill="#288a8a"/>
<rect x="244" y="612" width="1" height="3" fill="#288a8a"/>
<rect x="305" y="612" width="1" height="6" fill="#288a8a"/>
<rect x="386" y="612" width="1" height="3" fill="#288a8a"/>
<rect x="446" y="612" width="1" height="7" fill="#288a8a"/>
<rect x="487" y="612" width="1" height="4" fill="#288a8a"/>
<rect x="498" y="612" width="1" height="6" fill="#288a8a"/>
<rect x="629" y="612" width="1" height="10" fill="#288a8a"/>
<rect x="59" y="613" width="1" height="12" fill="#288a8a"/>
<rect x="101" y="613" width="1" height="4" fill="#288a8a"/>
<rect x="146" y="613" width="1" height="7" fill="#288a8a"/>
<rect x="162" y="613" width="1" height="2" fill="#288a8a"/>
<rect x="238" y="613" width="1" height="2" fill="#288a8a"/>
<rect x="243" y="613" width="1" height="1" fill="#288a8a"/>
<rect x="322" y="613" width="1" height="10" fill="#288a8a"/>
<rect x="550" y="613" width="1" height="4" fill="#288a8a"/>
<rect x="564" y="613" width="1" height="6" fill="#288a8a"/>
<rect x="640" y="613" width="1" height="6" fill="#288a8a"/>
<rect x="671" y="613" width="1" height="2" fill="#288a8a"/>
<rect x="784" y="613" width="1" height="4" fill="#288a8a"/>
<rect x="854" y="613" width="1" height="7" fill="#288a8a"/>
<rect x="211" y="614" width="1" height="5" fill="#288a8a"/>
<rect x="242" y="614" width="1" height="1" fill="#288a8a"/>
<rect x="369" y="614" width="1" height="5" fill="#288a8a"/>
<rect x="569" y="614" width="1" height="3" fill="#288a8a"/>
<rect x="580" y="614" width="1" height="7" fill="#288a8a"/>
<rect x="665" y="614" width="1" height="2" fill="#288a8a"/>
<rect x="706" y="614" width="1" height="4" fill="#288a8a"/>
<rect x="941" y="614" width="1" height="4" fill="#288a8a"/>
<rect x="163" y="615" width="1" height="2" fill="#288a8a"/>
<rect x="202" y="615" width="1" height="10" fill="#288a8a"/>
<rect x="239" y="615" width="1" height="1" fill="#288a8a"/>
<rect x="241" y="615" width="1" height="1" fill="#288a8a"/>
<rect x="245" y="615" width="1" height="4" fill="#288a8a"/>
<rect x="387" y="615" width="1" height="3" fill="#288a8a"/>
<rect x="670" y="615" width="1" height="2" fill="#288a8a"/>
<rect x="240" y="616" width="1" height="1" fill="#288a8a"/>
<rect x="328" y="616" width="1" height="3" fill="#288a8a"/>
<rect x="391" y="616" width="1" height="6" fill="#288a8a"/>
<rect x="488" y="616" width="1" height="4" fill="#288a8a"/>
<rect x="666" y="616" width="1" height="2" fill="#288a8a"/>
<rect x="763" y="616" width="1" height="6" fill="#288a8a"/>
<rect x="810" y="616" width="1" height="9" fill="#288a8a"/>
<rect x="900" y="616" width="1" height="6" fill="#288a8a"/>
<rect x="963" y="616" width="1" height="4" fill="#288a8a"/>
<rect x="164" y="617" width="1" height="5" fill="#288a8a"/>
<rect x="415" y="617" width="1" height="10" fill="#288a8a"/>
<rect x="551" y="617" width="1" height="7" fill="#288a8a"/>
<rect x="570" y="617" width="1" height="2" fill="#288a8a"/>
<rect x="669" y="617" width="1" height="2" fill="#288a8a"/>
<rect x="785" y="617" width="1" height="5" fill="#288a8a"/>
<rect x="79" y="618" width="1" height="7" fill="#288a8a"/>
<rect x="177" y="618" width="1" height="6" fill="#288a8a"/>
<rect x="304" y="618" width="1" height="6" fill="#288a8a"/>
<rect x="388" y="618" width="1" height="3" fill="#288a8a"/>
<rect x="497" y="618" width="1" height="6" fill="#288a8a"/>
<rect x="667" y="618" width="1" height="2" fill="#288a8a"/>
<rect x="707" y="618" width="1" height="4" fill="#288a8a"/>
<rect x="940" y="618" width="1" height="4" fill="#288a8a"/>
<rect x="210" y="619" width="1" height="7" fill="#288a8a"/>
<rect x="246" y="619" width="1" height="5" fill="#288a8a"/>
<rect x="327" y="619" width="1" height="5" fill="#288a8a"/>
<rect x="329" y="619" width="1" height="6" fill="#288a8a"/>
<rect x="368" y="619" width="1" height="7" fill="#288a8a"/>
<rect x="445" y="619" width="1" height="6" fill="#288a8a"/>
<rect x="563" y="619" width="1" height="6" fill="#288a8a"/>
<rect x="571" y="619" width="1" height="2" fill="#288a8a"/>
<rect x="639" y="619" width="1" height="6" fill="#288a8a"/>
<rect x="668" y="619" width="1" height="2" fill="#288a8a"/>
<rect x="831" y="619" width="1" height="8" fill="#288a8a"/>
<rect x="145" y="620" width="1" height="7" fill="#288a8a"/>
<rect x="489" y="620" width="1" height="5" fill="#288a8a"/>
<rect x="853" y="620" width="1" height="8" fill="#288a8a"/>
<rect x="964" y="620" width="1" height="5" fill="#288a8a"/>
<rect x="129" y="621" width="1" height="10" fill="#288a8a"/>
<rect x="389" y="621" width="1" height="3" fill="#288a8a"/>
<rect x="572" y="621" width="1" height="2" fill="#288a8a"/>
<rect x="579" y="621" width="1" height="8" fill="#288a8a"/>
<rect x="165" y="622" width="1" height="8" fill="#288a8a"/>
<rect x="390" y="622" width="1" height="4" fill="#288a8a"/>
<rect x="630" y="622" width="1" height="10" fill="#288a8a"/>
<rect x="708" y="622" width="1" height="5" fill="#288a8a"/>
<rect x="762" y="622" width="1" height="7" fill="#288a8a"/>
<rect x="786" y="622" width="1" height="4" fill="#288a8a"/>
<rect x="901" y="622" width="1" height="6" fill="#288a8a"/>
<rect x="939" y="622" width="1" height="4" fill="#288a8a"/>
<rect x="323" y="623" width="1" height="10" fill="#288a8a"/>
<rect x="573" y="623" width="1" height="4" fill="#288a8a"/>
<rect x="176" y="624" width="1" height="6" fill="#288a8a"/>
<rect x="247" y="624" width="1" height="4" fill="#288a8a"/>
<rect x="303" y="624" width="1" height="5" fill="#288a8a"/>
<rect x="326" y="624" width="1" height="6" fill="#288a8a"/>
<rect x="496" y="624" width="1" height="5" fill="#288a8a"/>
<rect x="552" y="624" width="1" height="9" fill="#288a8a"/>
<rect x="60" y="625" width="1" height="11" fill="#288a8a"/>
<rect x="78" y="625" width="1" height="7" fill="#288a8a"/>
<rect x="203" y="625" width="1" height="11" fill="#288a8a"/>
<rect x="330" y="625" width="1" height="6" fill="#288a8a"/>
<rect x="444" y="625" width="1" height="4" fill="#288a8a"/>
<rect x="490" y="625" width="1" height="6" fill="#288a8a"/>
<rect x="562" y="625" width="1" height="7" fill="#288a8a"/>
<rect x="638" y="625" width="1" height="5" fill="#288a8a"/>
<rect x="809" y="625" width="1" height="11" fill="#288a8a"/>
<rect x="965" y="625" width="1" height="5" fill="#288a8a"/>
<rect x="209" y="626" width="1" height="7" fill="#288a8a"/>
<rect x="367" y="626" width="1" height="9" fill="#288a8a"/>
<rect x="787" y="626" width="1" height="4" fill="#288a8a"/>
<rect x="938" y="626" width="1" height="5" fill="#288a8a"/>
<rect x="144" y="627" width="1" height="6" fill="#288a8a"/>
<rect x="270" y="627" width="1" height="2" fill="#288a8a"/>
<rect x="416" y="627" width="1" height="10" fill="#288a8a"/>
<rect x="574" y="627" width="1" height="4" fill="#288a8a"/>
<rect x="709" y="627" width="1" height="4" fill="#288a8a"/>
<rect x="832" y="627" width="1" height="6" fill="#288a8a"/>
<rect x="248" y="628" width="1" height="7" fill="#288a8a"/>
<rect x="269" y="628" width="1" height="1" fill="#288a8a"/>
<rect x="852" y="628" width="1" height="8" fill="#288a8a"/>
<rect x="902" y="628" width="1" height="5" fill="#288a8a"/>
<rect x="267" y="629" width="2" height="1" fill="#288a8a"/>
<rect x="271" y="629" width="1" height="2" fill="#288a8a"/>
<rect x="302" y="629" width="1" height="3" fill="#288a8a"/>
<rect x="443" y="629" width="1" height="5" fill="#288a8a"/>
<rect x="495" y="629" width="1" height="3" fill="#288a8a"/>
<rect x="578" y="629" width="1" height="8" fill="#288a8a"/>
<rect x="761" y="629" width="1" height="8" fill="#288a8a"/>
<rect x="924" y="629" width="1" height="2" fill="#288a8a"/>
<rect x="65" y="630" width="1" height="4" fill="#288a8a"/>
<rect x="166" y="630" width="1" height="7" fill="#288a8a"/>
<rect x="175" y="630" width="1" height="6" fill="#288a8a"/>
<rect x="266" y="630" width="1" height="1" fill="#288a8a"/>
<rect x="325" y="630" width="1" height="5" fill="#288a8a"/>
<rect x="335" y="630" width="1" height="4" fill="#288a8a"/>
<rect x="637" y="630" width="1" height="5" fill="#288a8a"/>
<rect x="788" y="630" width="1" height="4" fill="#288a8a"/>
<rect x="925" y="630" width="1" height="1" fill="#288a8a"/>
<rect x="966" y="630" width="1" height="4" fill="#288a8a"/>
<rect x="130" y="631" width="1" height="9" fill="#288a8a"/>
<rect x="265" y="631" width="1" height="2" fill="#288a8a"/>
<rect x="272" y="631" width="1" height="2" fill="#288a8a"/>
<rect x="331" y="631" width="1" height="6" fill="#288a8a"/>
<rect x="491" y="631" width="1" height="6" fill="#288a8a"/>
<rect x="575" y="631" width="1" height="4" fill="#288a8a"/>
<rect x="710" y="631" width="1" height="4" fill="#288a8a"/>
<rect x="923" y="631" width="1" height="3" fill="#288a8a"/>
<rect x="926" y="631" width="1" height="1" fill="#288a8a"/>
<rect x="937" y="631" width="1" height="5" fill="#288a8a"/>
<rect x="64" y="632" width="1" height="3" fill="#288a8a"/>
<rect x="77" y="632" width="1" height="8" fill="#288a8a"/>
<rect x="301" y="632" width="1" height="2" fill="#288a8a"/>
<rect x="334" y="632" width="1" height="3" fill="#288a8a"/>
<rect x="494" y="632" width="1" height="3" fill="#288a8a"/>
<rect x="561" y="632" width="1" height="7" fill="#288a8a"/>
<rect x="631" y="632" width="1" height="6" fill="#288a8a"/>
<rect x="927" y="632" width="1" height="3" fill="#288a8a"/>
<rect x="143" y="633" width="1" height="7" fill="#288a8a"/>
<rect x="208" y="633" width="1" height="7" fill="#288a8a"/>
<rect x="264" y="633" width="1" height="2" fill="#288a8a"/>
<rect x="273" y="633" width="1" height="5" fill="#288a8a"/>
<rect x="324" y="633" width="1" height="5" fill="#288a8a"/>
<rect x="553" y="633" width="1" height="8" fill="#288a8a"/>
<rect x="833" y="633" width="1" height="5" fill="#288a8a"/>
<rect x="903" y="633" width="1" height="4" fill="#288a8a"/>
<rect x="66" y="634" width="1" height="7" fill="#288a8a"/>
<rect x="300" y="634" width="1" height="3" fill="#288a8a"/>
<rect x="336" y="634" width="1" height="6" fill="#288a8a"/>
<rect x="442" y="634" width="1" height="4" fill="#288a8a"/>
<rect x="789" y="634" width="1" height="5" fill="#288a8a"/>
<rect x="922" y="634" width="1" height="2" fill="#288a8a"/>
<rect x="967" y="634" width="1" height="5" fill="#288a8a"/>
<rect x="63" y="635" width="1" height="2" fill="#288a8a"/>
<rect x="249" y="635" width="1" height="8" fill="#288a8a"/>
<rect x="263" y="635" width="1" height="2" fill="#288a8a"/>
<rect x="333" y="635" width="1" height="3" fill="#288a8a"/>
<rect x="366" y="635" width="1" height="10" fill="#288a8a"/>
<rect x="493" y="635" width="1" height="3" fill="#288a8a"/>
<rect x="576" y="635" width="1" height="4" fill="#288a8a"/>
<rect x="636" y="635" width="1" height="5" fill="#288a8a"/>
<rect x="711" y="635" width="1" height="4" fill="#288a8a"/>
<rect x="928" y="635" width="1" height="4" fill="#288a8a"/>
<rect x="61" y="636" width="1" height="6" fill="#288a8a"/>
<rect x="174" y="636" width="1" height="3" fill="#288a8a"/>
<rect x="204" y="636" width="1" height="6" fill="#288a8a"/>
<rect x="808" y="636" width="1" height="11" fill="#288a8a"/>
<rect x="851" y="636" width="1" height="7" fill="#288a8a"/>
<rect x="921" y="636" width="1" height="3" fill="#288a8a"/>
<rect x="936" y="636" width="1" height="5" fill="#288a8a"/>
<rect x="62" y="637" width="1" height="3" fill="#288a8a"/>
<rect x="167" y="637" width="1" height="4" fill="#288a8a"/>
<rect x="262" y="637" width="1" height="3" fill="#288a8a"/>
<rect x="299" y="637" width="1" height="3" fill="#288a8a"/>
<rect x="332" y="637" width="1" height="3" fill="#288a8a"/>
<rect x="417" y="637" width="1" height="11" fill="#288a8a"/>
<rect x="492" y="637" width="1" height="3" fill="#288a8a"/>
<rect x="577" y="637" width="1" height="5" fill="#288a8a"/>
<rect x="760" y="637" width="1" height="7" fill="#288a8a"/>
<rect x="904" y="637" width="1" height="4" fill="#288a8a"/>
<rect x="274" y="638" width="1" height="6" fill="#288a8a"/>
<rect x="441" y="638" width="1" height="5" fill="#288a8a"/>
<rect x="632" y="638" width="1" height="1" fill="#288a8a"/>
<rect x="834" y="638" width="1" height="5" fill="#288a8a"/>
<rect x="172" y="639" width="2" height="1" fill="#288a8a"/>
<rect x="560" y="639" width="1" height="8" fill="#288a8a"/>
<rect x="633" y="639" width="1" height="2" fill="#288a8a"/>
<rect x="712" y="639" width="1" height="6" fill="#288a8a"/>
<rect x="790" y="639" width="1" height="5" fill="#288a8a"/>
<rect x="920" y="639" width="1" height="4" fill="#288a8a"/>
<rect x="929" y="639" width="1" height="5" fill="#288a8a"/>
<rect x="968" y="639" width="1" height="3" fill="#288a8a"/>
<rect x="76" y="640" width="1" height="4" fill="#288a8a"/>
<rect x="131" y="640" width="1" height="6" fill="#288a8a"/>
<rect x="142" y="640" width="1" height="6" fill="#288a8a"/>
<rect x="168" y="640" width="4" height="1" fill="#288a8a"/>
<rect x="207" y="640" width="1" height="4" fill="#288a8a"/>
<rect x="261" y="640" width="1" height="2" fill="#288a8a"/>
<rect x="298" y="640" width="1" height="4" fill="#288a8a"/>
<rect x="337" y="640" width="1" height="6" fill="#288a8a"/>
<rect x="635" y="640" width="1" height="3" fill="#288a8a"/>
<rect x="67" y="641" width="1" height="7" fill="#288a8a"/>
<rect x="554" y="641" width="1" height="9" fill="#288a8a"/>
<rect x="634" y="641" width="1" height="1" fill="#288a8a"/>
<rect x="905" y="641" width="1" height="4" fill="#288a8a"/>
<rect x="935" y="641" width="1" height="3" fill="#288a8a"/>
<rect x="205" y="642" width="2" height="1" fill="#288a8a"/>
<rect x="260" y="642" width="1" height="3" fill="#288a8a"/>
<rect x="250" y="643" width="1" height="8" fill="#288a8a"/>
<rect x="440" y="643" width="1" height="5" fill="#288a8a"/>
<rect x="835" y="643" width="1" height="5" fill="#288a8a"/>
<rect x="850" y="643" width="1" height="4" fill="#288a8a"/>
<rect x="919" y="643" width="1" height="5" fill="#288a8a"/>
<rect x="75" y="644" width="1" height="1" fill="#288a8a"/>
<rect x="275" y="644" width="1" height="6" fill="#288a8a"/>
<rect x="297" y="644" width="1" height="3" fill="#288a8a"/>
<rect x="759" y="644" width="1" height="6" fill="#288a8a"/>
<rect x="791" y="644" width="1" height="4" fill="#288a8a"/>
<rect x="930" y="644" width="1" height="4" fill="#288a8a"/>
<rect x="934" y="644" width="1" height="2" fill="#288a8a"/>
<rect x="74" y="645" width="1" height="2" fill="#288a8a"/>
<rect x="259" y="645" width="1" height="3" fill="#288a8a"/>
<rect x="365" y="645" width="1" height="6" fill="#288a8a"/>
<rect x="713" y="645" width="1" height="6" fill="#288a8a"/>
<rect x="906" y="645" width="1" height="5" fill="#288a8a"/>
<rect x="132" y="646" width="1" height="3" fill="#288a8a"/>
<rect x="141" y="646" width="1" height="4" fill="#288a8a"/>
<rect x="338" y="646" width="1" height="6" fill="#288a8a"/>
<rect x="933" y="646" width="1" height="2" fill="#288a8a"/>
<rect x="73" y="647" width="1" height="1" fill="#288a8a"/>
<rect x="296" y="647" width="1" height="4" fill="#288a8a"/>
<rect x="559" y="647" width="1" height="7" fill="#288a8a"/>
<rect x="807" y="647" width="1" height="6" fill="#288a8a"/>
<rect x="849" y="647" width="1" height="4" fill="#288a8a"/>
<rect x="68" y="648" width="1" height="4" fill="#288a8a"/>
<rect x="72" y="648" width="1" height="1" fill="#288a8a"/>
<rect x="258" y="648" width="1" height="2" fill="#288a8a"/>
<rect x="418" y="648" width="1" height="10" fill="#288a8a"/>
<rect x="439" y="648" width="1" height="6" fill="#288a8a"/>
<rect x="792" y="648" width="1" height="4" fill="#288a8a"/>
<rect x="836" y="648" width="1" height="3" fill="#288a8a"/>
<rect x="918" y="648" width="1" height="5" fill="#288a8a"/>
<rect x="931" y="648" width="1" height="3" fill="#288a8a"/>
<rect x="932" y="648" width="1" height="2" fill="#288a8a"/>
<rect x="71" y="649" width="1" height="1" fill="#288a8a"/>
<rect x="133" y="649" width="1" height="3" fill="#288a8a"/>
<rect x="69" y="650" width="2" height="1" fill="#288a8a"/>
<rect x="140" y="650" width="1" height="5" fill="#288a8a"/>
<rect x="257" y="650" width="1" height="2" fill="#288a8a"/>
<rect x="276" y="650" width="1" height="6" fill="#288a8a"/>
<rect x="555" y="650" width="1" height="5" fill="#288a8a"/>
<rect x="758" y="650" width="1" height="6" fill="#288a8a"/>
<rect x="837" y="650" width="4" height="1" fill="#288a8a"/>
<rect x="907" y="650" width="1" height="6" fill="#288a8a"/>
<rect x="251" y="651" width="1" height="4" fill="#288a8a"/>
<rect x="295" y="651" width="1" height="2" fill="#288a8a"/>
<rect x="364" y="651" width="1" height="2" fill="#288a8a"/>
<rect x="714" y="651" width="1" height="6" fill="#288a8a"/>
<rect x="840" y="651" width="1" height="1" fill="#288a8a"/>
<rect x="848" y="651" width="1" height="4" fill="#288a8a"/>
<rect x="134" y="652" width="1" height="3" fill="#288a8a"/>
<rect x="256" y="652" width="1" height="2" fill="#288a8a"/>
<rect x="339" y="652" width="1" height="4" fill="#288a8a"/>
<rect x="793" y="652" width="1" height="2" fill="#288a8a"/>
<rect x="841" y="652" width="1" height="4" fill="#288a8a"/>
<rect x="294" y="653" width="1" height="1" fill="#288a8a"/>
<rect x="363" y="653" width="1" height="3" fill="#288a8a"/>
<rect x="806" y="653" width="1" height="1" fill="#288a8a"/>
<rect x="917" y="653" width="1" height="5" fill="#288a8a"/>
<rect x="252" y="654" width="2" height="1" fill="#288a8a"/>
<rect x="255" y="654" width="1" height="2" fill="#288a8a"/>
<rect x="293" y="654" width="1" height="1" fill="#288a8a"/>
<rect x="438" y="654" width="1" height="3" fill="#288a8a"/>
<rect x="558" y="654" width="1" height="4" fill="#288a8a"/>
<rect x="794" y="654" width="1" height="2" fill="#288a8a"/>
<rect x="805" y="654" width="1" height="1" fill="#288a8a"/>
<rect x="135" y="655" width="1" height="2" fill="#288a8a"/>
<rect x="139" y="655" width="1" height="4" fill="#288a8a"/>
<rect x="254" y="655" width="1" height="1" fill="#288a8a"/>
<rect x="292" y="655" width="1" height="1" fill="#288a8a"/>
<rect x="556" y="655" width="1" height="1" fill="#288a8a"/>
<rect x="737" y="655" width="9" height="1" fill="#288a8a"/>
<rect x="804" y="655" width="1" height="1" fill="#288a8a"/>
<rect x="847" y="655" width="1" height="3" fill="#288a8a"/>
<rect x="277" y="656" width="1" height="4" fill="#288a8a"/>
<rect x="291" y="656" width="1" height="1" fill="#288a8a"/>
<rect x="340" y="656" width="2" height="1" fill="#288a8a"/>
<rect x="362" y="656" width="1" height="2" fill="#288a8a"/>
<rect x="557" y="656" width="1" height="1" fill="#288a8a"/>
<rect x="737" y="656" width="1" height="1" fill="#288a8a"/>
<rect x="745" y="656" width="1" height="1" fill="#288a8a"/>
<rect x="757" y="656" width="1" height="6" fill="#288a8a"/>
<rect x="795" y="656" width="1" height="2" fill="#288a8a"/>
<rect x="803" y="656" width="1" height="1" fill="#288a8a"/>
<rect x="842" y="656" width="1" height="4" fill="#288a8a"/>
<rect x="908" y="656" width="1" height="6" fill="#288a8a"/>
<rect x="136" y="657" width="1" height="2" fill="#288a8a"/>
<rect x="289" y="657" width="2" height="1" fill="#288a8a"/>
<rect x="342" y="657" width="1" height="1" fill="#288a8a"/>
<rect x="437" y="657" width="1" height="2" fill="#288a8a"/>
<rect x="715" y="657" width="1" height="3" fill="#288a8a"/>
<rect x="736" y="657" width="1" height="3" fill="#288a8a"/>
<rect x="746" y="657" width="1" height="2" fill="#288a8a"/>
<rect x="802" y="657" width="1" height="1" fill="#288a8a"/>
<rect x="288" y="658" width="1" height="1" fill="#288a8a"/>
<rect x="343" y="658" width="1" height="2" fill="#288a8a"/>
<rect x="361" y="658" width="1" height="2" fill="#288a8a"/>
<rect x="419" y="658" width="1" height="6" fill="#288a8a"/>
<rect x="796" y="658" width="1" height="2" fill="#288a8a"/>
<rect x="801" y="658" width="1" height="1" fill="#288a8a"/>
<rect x="846" y="658" width="1" height="1" fill="#288a8a"/>
<rect x="916" y="658" width="1" height="3" fill="#288a8a"/>
<rect x="137" y="659" width="2" height="1" fill="#288a8a"/>
<rect x="287" y="659" width="1" height="1" fill="#288a8a"/>
<rect x="436" y="659" width="1" height="2" fill="#288a8a"/>
<rect x="716" y="659" width="2" height="1" fill="#288a8a"/>
<rect x="747" y="659" width="1" height="2" fill="#288a8a"/>
<rect x="797" y="659" width="4" height="1" fill="#288a8a"/>
<rect x="845" y="659" width="1" height="1" fill="#288a8a"/>
<rect x="137" y="660" width="2" height="1" fill="#288a8a"/>
<rect x="278" y="660" width="1" height="2" fill="#288a8a"/>
<rect x="285" y="660" width="2" height="1" fill="#288a8a"/>
<rect x="344" y="660" width="1" height="2" fill="#288a8a"/>
<rect x="359" y="660" width="2" height="1" fill="#288a8a"/>
<rect x="430" y="660" width="1" height="1" fill="#288a8a"/>
<rect x="718" y="660" width="2" height="1" fill="#288a8a"/>
<rect x="735" y="660" width="1" height="3" fill="#288a8a"/>
<rect x="751" y="660" width="2" height="1" fill="#288a8a"/>
<rect x="843" y="660" width="2" height="1" fill="#288a8a"/>
<rect x="138" y="661" width="1" height="1" fill="#288a8a"/>
<rect x="284" y="661" width="1" height="1" fill="#288a8a"/>
<rect x="357" y="661" width="2" height="1" fill="#288a8a"/>
<rect x="429" y="661" width="1" height="1" fill="#288a8a"/>
<rect x="431" y="661" width="1" height="1" fill="#288a8a"/>
<rect x="435" y="661" width="1" height="2" fill="#288a8a"/>
<rect x="720" y="661" width="1" height="1" fill="#288a8a"/>
<rect x="748" y="661" width="3" height="1" fill="#288a8a"/>
<rect x="753" y="661" width="1" height="1" fill="#288a8a"/>
<rect x="843" y="661" width="1" height="1" fill="#288a8a"/>
<rect x="915" y="661" width="1" height="2" fill="#288a8a"/>
<rect x="279" y="662" width="1" height="2" fill="#288a8a"/>
<rect x="283" y="662" width="1" height="1" fill="#288a8a"/>
<rect x="345" y="662" width="1" height="2" fill="#288a8a"/>
<rect x="356" y="662" width="1" height="1" fill="#288a8a"/>
<rect x="422" y="662" width="3" height="1" fill="#288a8a"/>
<rect x="428" y="662" width="1" height="2" fill="#288a8a"/>
<rect x="432" y="662" width="1" height="1" fill="#288a8a"/>
<rect x="721" y="662" width="1" height="2" fill="#288a8a"/>
<rect x="754" y="662" width="1" height="1" fill="#288a8a"/>
<rect x="756" y="662" width="1" height="3" fill="#288a8a"/>
<rect x="909" y="662" width="1" height="4" fill="#288a8a"/>
<rect x="282" y="663" width="1" height="1" fill="#288a8a"/>
<rect x="355" y="663" width="1" height="1" fill="#288a8a"/>
<rect x="420" y="663" width="2" height="1" fill="#288a8a"/>
<rect x="425" y="663" width="2" height="1" fill="#288a8a"/>
<rect x="433" y="663" width="2" height="1" fill="#288a8a"/>
<rect x="734" y="663" width="1" height="2" fill="#288a8a"/>
<rect x="755" y="663" width="1" height="1" fill="#288a8a"/>
<rect x="914" y="663" width="1" height="2" fill="#288a8a"/>
<rect x="280" y="664" width="2" height="1" fill="#288a8a"/>
<rect x="346" y="664" width="1" height="2" fill="#288a8a"/>
<rect x="354" y="664" width="1" height="1" fill="#288a8a"/>
<rect x="427" y="664" width="1" height="1" fill="#288a8a"/>
<rect x="434" y="664" width="1" height="1" fill="#288a8a"/>
<rect x="722" y="664" width="1" height="1" fill="#288a8a"/>
<rect x="280" y="665" width="1" height="1" fill="#288a8a"/>
<rect x="347" y="665" width="2" height="1" fill="#288a8a"/>
<rect x="352" y="665" width="2" height="1" fill="#288a8a"/>
<rect x="723" y="665" width="4" height="1" fill="#288a8a"/>
<rect x="733" y="665" width="1" height="1" fill="#288a8a"/>
<rect x="910" y="665" width="2" height="1" fill="#288a8a"/>
<rect x="913" y="665" width="1" height="2" fill="#288a8a"/>
<rect x="349" y="666" width="3" height="1" fill="#288a8a"/>
<rect x="727" y="666" width="1" height="1" fill="#288a8a"/>
<rect x="732" y="666" width="1" height="2" fill="#288a8a"/>
<rect x="912" y="666" width="1" height="1" fill="#288a8a"/>
<rect x="728" y="667" width="1" height="1" fill="#288a8a"/>
<rect x="729" y="668" width="1" height="1" fill="#288a8a"/>
<rect x="731" y="668" width="1" height="1" fill="#288a8a"/>
<rect x="730" y="669" width="1" height="1" fill="#288a8a"/>
</g>
<g>
<text transform="translate(47.4,43) scale(1,1.035)" font-size="13.5" text-anchor="end" fill="#000">1.06</text>
<text transform="translate(1054.1,43) scale(1,1.083)" font-size="12.9" text-anchor="end" fill="#000">1.06</text>
<text transform="translate(47.4,60) scale(1,1.035)" font-size="13.5" text-anchor="end" fill="#000">1.05</text>
<text transform="translate(1054.1,60) scale(1,1.083)" font-size="12.9" text-anchor="end" fill="#000">1.05</text>
<text transform="translate(47.4,77) scale(1,1.035)" font-size="13.5" text-anchor="end" fill="#000">1.04</text>
<text transform="translate(1054.1,77) scale(1,1.083)" font-size="12.9" text-anchor="end" fill="#000">1.04</text>
<text transform="translate(47.4,94) scale(1,1.035)" font-size="13.5" text-anchor="end" fill="#000">1.03</text>
<text transform="translate(1054.1,94) scale(1,1.083)" font-size="12.9" text-anchor="end" fill="#000">1.03</text>
<text transform="translate(47.4,111) scale(1,1.035)" font-size="13.5" text-anchor="end" fill="#000">1.02</text>
<text transform="translate(1054.1,111) scale(1,1.083)" font-size="12.9" text-anchor="end" fill="#000">1.02</text>
<text transform="translate(47.4,128) scale(1,1.035)" font-size="13.5" text-anchor="end" fill="#000">1.01</text>
<text transform="translate(1054.1,128) scale(1,1.083)" font-size="12.9" text-anchor="end" fill="#000">1.01</text>
<text transform="translate(47.4,146) scale(1,1.035)" font-size="13.5" text-anchor="end" fill="#000">1.00</text>
<text transform="translate(1054.1,146) scale(1,1.083)" font-size="12.9" text-anchor="end" fill="#000">1.00</text>
<text transform="translate(47.4,164) scale(1,1.035)" font-size="13.5" text-anchor="end" fill="#000">0.99</text>
<text transform="translate(1054.1,164) scale(1,1.083)" font-size="12.9" text-anchor="end" fill="#000">0.99</text>
<text transform="translate(47.4,182) scale(1,1.035)" font-size="13.5" text-anchor="end" fill="#000">0.98</text>
<text transform="translate(1054.1,182) scale(1,1.083)" font-size="12.9" text-anchor="end" fill="#000">0.98</text>
<text transform="translate(47.4,200) scale(1,1.035)" font-size="13.5" text-anchor="end" fill="#000">0.97</text>
<text transform="translate(1054.1,200) scale(1,1.083)" font-size="12.9" text-anchor="end" fill="#000">0.97</text>
<text transform="translate(47.4,218) scale(1,1.035)" font-size="13.5" text-anchor="end" fill="#000">0.96</text>
<text transform="translate(1054.1,218) scale(1,1.083)" font-size="12.9" text-anchor="end" fill="#000">0.96</text>
<text transform="translate(47.4,237) scale(1,1.035)" font-size="13.5" text-anchor="end" fill="#000">0.95</text>
<text transform="translate(1054.1,237) scale(1,1.083)" font-size="12.9" text-anchor="end" fill="#000">0.95</text>
<text transform="translate(47.4,255) scale(1,1.035)" font-size="13.5" text-anchor="end" fill="#000">0.94</text>
<text transform="translate(1054.1,255) scale(1,1.083)" font-size="12.9" text-anchor="end" fill="#000">0.94</text>
<text transform="translate(47.4,274) scale(1,1.035)" font-size="13.5" text-anchor="end" fill="#000">0.93</text>
<text transform="translate(1054.1,274) scale(1,1.083)" font-size="12.9" text-anchor="end" fill="#000">0.93</text>
<text transform="translate(47.4,293) scale(1,1.035)" font-size="13.5" text-anchor="end" fill="#000">0.92</text>
<text transform="translate(1054.1,293) scale(1,1.083)" font-size="12.9" text-anchor="end" fill="#000">0.92</text>
<text transform="translate(47.4,312) scale(1,1.035)" font-size="13.5" text-anchor="end" fill="#000">0.91</text>
<text transform="translate(1054.1,312) scale(1,1.083)" font-size="12.9" text-anchor="end" fill="#000">0.91</text>
<text transform="translate(47.4,332) scale(1,1.035)" font-size="13.5" text-anchor="end" fill="#000">0.90</text>
<text transform="translate(1054.1,332) scale(1,1.083)" font-size="12.9" text-anchor="end" fill="#000">0.90</text>
<text transform="translate(47.4,352) scale(1,1.035)" font-size="13.5" text-anchor="end" fill="#000">0.89</text>
<text transform="translate(1054.1,352) scale(1,1.083)" font-size="12.9" text-anchor="end" fill="#000">0.89</text>
<text transform="translate(47.4,371) scale(1,1.035)" font-size="13.5" text-anchor="end" fill="#000">0.88</text>
<text transform="translate(1054.1,371) scale(1,1.083)" font-size="12.9" text-anchor="end" fill="#000">0.88</text>
<text transform="translate(47.4,392) scale(1,1.035)" font-size="13.5" text-anchor="end" fill="#000">0.87</text>
<text transform="translate(1054.1,392) scale(1,1.083)" font-size="12.9" text-anchor="end" fill="#000">0.87</text>
<text transform="translate(47.4,412) scale(1,1.035)" font-size="13.5" text-anchor="end" fill="#000">0.86</text>
<text transform="translate(1054.1,412) scale(1,1.083)" font-size="12.9" text-anchor="end" fill="#000">0.86</text>
<text transform="translate(47.4,433) scale(1,1.035)" font-size="13.5" text-anchor="end" fill="#000">0.85</text>
<text transform="translate(1054.1,433) scale(1,1.083)" font-size="12.9" text-anchor="end" fill="#000">0.85</text>
<text transform="translate(47.4,454) scale(1,1.035)" font-size="13.5" text-anchor="end" fill="#000">0.84</text>
<text transform="translate(1054.1,454) scale(1,1.083)" font-size="12.9" text-anchor="end" fill="#000">0.84</text>
<text transform="translate(47.4,475) scale(1,1.035)" font-size="13.5" text-anchor="end" fill="#000">0.83</text>
<text transform="translate(1054.1,475) scale(1,1.083)" font-size="12.9" text-anchor="end" fill="#000">0.83</text>
<text transform="translate(47.4,496) scale(1,1.035)" font-size="13.5" text-anchor="end" fill="#000">0.82</text>
<text transform="translate(1054.1,496) scale(1,1.083)" font-size="12.9" text-anchor="end" fill="#000">0.82</text>
<text transform="translate(47.4,518) scale(1,1.035)" font-size="13.5" text-anchor="end" fill="#000">0.81</text>
<text transform="translate(1054.1,518) scale(1,1.083)" font-size="12.9" text-anchor="end" fill="#000">0.81</text>
<text transform="translate(47.4,540) scale(1,1.035)" font-size="13.5" text-anchor="end" fill="#000">0.80</text>
<text transform="translate(1054.1,540) scale(1,1.083)" font-size="12.9" text-anchor="end" fill="#000">0.80</text>
<text transform="translate(47.4,625) scale(1,1.035)" font-size="13.5" text-anchor="end" fill="#000">50</text>
<text transform="translate(1054.1,625) scale(1,1.083)" font-size="12.9" text-anchor="end" fill="#000">50</text>
<text transform="translate(47.4,748) scale(1,1.035)" font-size="13.5" text-anchor="end" fill="#000">-2</text>
<text transform="translate(1054.1,748) scale(1,1.083)" font-size="12.9" text-anchor="end" fill="#000">-2</text>
<text transform="translate(47.4,734) scale(1,1.035)" font-size="13.5" text-anchor="end" fill="#000">-1</text>
<text transform="translate(1054.1,734) scale(1,1.083)" font-size="12.9" text-anchor="end" fill="#000">-1</text>
<text transform="translate(47.4,720) scale(1,1.035)" font-size="13.5" text-anchor="end" fill="#000">0</text>
<text transform="translate(1054.1,720) scale(1,1.083)" font-size="12.9" text-anchor="end" fill="#000">0</text>
<text transform="translate(47.4,706) scale(1,1.035)" font-size="13.5" text-anchor="end" fill="#000">1</text>
<text transform="translate(1054.1,706) scale(1,1.083)" font-size="12.9" text-anchor="end" fill="#000">1</text>
<text transform="translate(47.4,692) scale(1,1.035)" font-size="13.5" text-anchor="end" fill="#000">2</text>
<text transform="translate(1054.1,692) scale(1,1.083)" font-size="12.9" text-anchor="end" fill="#000">2</text>
<text transform="translate(61.9,774.6) scale(1,1.09)" font-size="12.8" text-anchor="start" fill="#000">J</text>
<text transform="translate(76.9,774.6) scale(1,1.09)" font-size="12.8" text-anchor="start" fill="#000">J</text>
<text transform="translate(90.9,774.6) scale(1,1.09)" font-size="12.8" text-anchor="start" fill="#000">A</text>
<text transform="translate(109.9,774.6) scale(1,1.09)" font-size="12.8" text-anchor="start" fill="#000">S</text>
<text transform="translate(123.9,774.6) scale(1,1.09)" font-size="12.8" text-anchor="start" fill="#000">O</text>
<text transform="translate(138.9,774.6) scale(1,1.09)" font-size="12.8" text-anchor="start" fill="#000">N</text>
<text transform="translate(156.9,774.6) scale(1,1.09)" font-size="12.8" text-anchor="start" fill="#000">D</text>
<text transform="translate(171.9,774.6) scale(1,1.09)" font-size="12.8" text-anchor="start" fill="#000">2020</text>
<text transform="translate(218.9,774.6) scale(1,1.09)" font-size="12.8" text-anchor="start" fill="#000">A</text>
<text transform="translate(233.9,774.6) scale(1,1.09)" font-size="12.8" text-anchor="start" fill="#000">M</text>
<text transform="translate(251.9,774.6) scale(1,1.09)" font-size="12.8" text-anchor="start" fill="#000">J</text>
<text transform="translate(266.9,774.6) scale(1,1.09)" font-size="12.8" text-anchor="start" fill="#000">J</text>
<text transform="translate(284.9,774.6) scale(1,1.09)" font-size="12.8" text-anchor="start" fill="#000">A</text>
<text transform="translate(299.9,774.6) scale(1,1.09)" font-size="12.8" text-anchor="start" fill="#000">S</text>
<text transform="translate(313.9,774.6) scale(1,1.09)" font-size="12.8" text-anchor="start" fill="#000">O</text>
<text transform="translate(332.9,774.6) scale(1,1.09)" font-size="12.8" text-anchor="start" fill="#000">N</text>
<text transform="translate(346.9,774.6) scale(1,1.09)" font-size="12.8" text-anchor="start" fill="#000">D</text>
<text transform="translate(361.9,774.6) scale(1,1.09)" font-size="12.8" text-anchor="start" fill="#000">2021</text>
<text transform="translate(408.9,774.6) scale(1,1.09)" font-size="12.8" text-anchor="start" fill="#000">A</text>
<text transform="translate(427.9,774.6) scale(1,1.09)" font-size="12.8" text-anchor="start" fill="#000">M</text>
<text transform="translate(441.9,774.6) scale(1,1.09)" font-size="12.8" text-anchor="start" fill="#000">J</text>
<text transform="translate(456.9,774.6) scale(1,1.09)" font-size="12.8" text-anchor="start" fill="#000">J</text>
<text transform="translate(474.9,774.6) scale(1,1.09)" font-size="12.8" text-anchor="start" fill="#000">A</text>
<text transform="translate(489.9,774.6) scale(1,1.09)" font-size="12.8" text-anchor="start" fill="#000">S</text>
<text transform="translate(503.9,774.6) scale(1,1.09)" font-size="12.8" text-anchor="start" fill="#000">O</text>
<text transform="translate(522.9,774.6) scale(1,1.09)" font-size="12.8" text-anchor="start" fill="#000">N</text>
<text transform="translate(536.9,774.6) scale(1,1.09)" font-size="12.8" text-anchor="start" fill="#000">D</text>
<text transform="translate(555.9,774.6) scale(1,1.09)" font-size="12.8" text-anchor="start" fill="#000">2022</text>
<text transform="translate(598.9,774.6) scale(1,1.09)" font-size="12.8" text-anchor="start" fill="#000">A</text>
<text transform="translate(617.9,774.6) scale(1,1.09)" font-size="12.8" text-anchor="start" fill="#000">M</text>
<text transform="translate(631.9,774.6) scale(1,1.09)" font-size="12.8" text-anchor="start" fill="#000">J</text>
<text transform="translate(646.9,774.6) scale(1,1.09)" font-size="12.8" text-anchor="start" fill="#000">J</text>
<text transform="translate(664.9,774.6) scale(1,1.09)" font-size="12.8" text-anchor="start" fill="#000">A</text>
<text transform="translate(679.9,774.6) scale(1,1.09)" font-size="12.8" text-anchor="start" fill="#000">S</text>
<text transform="translate(697.9,774.6) scale(1,1.09)" font-size="12.8" text-anchor="start" fill="#000">O</text>
<text transform="translate(712.9,774.6) scale(1,1.09)" font-size="12.8" text-anchor="start" fill="#000">N</text>
<text transform="translate(726.9,774.6) scale(1,1.09)" font-size="12.8" text-anchor="start" fill="#000">D</text>
<text transform="translate(745.9,774.6) scale(1,1.09)" font-size="12.8" text-anchor="start" fill="#000">2023</text>
<text transform="translate(792.9,774.6) scale(1,1.09)" font-size="12.8" text-anchor="start" fill="#000">A</text>
<text transform="translate(807.9,774.6) scale(1,1.09)" font-size="12.8" text-anchor="start" fill="#000">M</text>
<text transform="translate(821.9,774.6) scale(1,1.09)" font-size="12.8" text-anchor="start" fill="#000">J</text>
<text transform="translate(840.9,774.6) scale(1,1.09)" font-size="12.8" text-anchor="start" fill="#000">J</text>
<text transform="translate(854.9,774.6) scale(1,1.09)" font-size="12.8" text-anchor="start" fill="#000">A</text>
<text transform="translate(869.9,774.6) scale(1,1.09)" font-size="12.8" text-anchor="start" fill="#000">S</text>
<text transform="translate(887.9,774.6) scale(1,1.09)" font-size="12.8" text-anchor="start" fill="#000">O</text>
<text transform="translate(902.9,774.6) scale(1,1.09)" font-size="12.8" text-anchor="start" fill="#000">N</text>
<text transform="translate(916.9,774.6) scale(1,1.09)" font-size="12.8" text-anchor="start" fill="#000">D</text>
<text transform="translate(935.9,774.6) scale(1,1.09)" font-size="12.8" text-anchor="start" fill="#000">2024</text>
<text transform="translate(982.9,774.6) scale(1,1.09)" font-size="12.8" text-anchor="start" fill="#000">A</text>
<text transform="translate(997.9,774.6) scale(1,1.09)" font-size="12.8" text-anchor="start" fill="#000">M</text>
<text transform="translate(533,23.3) scale(1,1.062)" font-size="13.15" text-anchor="middle" fill="#000">DEX (0.92215, 0.92270, 0.91055, 0.91430, -0.00850)</text>
<text transform="translate(533,568.7) scale(1,1.062)" font-size="13.15" text-anchor="middle" fill="#000">Stochastic Oscillator (29.3505)</text>
<text transform="translate(533,690.8) scale(1,1.062)" font-size="13.15" text-anchor="middle" fill="#000">Price Oscillator (-0.32926)</text>
<text transform="translate(112.7,109.6) scale(1,1)" font-size="28.86" text-anchor="start" fill="#0000ff">US$, weekgrafiek</text>
<text transform="translate(740.8,82.7) scale(1,1)" font-size="28.6" text-anchor="start" fill="#0000ff">1,02 - 1,05</text>
<text transform="translate(870.4,366.4) scale(1,1)" font-size="28.2" text-anchor="start" fill="#008000">0,89 - 0,91</text>
<text transform="translate(946.2,447.8) scale(1,1)" font-size="28.6" text-anchor="start" fill="#008000">0,86</text>
<text transform="translate(983,799.8) scale(1,1.03)" font-size="9.05" text-anchor="start" fill="#000">Created in MetaStock</text>
</g>
</svg>
</body></html>
